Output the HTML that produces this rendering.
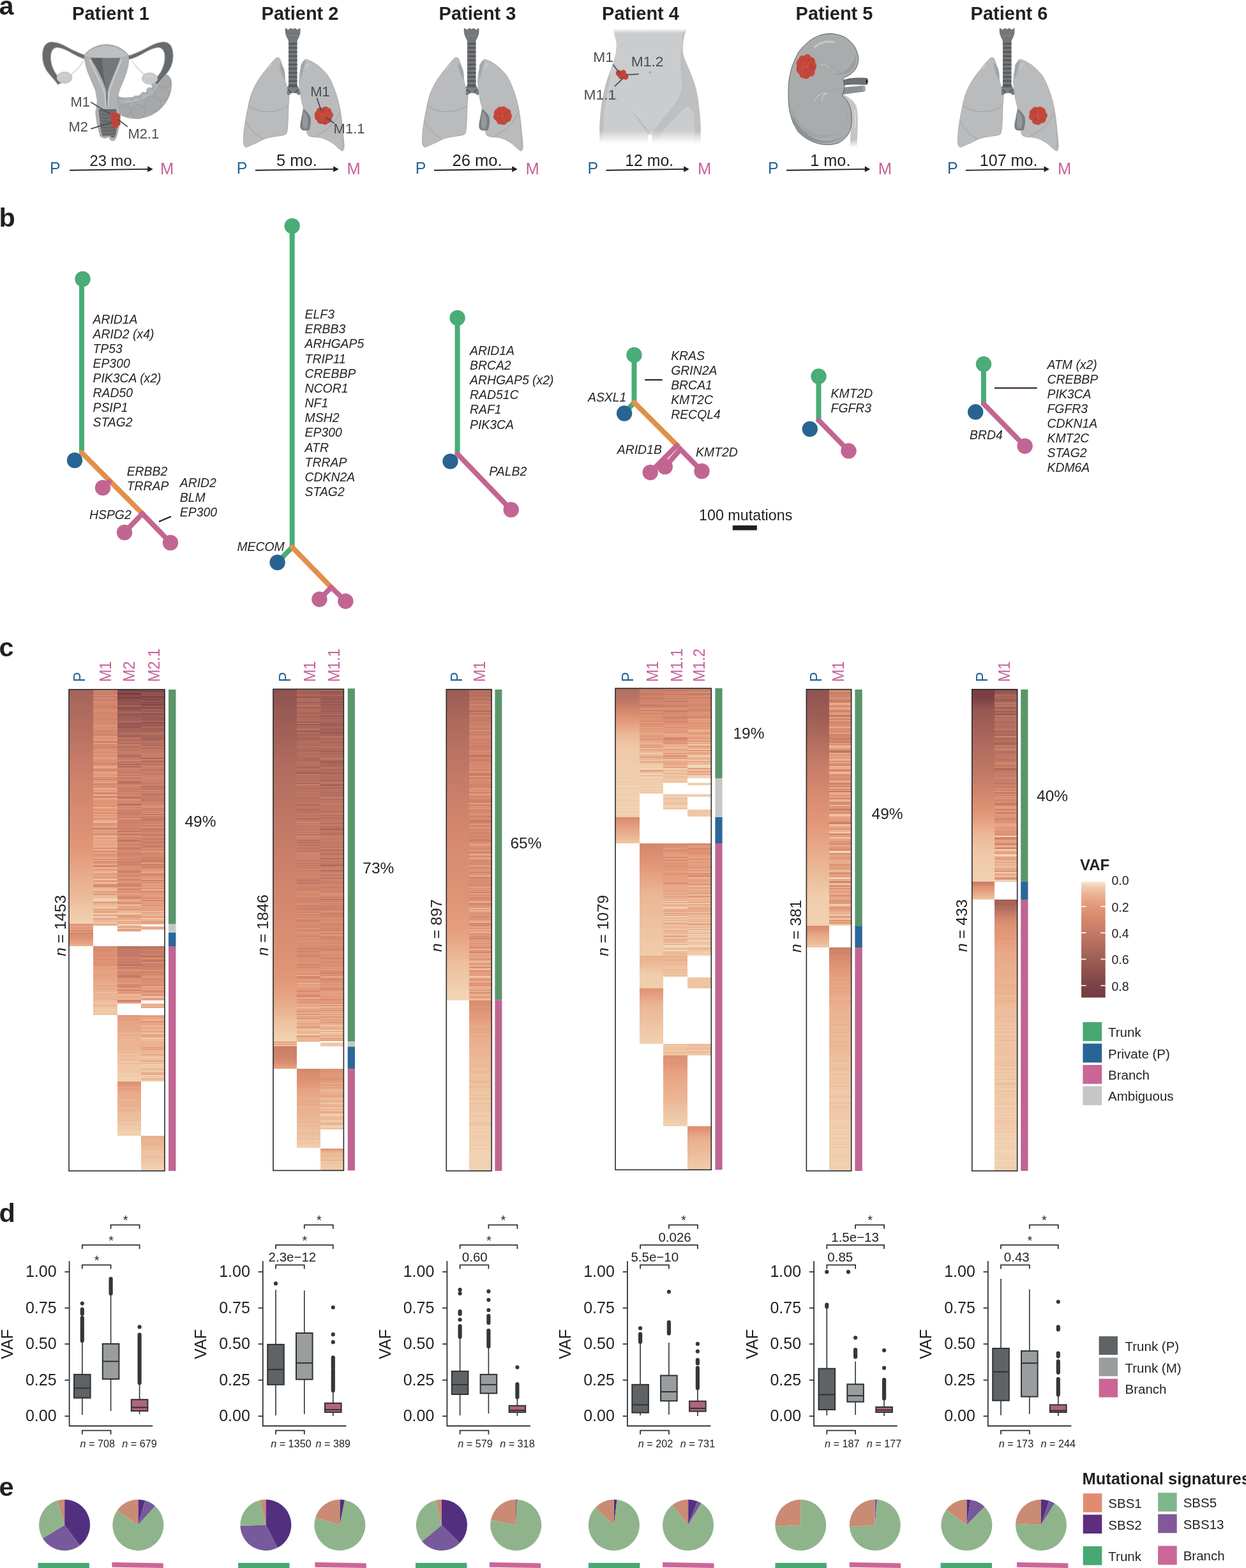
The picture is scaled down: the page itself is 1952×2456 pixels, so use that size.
<!DOCTYPE html><html><head><meta charset="utf-8"><title>Figure</title><style>html,body{margin:0;padding:0;background:#fff}#pg{position:relative;width:1952px;height:2456px;overflow:hidden;background:#fff}.hc{position:absolute}svg{position:absolute;left:0;top:0}svg text{font-family:"Liberation Sans", Arial, Helvetica, sans-serif}</style></head><body><div id="pg">
<div class="hc" style="left:108px;top:1080px;width:38px;height:754px;background:linear-gradient(#a56459 0px 2px,#a6645a 2px 4px,#a7655a 4px 8px,#a8655a 8px 10px,#a8665a 10px 12px,#a9665b 12px 14px,#a9675b 14px 16px,#aa675b 16px 20px,#ab685c 20px 24px,#ac695c 24px 28px,#ad6a5d 28px 32px,#ae6a5d 32px 34px,#ae6b5d 34px 36px,#af6b5e 36px 38px,#af6c5e 38px 40px,#b06c5e 40px 44px,#b16d5e 44px 46px,#b26d5f 46px 48px,#b26e5f 48px 50px,#b36e5f 50px 52px,#b36e60 52px 54px,#b46f60 54px 58px,#b57060 58px 60px,#b67061 60px 62px,#b67161 62px 64px,#b77161 64px 66px,#b87262 66px 70px,#b97262 70px 72px,#b97362 72px 74px,#ba7363 74px 76px,#bb7463 76px 80px,#bc7564 80px 84px,#bd7664 84px 86px,#be7665 86px 88px,#be7765 88px 90px,#bf7765 90px 92px,#c07765 92px 94px,#c07866 94px 96px,#c17866 96px 98px,#c17966 98px 100px,#c27967 100px 102px,#c37a67 102px 106px,#c47b67 106px 110px,#c57b68 110px 112px,#c67c68 112px 116px,#c77d68 116px 120px,#c87e69 120px 124px,#c97e69 124px 126px,#c97f69 126px 128px,#ca7f69 128px 130px,#cb806a 130px 134px,#cc816a 134px 138px,#cd816a 138px 140px,#cd826b 140px 142px,#ce826b 142px 144px,#ce836b 144px 146px,#cf836b 146px 150px,#d0846c 150px 154px,#d1846c 154px 156px,#d1856c 156px 160px,#d2856c 160px 162px,#d2866c 162px 164px,#d3866d 164px 168px,#d3876d 168px 170px,#d4876d 170px 174px,#d5886d 174px 176px,#d5886e 176px 180px,#d6896e 180px 184px,#d68a6f 184px 186px,#d78a6f 186px 190px,#d78b70 190px 192px,#d88b70 192px 196px,#d88c70 196px 198px,#d98c71 198px 200px,#d98d71 200px 204px,#da8d71 204px 206px,#da8e72 206px 210px,#db8f72 210px 214px,#db8f73 214px 216px,#dc9073 216px 222px,#dd9174 222px 226px,#dd9274 226px 228px,#de9275 228px 232px,#de9375 232px 234px,#df9375 234px 236px,#df9476 236px 240px,#e09476 240px 242px,#e09577 242px 244px,#e19577 244px 246px,#e19677 246px 248px,#e29678 248px 250px,#e29778 250px 252px,#e29879 252px 254px,#e3997a 254px 256px,#e39a7b 256px 258px,#e39b7c 258px 260px,#e39c7c 260px 262px,#e49d7d 262px 264px,#e49e7e 264px 266px,#e49f7f 266px 268px,#e5a080 268px 270px,#e5a181 270px 272px,#e5a282 272px 274px,#e5a383 274px 276px,#e6a484 276px 278px,#e6a585 278px 280px,#e6a685 280px 282px,#e7a786 282px 284px,#e7a887 284px 286px,#e7a988 286px 288px,#e7aa89 288px 290px,#e8ab8a 290px 292px,#e8ac8b 292px 294px,#e8ad8c 294px 296px,#e9ae8d 296px 298px,#e9af8e 298px 300px,#e9b08e 300px 302px,#e9b18f 302px 304px,#eab290 304px 306px,#eab291 306px 308px,#eab391 308px 310px,#eab492 310px 312px,#ebb593 312px 314px,#ebb694 314px 316px,#ebb795 316px 318px,#ebb896 318px 320px,#ecb998 320px 322px,#ecbb99 322px 324px,#ecbc9a 324px 326px,#edbd9b 326px 328px,#edbe9d 328px 330px,#edc09e 330px 332px,#edc19f 332px 334px,#eec2a1 334px 336px,#eec3a2 336px 338px,#eec4a3 338px 340px,#eec5a4 340px 342px,#efc6a5 342px 344px,#efc7a6 344px 346px,#efc8a7 346px 348px,#efc9a8 348px 350px,#efcaa9 350px 352px,#f0cbaa 352px 354px,#f0ccab 354px 356px,#f0cdac 356px 358px,#f0cead 358px 360px,#f0cfae 360px 362px,#f0d0b0 362px 364px,#f1d0b1 364px 366px,#f1d1b2 366px 367px,#e5a080 367px 367.5px,#d1856c 367.5px 368.5px,#eab391 368.5px 369.5px,#d88c70 369.5px 370px,#d2856c 370px 370.5px,#e39b7b 370.5px 371px,#e7a888 371px 372px,#cd816a 372px 372.5px,#e5a383 372.5px 373px,#d5896e 373px 374px,#d1856c 374px 374.5px,#e5a181 374.5px 375px,#e49f7f 375px 375.5px,#e7a786 375.5px 376px,#e29879 376px 377px,#f0ccab 377px 377.5px,#d6896e 377.5px 378px,#e49f7f 378px 378.5px,#d4876d 378.5px 379px,#edc19f 379px 379.5px,#e7a787 379.5px 380px,#d5886d 380px 381px,#d6896e 381px 382px,#d78a6f 382px 383px,#d88c70 383px 384px,#d98d71 384px 385px,#da8e72 385px 386px,#db9073 386px 387px,#dd9174 387px 388px,#de9275 388px 389px,#df9376 389px 390px,#e09576 390px 391px,#e19677 391px 392px,#e29879 392px 393px,#e39a7b 393px 394px,#e49d7d 394px 395px,#e49f80 395px 396px,#e5a282 396px 397px,#e6a484 397px 398px,#e7a786 398px 399px,#e7a989 399px 400px,#e8ac8b 400px 401px,#e9af8d 401px 402px,#fff 402px)"></div>
<div class="hc" style="left:146px;top:1080px;width:37.5px;height:754px;background:linear-gradient(#d5886e 0px 1px,#d0846b 1px 2px,#d0846c 2px 3px,#ce826b 3px 4px,#c27966 4px 5px,#c77d69 5px 6px,#d98c71 6px 7px,#b87262 7px 8px,#d0846c 8px 9px,#d88b70 9px 10px,#cc816a 10px 11px,#b97362 11px 12px,#d78b70 12px 14px,#ce836b 14px 15px,#c87d69 15px 16px,#cc816a 16px 17px,#cb806a 17px 18px,#d2866c 18px 19px,#dd9174 19px 20px,#d1856c 20px 22px,#d78a6f 22px 23px,#d0846c 23px 24px,#d2866c 24px 26px,#c37a67 26px 27px,#cf836b 27px 28px,#d1846c 28px 29px,#d1856c 29px 30px,#ce826b 30px 31px,#dc9073 31px 32px,#d0846c 32px 33px,#e29879 33px 34px,#d4876d 34px 35px,#cf846b 35px 36px,#d2866c 36px 37px,#d2856c 37px 39px,#d3866d 39px 41px,#d88c70 41px 42px,#d0846b 42px 43px,#d78a6f 43px 44px,#d3866d 44px 46px,#ca806a 46px 47px,#d4876d 47px 48px,#cf836b 48px 49px,#d98c71 49px 50px,#d5896e 50px 52px,#d78a6f 52px 53px,#ca7f69 53px 54px,#e09577 54px 55px,#db8f73 55px 57px,#de9375 57px 59px,#d68a6f 59px 60px,#d6896e 60px 61px,#df9476 61px 62px,#dc9073 62px 63px,#cf836b 63px 64px,#d68a6f 64px 65px,#d5896e 65px 66px,#d2856c 66px 67px,#d0846c 67px 68px,#e49e7e 68px 69px,#bf7765 69px 70px,#d3866d 70px 71px,#da8e72 71px 72px,#ca806a 72px 73px,#e5a080 73px 75px,#d88b70 75px 76px,#da8e72 76px 77px,#e29778 77px 79px,#e29879 79px 81px,#c87e69 81px 83px,#da8e72 83px 84px,#e5a080 84px 85px,#dc9073 85px 86px,#d4876d 86px 88px,#d78a6f 88px 89px,#d98c71 89px 90px,#cf836b 90px 92px,#d88c70 92px 93px,#dd9174 93px 95px,#dc9174 95px 96px,#de9375 96px 98px,#db8f72 98px 100px,#d88c70 100px 101px,#e39b7c 101px 102px,#dd9174 102px 103px,#da8e72 103px 104px,#d78b70 104px 105px,#de9375 105px 106px,#df9476 106px 107px,#e9af8d 107px 108px,#d88b70 108px 109px,#e6a484 109px 110px,#d6896e 110px 112px,#e5a282 112px 113px,#ca7f69 113px 114px,#e19577 114px 115px,#d88c70 115px 116px,#c57c68 116px 117px,#d98d71 117px 118px,#da8e72 118px 119px,#e49f7f 119px 120px,#e29778 120px 121px,#e9b18f 121px 122px,#e6a383 122px 124px,#d2866c 124px 125px,#d3866c 125px 126px,#d88c70 126px 127px,#dd9174 127px 128px,#da8d71 128px 129px,#e5a282 129px 130px,#e8aa89 130px 132px,#d88c70 132px 133px,#e6a383 133px 134px,#e19677 134px 135px,#df9375 135px 136px,#eab190 136px 137px,#d4876d 137px 138px,#dc9174 138px 140px,#c97f69 140px 141px,#d98d71 141px 142px,#e39a7b 142px 144px,#db8f73 144px 145px,#ebb593 145px 146px,#e09576 146px 147px,#cd816a 147px 148px,#de9275 148px 149px,#ca7f69 149px 150px,#e09576 150px 152px,#d3866d 152px 153px,#dc9073 153px 154px,#e5a080 154px 155px,#ecb997 155px 156px,#e7a786 156px 157px,#d3866d 157px 158px,#eab190 158px 159px,#dc9073 159px 160px,#e9b08f 160px 161px,#d2866c 161px 162px,#c97e69 162px 163px,#e09476 163px 164px,#e5a181 164px 166px,#eab190 166px 167px,#cb806a 167px 168px,#d3876d 168px 170px,#e9b08e 170px 172px,#e09576 172px 174px,#e19677 174px 176px,#d6896f 176px 177px,#e39c7d 177px 178px,#dd9174 178px 179px,#e19677 179px 181px,#e19577 181px 182px,#dc9073 182px 184px,#e7a787 184px 185px,#ebb694 185px 186px,#de9275 186px 187px,#e49e7e 187px 188px,#dd9174 188px 189px,#df9376 189px 191px,#ebb795 191px 192px,#db8f72 192px 193px,#d78a6f 193px 194px,#de9375 194px 195px,#eab290 195px 196px,#df9476 196px 197px,#e49e7f 197px 198px,#e29879 198px 199px,#e7a988 199px 200px,#e49e7e 200px 202px,#e09577 202px 203px,#d78a6f 203px 204px,#e9af8e 204px 206px,#e8ad8c 206px 208px,#edbe9c 208px 209px,#e29879 209px 210px,#d2856c 210px 211px,#e29879 211px 212px,#e5a282 212px 213px,#ce836b 213px 214px,#edc09e 214px 215px,#e39a7b 215px 216px,#de9275 216px 217px,#cc816a 217px 219px,#e29879 219px 220px,#e19677 220px 221px,#e9af8e 221px 222px,#e19677 222px 224px,#e8ab8a 224px 225px,#dd9174 225px 226px,#cf836b 226px 227px,#e49d7e 227px 228px,#e3997a 228px 229px,#eab492 229px 231px,#e9b08e 231px 232px,#e19677 232px 233px,#e6a383 233px 234px,#e49d7d 234px 235px,#eec2a1 235px 236px,#e5a382 236px 237px,#e29778 237px 238px,#e8ad8c 238px 240px,#e49e7e 240px 241px,#e8ac8b 241px 243px,#df9476 243px 244px,#eab190 244px 246px,#e6a383 246px 247px,#e49f7f 247px 249px,#ce836b 249px 250px,#eab492 250px 251px,#ebb593 251px 252px,#e09476 252px 253px,#d5896e 253px 254px,#e09577 254px 256px,#e9b08e 256px 257px,#e49d7d 257px 258px,#d0846c 258px 259px,#e3997a 259px 260px,#d98d71 260px 261px,#e8ad8c 261px 262px,#d4876d 262px 263px,#eab391 263px 265px,#d4876d 265px 267px,#ebb493 267px 268px,#e19677 268px 269px,#df9476 269px 270px,#d88c70 270px 272px,#e39b7b 272px 273px,#e5a382 273px 274px,#e8ad8c 274px 275px,#d78b70 275px 276px,#d5886e 276px 278px,#e39a7b 278px 279px,#efc9a7 279px 280px,#e6a585 280px 281px,#e19677 281px 282px,#e6a686 282px 283px,#e49d7d 283px 284px,#eab291 284px 286px,#edbe9c 286px 287px,#e5a080 287px 288px,#e6a484 288px 289px,#e39b7c 289px 291px,#e6a585 291px 292px,#ebb795 292px 293px,#da8e72 293px 294px,#e29879 294px 295px,#e8ac8b 295px 296px,#e7a786 296px 297px,#efc6a5 297px 298px,#edc1a0 298px 299px,#d98d71 299px 300px,#de9375 300px 301px,#e6a484 301px 302px,#f0cfaf 302px 303px,#e7aa89 303px 305px,#d78a6f 305px 307px,#dd9174 307px 308px,#d78a6f 308px 309px,#dd9174 309px 310px,#ecbd9b 310px 311px,#e6a584 311px 312px,#f0ccab 312px 313px,#e8ab8a 313px 314px,#edc1a0 314px 315px,#edbf9e 315px 316px,#df9375 316px 318px,#edc1a0 318px 319px,#e7a786 319px 320px,#e19677 320px 322px,#eec4a3 322px 323px,#e9af8e 323px 324px,#efc7a5 324px 325px,#ebb694 325px 326px,#edc1a0 326px 327px,#f1d6b8 327px 328px,#f0cdac 328px 330px,#f1d7b9 330px 331px,#f1d4b5 331px 332px,#e39b7c 332px 334px,#e8ab8a 334px 335px,#eab18f 335px 336px,#e9ae8d 336px 337px,#efcaa9 337px 338px,#eab392 338px 340px,#f0cdac 340px 342px,#edbe9c 342px 344px,#de9375 344px 345px,#eab290 345px 347px,#e9b08f 347px 348px,#dd9174 348px 349px,#e9b08e 349px 350px,#eec5a4 350px 351px,#f1d7b9 351px 352px,#e8ac8b 352px 354px,#e29778 354px 355px,#f1d7b9 355px 357px,#edbf9e 357px 358px,#e29879 358px 359px,#efc8a7 359px 360px,#df9375 360px 361px,#edc1a0 361px 362px,#ecbb99 362px 363px,#ecba98 363px 364px,#eab190 364px 365px,#f1d7b9 365px 366px,#efc9a8 366px 367px,#e19677 367px 368px,#ebb795 368px 369px,#eab391 369px 370px,#fff 370px 402px,#d2866c 402px 403px,#d78b6f 403px 404px,#d88c70 404px 405px,#da8e72 405px 407px,#d78a6f 407px 409px,#d88c70 409px 410px,#db8f73 410px 412px,#dd9274 412px 413px,#da8e72 413px 414px,#df9476 414px 415px,#d78a6f 415px 416px,#db8f72 416px 417px,#d78b70 417px 418px,#dc9073 418px 420px,#df9476 420px 421px,#de9375 421px 422px,#d98d71 422px 423px,#dd9174 423px 424px,#de9375 424px 425px,#e09577 425px 426px,#dc9073 426px 427px,#df9376 427px 428px,#dc9174 428px 429px,#e29778 429px 430px,#db8f73 430px 432px,#e19677 432px 433px,#e29778 433px 434px,#e5a281 434px 435px,#e5a181 435px 436px,#e29879 436px 437px,#e39b7b 437px 438px,#e6a484 438px 439px,#e49c7d 439px 440px,#e5a282 440px 441px,#e6a383 441px 444px,#e49d7e 444px 445px,#e7a888 445px 446px,#e39a7a 446px 447px,#e49e7f 447px 448px,#e49f80 448px 450px,#e6a484 450px 452px,#e6a686 452px 453px,#e5a282 453px 454px,#e6a383 454px 455px,#e6a585 455px 457px,#e9b08e 457px 458px,#e6a484 458px 459px,#e7a988 459px 460px,#e9b08e 460px 461px,#e8aa89 461px 462px,#eab392 462px 463px,#e5a080 463px 464px,#e5a382 464px 465px,#e8ab8a 465px 467px,#eab291 467px 468px,#e7aa89 468px 469px,#e6a383 469px 470px,#e9af8e 470px 473px,#ecb897 473px 475px,#edbf9e 475px 476px,#e8ac8b 476px 477px,#ecb997 477px 478px,#e7a988 478px 479px,#ecbc9a 479px 480px,#eab291 480px 482px,#ebb493 482px 483px,#eab492 483px 484px,#eab18f 484px 485px,#e8ac8b 485px 486px,#edc1a0 486px 487px,#ecb998 487px 488px,#ecbb99 488px 489px,#eec3a1 489px 490px,#edbf9e 490px 491px,#eec4a3 491px 493px,#ecbc9a 493px 494px,#ebb593 494px 496px,#eec2a1 496px 498px,#efc7a6 498px 499px,#edbe9c 499px 500px,#f0cead 500px 502px,#eec4a3 502px 504px,#f0ccab 504px 505px,#f0cead 505px 506px,#efc7a5 506px 508px,#edc1a0 508px 509px,#f0cead 509px 510px,#fff 510px)"></div>
<div class="hc" style="left:183.5px;top:1080px;width:37.5px;height:754px;background:linear-gradient(#7b4045 0px 1px,#85494a 1px 2px,#773d42 2px 3px,#9c5d55 3px 4px,#7e4347 4px 6px,#7c4145 6px 7px,#753b41 7px 8px,#85494a 8px 9px,#834749 9px 10px,#985953 10px 11px,#7c4146 11px 12px,#783d43 12px 13px,#844849 13px 14px,#874b4b 14px 16px,#935551 16px 17px,#8c4f4d 17px 18px,#925551 18px 19px,#8a4d4c 19px 20px,#975853 20px 21px,#a16057 21px 22px,#7d4246 22px 23px,#965752 23px 24px,#9c5c55 24px 25px,#a56359 25px 27px,#995a53 27px 28px,#8a4e4d 28px 29px,#8c4f4d 29px 30px,#965752 30px 32px,#965852 32px 33px,#965752 33px 34px,#a8665a 34px 35px,#a9675b 35px 37px,#995a54 37px 38px,#955652 38px 39px,#a05f57 39px 40px,#925450 40px 41px,#9c5c55 41px 43px,#9a5b54 43px 44px,#a8665b 44px 45px,#9e5e56 45px 46px,#9d5d56 46px 47px,#a6645a 47px 48px,#a05f57 48px 49px,#9f5f57 49px 50px,#b36e5f 50px 51px,#af6c5e 51px 52px,#935551 52px 53px,#a05f57 53px 54px,#874a4b 54px 55px,#af6b5d 55px 56px,#884c4c 56px 57px,#aa675b 57px 58px,#925450 58px 59px,#935551 59px 60px,#a36258 60px 61px,#a8665b 61px 63px,#a36258 63px 65px,#ac695c 65px 66px,#a66459 66px 67px,#aa675b 67px 68px,#b26d5f 68px 69px,#af6b5d 69px 70px,#af6b5e 70px 71px,#b16d5f 71px 72px,#985953 72px 73px,#a9665b 73px 74px,#a8665a 74px 75px,#c17866 75px 77px,#ac695c 77px 78px,#c07866 78px 79px,#ab685c 79px 80px,#b46f60 80px 81px,#b97362 81px 83px,#c67d68 83px 84px,#a56359 84px 85px,#bd7664 85px 86px,#cd826b 86px 87px,#c37a67 87px 89px,#b57060 89px 90px,#b16c5e 90px 91px,#c37a67 91px 92px,#c17966 92px 93px,#c27966 93px 94px,#b87262 94px 95px,#bd7564 95px 96px,#c47b67 96px 97px,#cb806a 97px 98px,#bf7765 98px 99px,#c97e69 99px 100px,#c07765 100px 101px,#ce826b 101px 102px,#a7655a 102px 103px,#b97362 103px 104px,#b46f60 104px 106px,#b87262 106px 107px,#cc816a 107px 108px,#c77d69 108px 109px,#c07866 109px 110px,#d6896e 110px 112px,#bc7564 112px 114px,#b97362 114px 115px,#d4876d 115px 116px,#a9665b 116px 118px,#ca7f69 118px 119px,#c07865 119px 120px,#af6b5d 120px 122px,#ca7f69 122px 123px,#cf836b 123px 124px,#d1856c 124px 125px,#c77d68 125px 127px,#c97e69 127px 128px,#d2866c 128px 129px,#b77161 129px 130px,#c07866 130px 131px,#d1856c 131px 132px,#d3866d 132px 133px,#c47b67 133px 135px,#d3866d 135px 136px,#cd816a 136px 137px,#d88c70 137px 138px,#b87262 138px 139px,#c77d68 139px 140px,#c87e69 140px 141px,#da8e72 141px 142px,#c17966 142px 143px,#cc816a 143px 144px,#b57060 144px 146px,#ad6a5d 146px 147px,#c97e69 147px 148px,#c07865 148px 149px,#d88b70 149px 151px,#cc816a 151px 153px,#d88c70 153px 154px,#c47a67 154px 155px,#c07865 155px 156px,#cb806a 156px 157px,#cd826a 157px 158px,#c67c68 158px 160px,#cb806a 160px 161px,#d4876d 161px 162px,#cf836b 162px 163px,#c87e69 163px 164px,#cf836b 164px 165px,#d88b70 165px 166px,#d4876d 166px 167px,#c47a67 167px 168px,#c67c68 168px 169px,#b26e5f 169px 170px,#c77d68 170px 171px,#d4876d 171px 172px,#db8f72 172px 174px,#ce826b 174px 175px,#cd826b 175px 176px,#da8d71 176px 177px,#d6896e 177px 178px,#c97f69 178px 179px,#b46f60 179px 180px,#ba7363 180px 182px,#dd9174 182px 184px,#cb806a 184px 185px,#d1856c 185px 186px,#dd9174 186px 187px,#cf836b 187px 188px,#d1856c 188px 189px,#c97f69 189px 190px,#ce826b 190px 192px,#c47b67 192px 194px,#c97f69 194px 196px,#cc816a 196px 197px,#d0846c 197px 198px,#d4876d 198px 199px,#cf836b 199px 200px,#c97e69 200px 201px,#d88b70 201px 202px,#e09576 202px 204px,#c97e69 204px 206px,#d0846c 206px 207px,#cb806a 207px 208px,#c47b67 208px 209px,#d2856c 209px 210px,#cd826b 210px 211px,#d1846c 211px 212px,#cd826b 212px 213px,#d3866d 213px 214px,#cf836b 214px 216px,#cd826b 216px 218px,#cb806a 218px 219px,#d4876d 219px 220px,#d1856c 220px 222px,#b36e60 222px 223px,#d4876d 223px 224px,#de9275 224px 226px,#b46f60 226px 227px,#cb806a 227px 229px,#e19678 229px 231px,#c67d68 231px 232px,#d3876d 232px 234px,#d98d71 234px 235px,#c47a67 235px 236px,#c07865 236px 238px,#c97f69 238px 239px,#da8e72 239px 241px,#cc816a 241px 242px,#ce826b 242px 243px,#d4876d 243px 245px,#d0846c 245px 246px,#e3997a 246px 247px,#bd7664 247px 248px,#c77d69 248px 249px,#c47a67 249px 250px,#cf836b 250px 251px,#d98c71 251px 252px,#cf836b 252px 253px,#d6896e 253px 254px,#dc9073 254px 255px,#ce826b 255px 256px,#cc816a 256px 257px,#c97f69 257px 258px,#ce836b 258px 259px,#cd826b 259px 260px,#d78a6f 260px 262px,#d5886e 262px 264px,#d6896e 264px 265px,#df9476 265px 266px,#bf7765 266px 267px,#d4876d 267px 268px,#dc9174 268px 269px,#c77d68 269px 270px,#c97e69 270px 271px,#d2866c 271px 272px,#d6896e 272px 273px,#c67c68 273px 274px,#d4876d 274px 275px,#cb806a 275px 276px,#e29878 276px 277px,#d1856c 277px 278px,#dd9174 278px 279px,#e09577 279px 281px,#d2856c 281px 282px,#df9476 282px 283px,#d6896e 283px 284px,#ca7f69 284px 286px,#d4876d 286px 288px,#e09577 288px 289px,#d78a6f 289px 290px,#d6896f 290px 292px,#da8e72 292px 293px,#c87e69 293px 294px,#e5a282 294px 295px,#e6a686 295px 296px,#c47b67 296px 297px,#d68a6f 297px 299px,#cd826b 299px 300px,#e7a786 300px 301px,#e09476 301px 302px,#d78b70 302px 303px,#dd9274 303px 304px,#d2866c 304px 305px,#c37a67 305px 306px,#da8e72 306px 307px,#ce836b 307px 308px,#c57b68 308px 309px,#e9ae8d 309px 310px,#dc9174 310px 312px,#d88c70 312px 313px,#d2856c 313px 314px,#de9275 314px 315px,#e09577 315px 316px,#de9275 316px 317px,#db8f73 317px 319px,#eab492 319px 320px,#e49d7d 320px 321px,#e39a7b 321px 322px,#e29778 322px 323px,#dd9174 323px 324px,#d98c71 324px 326px,#d0846c 326px 328px,#e9b08f 328px 329px,#e5a081 329px 330px,#e9af8e 330px 332px,#e09476 332px 333px,#e29879 333px 334px,#df9476 334px 335px,#d2856c 335px 336px,#e9b08e 336px 337px,#ecba98 337px 339px,#e49d7d 339px 340px,#e9af8e 340px 341px,#df9476 341px 342px,#edc09f 342px 343px,#e09577 343px 345px,#e3997a 345px 346px,#ecbb99 346px 348px,#e6a585 348px 349px,#eec3a2 349px 353px,#e19677 353px 355px,#e8ab8a 355px 356px,#dc9073 356px 357px,#e49d7d 357px 358px,#edc09f 358px 359px,#e39b7c 359px 360px,#e9af8d 360px 361px,#f1d7b9 361px 362px,#e6a484 362px 363px,#e9b18f 363px 365px,#e8ad8c 365px 366px,#e7a988 366px 367px,#e8ab8a 367px 368px,#fff 368px 369px,#eec4a2 369px 369.5px,#e8ac8b 369.5px 370.5px,#f0cead 370.5px 371px,#ecb997 371px 371.5px,#e09476 371.5px 372px,#e3997a 372px 373px,#f1d2b3 373px 374px,#ebb694 374px 374.5px,#ebb593 374.5px 375px,#eab290 375px 375.5px,#e7a888 375.5px 376.5px,#e09576 376.5px 377px,#eab391 377px 377.5px,#e7a786 377.5px 378px,#e5a181 378px 378.5px,#e7a786 378.5px 379px,#fff 379px 402px,#bb7463 402px 404px,#c17966 404px 405px,#af6b5e 405px 406px,#d1856c 406px 407px,#b97362 407px 408px,#c27967 408px 410px,#c87e69 410px 411px,#bc7564 411px 412px,#c67c68 412px 413px,#c47b67 413px 414px,#c27967 414px 416px,#c27966 416px 417px,#bf7765 417px 418px,#cb806a 418px 420px,#d4876d 420px 421px,#ca7f69 421px 422px,#c87d69 422px 423px,#cb806a 423px 425px,#c77d68 425px 426px,#c77d69 426px 427px,#c67c68 427px 429px,#d0846c 429px 430px,#be7665 430px 431px,#ba7363 431px 433px,#d3866c 433px 434px,#da8e72 434px 435px,#c47b67 435px 437px,#d6896f 437px 439px,#dd9174 439px 441px,#df9375 441px 442px,#c27966 442px 443px,#d5896e 443px 445px,#cf836b 445px 446px,#d2856c 446px 448px,#bc7564 448px 449px,#c47a67 449px 451px,#d88b70 451px 453px,#e09476 453px 454px,#d78b6f 454px 455px,#e29879 455px 456px,#d88b70 456px 457px,#e09476 457px 458px,#de9275 458px 459px,#e29879 459px 460px,#e29778 460px 462px,#c07866 462px 463px,#e39b7b 463px 464px,#c17966 464px 465px,#d5886e 465px 466px,#d6896e 466px 467px,#e39b7b 467px 468px,#e49d7d 468px 470px,#d68a6f 470px 471px,#c87e69 471px 472px,#dc9073 472px 473px,#e9af8e 473px 474px,#db8f72 474px 475px,#dd9174 475px 476px,#e7a888 476px 477px,#ebb694 477px 481px,#e3997a 481px 482px,#eab391 482px 483px,#eab492 483px 485px,#ecba98 485px 486px,#ce826b 486px 488px,#d0846c 488px 489px,#de9375 489px 490px,#e5a282 490px 491px,#e9ae8d 491px 492px,#fff 492px 510px,#e19577 510px 511px,#e39b7b 511px 513px,#e49f80 513px 514px,#e5a181 514px 515px,#e39c7c 515px 516px,#e49e7e 516px 518px,#e5a080 518px 519px,#e5a282 519px 520px,#e6a484 520px 521px,#e5a382 521px 523px,#e6a484 523px 524px,#e7a887 524px 525px,#e7a786 525px 526px,#e6a686 526px 527px,#e7a786 527px 528px,#e7a887 528px 529px,#e6a585 529px 531px,#e7a988 531px 534px,#e7a786 534px 535px,#e8ab8b 535px 536px,#e8ad8c 536px 537px,#eab391 537px 539px,#e9b18f 539px 540px,#e8ac8b 540px 541px,#e9af8e 541px 543px,#eab291 543px 544px,#ebb493 544px 545px,#eab290 545px 546px,#e8ac8b 546px 547px,#ebb694 547px 549px,#eab391 549px 550px,#eab291 550px 551px,#ebb795 551px 552px,#ebb593 552px 553px,#e9ae8d 553px 554px,#eab492 554px 555px,#eab391 555px 556px,#eab392 556px 558px,#ebb493 558px 559px,#ebb593 559px 560px,#ecba99 560px 561px,#eab391 561px 562px,#ebb795 562px 563px,#eab392 563px 565px,#edbf9d 565px 566px,#ecb998 566px 568px,#ecba98 568px 569px,#eab492 569px 570px,#eec3a1 570px 572px,#ecbc9a 572px 573px,#edbf9e 573px 574px,#ecbb99 574px 575px,#edbf9e 575px 576px,#eec2a1 576px 577px,#edc09e 577px 578px,#edbe9d 578px 580px,#ebb896 580px 581px,#eec2a0 581px 582px,#edc09f 582px 583px,#efcaa9 583px 584px,#efc7a5 584px 585px,#ecbb99 585px 587px,#efc9a8 587px 588px,#eec6a5 588px 589px,#eec5a4 589px 590px,#efcaa9 590px 591px,#eec5a4 591px 592px,#efc7a6 592px 593px,#f0ceae 593px 594px,#edc09e 594px 595px,#efc9a8 595px 597px,#efc6a5 597px 599px,#eec6a4 599px 600px,#efcaa9 600px 601px,#efcaa8 601px 602px,#f0cfae 602px 603px,#f0ccab 603px 605px,#efc9a8 605px 607px,#f1d3b4 607px 609px,#f1d1b1 609px 610px,#f0cdac 610px 612px,#f1d2b3 612px 613px,#f1d3b4 613px 614px,#dd9174 614px 615px,#e09476 615px 616px,#de9275 616px 618px,#e09576 618px 619px,#df9476 619px 620px,#e19677 620px 621px,#e49d7e 621px 622px,#e49f7f 622px 623px,#e5a080 623px 624px,#e49d7e 624px 626px,#e5a181 626px 628px,#e6a584 628px 629px,#e7a988 629px 631px,#e7a887 631px 632px,#e8ab8a 632px 633px,#e7aa89 633px 634px,#e8ab8a 634px 635px,#e8ad8c 635px 637px,#e8ab8a 637px 638px,#e9ad8c 638px 639px,#e7aa89 639px 640px,#e8ac8b 640px 641px,#eab391 641px 642px,#e9af8e 642px 643px,#eab391 643px 644px,#e9b08f 644px 646px,#e8ab8a 646px 647px,#eab290 647px 648px,#e9b08e 648px 649px,#ebb593 649px 650px,#e8ac8b 650px 651px,#e9b08e 651px 652px,#e9af8e 652px 653px,#ebb493 653px 654px,#eab290 654px 655px,#ebb896 655px 657px,#ebb694 657px 658px,#e9af8e 658px 659px,#ebb593 659px 660px,#eab290 660px 661px,#ecbc9a 661px 663px,#ecba99 663px 664px,#ecbd9b 664px 665px,#edbd9b 665px 667px,#ecba98 667px 668px,#ecbc9b 668px 670px,#ecba98 670px 671px,#edbf9e 671px 672px,#edc09e 672px 674px,#ecba98 674px 675px,#ecbd9b 675px 677px,#efc8a7 677px 678px,#eec6a5 678px 680px,#eec3a2 680px 682px,#eec6a4 682px 683px,#efc8a6 683px 684px,#efc9a8 684px 686px,#efc8a6 686px 687px,#f0cbaa 687px 688px,#efc7a6 688px 689px,#f0cdad 689px 690px,#f0cdac 690px 691px,#f0ccab 691px 692px,#f0d0b0 692px 693px,#f1d2b3 693px 694px,#f1d1b2 694px 695px,#f0cdac 695px 696px,#f1d1b2 696px 697px,#f0cdad 697px 699px,#fff 699px)"></div>
<div class="hc" style="left:221px;top:1080px;width:37px;height:754px;background:linear-gradient(#7a4044 0px 1px,#894c4c 1px 2px,#834749 2px 3px,#7e4347 3px 4px,#8d504e 4px 5px,#925450 5px 6px,#925451 6px 7px,#8c4f4d 7px 8px,#8b4e4d 8px 9px,#9c5c55 9px 10px,#844849 10px 11px,#773d42 11px 12px,#894c4c 12px 14px,#894d4c 14px 16px,#894c4c 16px 17px,#8f514f 17px 18px,#945652 18px 19px,#a16158 19px 20px,#7b4045 20px 21px,#894d4c 21px 22px,#9e5e56 22px 23px,#7f4447 23px 24px,#7c4145 24px 25px,#995a54 25px 26px,#a36258 26px 27px,#945651 27px 28px,#8d504e 28px 30px,#965752 30px 31px,#a46359 31px 33px,#965752 33px 34px,#9c5c55 34px 35px,#a46258 35px 37px,#9e5e56 37px 38px,#7e4347 38px 39px,#a7655a 39px 40px,#995a54 40px 42px,#9a5b54 42px 44px,#995a54 44px 46px,#925450 46px 47px,#a06057 47px 48px,#945651 48px 49px,#b16d5f 49px 50px,#a36258 50px 51px,#925450 51px 52px,#894c4c 52px 53px,#a16057 53px 54px,#9c5c55 54px 55px,#a36258 55px 56px,#8a4e4d 56px 57px,#ae6a5d 57px 58px,#a56359 58px 59px,#b46f60 59px 60px,#a36258 60px 61px,#a06057 61px 63px,#a56459 63px 64px,#a16057 64px 66px,#b26e5f 66px 67px,#a8665b 67px 68px,#bf7765 68px 69px,#ac695c 69px 70px,#c17966 70px 71px,#a66459 71px 72px,#a46359 72px 73px,#a9665b 73px 74px,#ab685c 74px 75px,#ad695d 75px 76px,#9c5d55 76px 77px,#a9665b 77px 78px,#a56459 78px 79px,#af6b5e 79px 80px,#ac695c 80px 81px,#c87e69 81px 82px,#b87262 82px 83px,#b36e5f 83px 85px,#b57060 85px 86px,#b67161 86px 87px,#aa675b 87px 88px,#b77161 88px 89px,#c87d69 89px 90px,#be7665 90px 92px,#a7655a 92px 93px,#c97e69 93px 94px,#c37a67 94px 96px,#bd7664 96px 97px,#c37a67 97px 98px,#c47b67 98px 100px,#c37a67 100px 101px,#d3866d 101px 102px,#be7665 102px 103px,#ce826b 103px 104px,#c67c68 104px 106px,#c87e69 106px 107px,#a9675b 107px 109px,#d2866c 109px 110px,#cd826a 110px 111px,#b26d5f 111px 112px,#bb7463 112px 113px,#a9675b 113px 114px,#c27a67 114px 115px,#c87e69 115px 116px,#c77d69 116px 117px,#aa685b 117px 118px,#c37a67 118px 119px,#d2856c 119px 121px,#d5886e 121px 122px,#be7664 122px 123px,#cf836b 123px 124px,#c37a67 124px 125px,#c77d69 125px 126px,#b26d5f 126px 127px,#c77d69 127px 129px,#d4876d 129px 130px,#c57b68 130px 131px,#c27967 131px 132px,#bf7765 132px 133px,#ca7f6a 133px 134px,#cd826b 134px 136px,#d6896e 136px 137px,#c37a67 137px 138px,#d4876d 138px 140px,#d5886e 140px 141px,#c67c68 141px 143px,#d5896e 143px 144px,#c97e69 144px 145px,#c67c68 145px 146px,#c97f69 146px 147px,#c27966 147px 149px,#da8e72 149px 150px,#c37a67 150px 151px,#b97262 151px 153px,#bf7765 153px 154px,#c57b68 154px 155px,#c17866 155px 156px,#b46f60 156px 157px,#cf836b 157px 158px,#d5896e 158px 159px,#c87d69 159px 160px,#c67c68 160px 161px,#d2856c 161px 162px,#cb806a 162px 163px,#c57c68 163px 164px,#b06c5e 164px 165px,#c87e69 165px 167px,#c97f69 167px 169px,#c67c68 169px 170px,#c77d69 170px 171px,#c77d68 171px 172px,#c57c68 172px 173px,#bb7463 173px 174px,#c77d68 174px 175px,#c97f69 175px 176px,#ce836b 176px 178px,#d1856c 178px 179px,#cd816a 179px 180px,#dc9073 180px 181px,#c97e69 181px 182px,#df9476 182px 185px,#cd826b 185px 187px,#ce836b 187px 188px,#ca7f69 188px 190px,#de9275 190px 191px,#cd826b 191px 193px,#d98c71 193px 194px,#df9476 194px 195px,#b56f60 195px 196px,#ca806a 196px 197px,#e09577 197px 198px,#cc816a 198px 200px,#cb806a 200px 201px,#c77d68 201px 203px,#c47b68 203px 204px,#b77161 204px 205px,#d2856c 205px 206px,#d3866d 206px 207px,#cd816a 207px 208px,#d1856c 208px 209px,#c87e69 209px 210px,#d78a6f 210px 212px,#d5886e 212px 213px,#c67c68 213px 214px,#ca806a 214px 215px,#de9275 215px 216px,#da8e72 216px 217px,#cf836b 217px 218px,#b77162 218px 219px,#ce836b 219px 220px,#c87e69 220px 222px,#c67d68 222px 223px,#dc9073 223px 224px,#d0846c 224px 225px,#cf836b 225px 227px,#cb806a 227px 228px,#bc7564 228px 229px,#c97f69 229px 230px,#dd9274 230px 231px,#e19677 231px 232px,#b97362 232px 233px,#d5886d 233px 234px,#be7664 234px 235px,#d3876d 235px 236px,#d2856c 236px 238px,#cd826b 238px 239px,#bb7463 239px 240px,#cd816a 240px 241px,#cc816a 241px 242px,#db8f73 242px 243px,#b97362 243px 244px,#dd9274 244px 245px,#c07866 245px 247px,#cf836b 247px 248px,#e19577 248px 249px,#d2866c 249px 250px,#d3866d 250px 252px,#d4876d 252px 253px,#e3997a 253px 255px,#d1856c 255px 256px,#d0846c 256px 257px,#d78a6f 257px 259px,#c87e69 259px 260px,#e29778 260px 261px,#d0846c 261px 263px,#d3866d 263px 265px,#c07865 265px 266px,#da8d71 266px 267px,#cc816a 267px 268px,#bb7463 268px 269px,#cb806a 269px 270px,#d3866d 270px 271px,#e09577 271px 272px,#e5a080 272px 273px,#d5886e 273px 274px,#c27967 274px 275px,#d5886e 275px 276px,#d3876d 276px 278px,#cf836b 278px 280px,#d88b70 280px 281px,#e5a282 281px 282px,#d78b70 282px 283px,#e3997a 283px 285px,#e7a786 285px 287px,#e29778 287px 289px,#c37a67 289px 290px,#d78a6f 290px 291px,#dc9174 291px 293px,#e39b7c 293px 294px,#df9476 294px 296px,#e49e7f 296px 297px,#e7a787 297px 298px,#d78a6f 298px 299px,#ca7f69 299px 300px,#df9375 300px 301px,#e09577 301px 302px,#df9476 302px 303px,#d98c71 303px 304px,#e29879 304px 305px,#e9b08f 305px 306px,#dc9073 306px 307px,#e09476 307px 308px,#df9476 308px 309px,#eab391 309px 310px,#dc9073 310px 312px,#e3997a 312px 313px,#eab492 313px 315px,#d68a6f 315px 316px,#d4876d 316px 317px,#df9375 317px 318px,#e39b7b 318px 319px,#e09577 319px 321px,#e6a584 321px 322px,#db8f73 322px 323px,#e9ae8c 323px 324px,#df9375 324px 325px,#e19677 325px 326px,#e39b7c 326px 327px,#ce826b 327px 328px,#e7aa89 328px 329px,#e09577 329px 330px,#d6896e 330px 331px,#ce826b 331px 332px,#ecbb99 332px 333px,#e19677 333px 335px,#e49d7e 335px 338px,#dd9274 338px 339px,#e39a7b 339px 340px,#e9b08e 340px 341px,#e5a282 341px 342px,#e39c7c 342px 344px,#e6a686 344px 345px,#e49f7f 345px 347px,#f0ceae 347px 348px,#e39a7a 348px 349px,#e9ae8d 349px 350px,#e6a483 350px 351px,#eec5a4 351px 352px,#e5a080 352px 353px,#eab190 353px 354px,#eec4a3 354px 355px,#e3997a 355px 357px,#e8aa89 357px 358px,#f1d3b4 358px 359px,#ebb795 359px 361px,#e9b08f 361px 362px,#e6a585 362px 363px,#e7a787 363px 364px,#da8e72 364px 365px,#e7a989 365px 367px,#eab392 367px 368px,#fff 368px 371px,#e8ab8a 371px 371.5px,#eab391 371.5px 372px,#ebb694 372px 372.5px,#e7a787 372.5px 373px,#eab290 373px 373.5px,#e8ad8c 373.5px 374px,#edbe9c 374px 374.5px,#e8ab8a 374.5px 375px,#e6a484 375px 376px,#fff 376px 402px,#bd7564 402px 403px,#c27967 403px 404px,#b36e60 404px 405px,#c77d68 405px 407px,#c57c68 407px 409px,#d5886d 409px 410px,#b87262 410px 411px,#cc816a 411px 412px,#c07866 412px 413px,#c97f69 413px 414px,#ce826b 414px 416px,#c77d68 416px 417px,#bc7564 417px 418px,#b26e5f 418px 419px,#ca7f69 419px 420px,#d78a6f 420px 421px,#d88c70 421px 422px,#ca7f69 422px 424px,#b16d5e 424px 425px,#cf836b 425px 426px,#bd7664 426px 427px,#dd9174 427px 428px,#df9476 428px 429px,#c37a67 429px 431px,#cc816a 431px 432px,#c67d68 432px 433px,#cb806a 433px 434px,#c97f69 434px 435px,#d1856c 435px 436px,#ce836b 436px 438px,#d1856c 438px 439px,#d5886e 439px 440px,#e09577 440px 441px,#da8e72 441px 442px,#c87e69 442px 443px,#ce826b 443px 444px,#d4876d 444px 445px,#dd9174 445px 446px,#c87e69 446px 447px,#d98d71 447px 449px,#de9375 449px 450px,#e29879 450px 452px,#d3866d 452px 453px,#d98c71 453px 454px,#d78b70 454px 456px,#df9375 456px 457px,#d6896e 457px 458px,#de9375 458px 459px,#da8e72 459px 460px,#de9275 460px 461px,#db8f72 461px 462px,#d98c71 462px 463px,#cf836b 463px 464px,#e29778 464px 465px,#eab291 465px 466px,#e5a080 466px 467px,#e09476 467px 468px,#df9476 468px 469px,#e9af8e 469px 470px,#e39a7b 470px 471px,#db8f73 471px 472px,#d5886e 472px 473px,#dc9073 473px 474px,#de9275 474px 475px,#e6a585 475px 476px,#e5a181 476px 477px,#de9375 477px 479px,#e29879 479px 480px,#eab391 480px 481px,#efcaa9 481px 483px,#e39c7d 483px 485px,#e5a181 485px 486px,#e6a483 486px 487px,#fff 487px 492px,#e9b08e 492px 492.5px,#eab190 492.5px 493px,#e9ae8d 493px 493.5px,#e9af8e 493.5px 494px,#e8aa89 494px 494.5px,#e9ae8d 494.5px 495.5px,#e5a181 495.5px 496px,#e6a685 496px 496.5px,#eec3a2 496.5px 497px,#e7a888 497px 497.5px,#e49e7e 497.5px 498px,#e7a786 498px 498.5px,#e9b08e 498.5px 499px,#fff 499px 510px,#e7aa89 510px 511px,#e29778 511px 513px,#e8aa8a 513px 515px,#e39b7c 515px 516px,#ebb694 516px 517px,#ecba98 517px 518px,#e6a685 518px 519px,#e5a080 519px 520px,#e29778 520px 522px,#e6a483 522px 523px,#e8ad8c 523px 524px,#e39b7b 524px 525px,#e8ab8a 525px 526px,#ecb897 526px 528px,#e8ad8c 528px 529px,#e8ac8b 529px 530px,#e5a181 530px 531px,#e7a988 531px 532px,#eec5a4 532px 533px,#ebb795 533px 534px,#e6a585 534px 535px,#e8ab8a 535px 536px,#e5a282 536px 537px,#ecbb99 537px 538px,#eec2a0 538px 539px,#efc8a7 539px 540px,#e19677 540px 541px,#e8ac8b 541px 542px,#e19677 542px 543px,#ebb694 543px 544px,#e5a081 544px 545px,#eec4a3 545px 546px,#f0ccab 546px 548px,#e9ae8c 548px 550px,#f0cbaa 550px 551px,#eab290 551px 552px,#e9ad8c 552px 553px,#eab290 553px 554px,#eab291 554px 555px,#edc09e 555px 556px,#e3997a 556px 557px,#ecba98 557px 558px,#edbf9d 558px 559px,#e5a282 559px 561px,#e7a786 561px 562px,#e7a787 562px 563px,#e5a181 563px 565px,#ebb896 565px 567px,#e8ac8b 567px 568px,#eec3a1 568px 569px,#eab290 569px 570px,#edc09e 570px 571px,#e49f7f 571px 572px,#e7a888 572px 573px,#ebb795 573px 574px,#ebb896 574px 575px,#f1d5b7 575px 576px,#edbe9c 576px 578px,#f0cdac 578px 579px,#ebb694 579px 580px,#ecba98 580px 581px,#e8aa89 581px 582px,#e9b08f 582px 583px,#e9b08e 583px 584px,#f1d7b9 584px 585px,#ecb896 585px 586px,#ebb593 586px 587px,#f1d5b8 587px 588px,#f1d3b4 588px 589px,#edbd9b 589px 590px,#f0d0b0 590px 591px,#efc7a6 591px 592px,#f1d2b2 592px 593px,#ecba98 593px 594px,#eab18f 594px 595px,#ecbd9b 595px 596px,#edbf9d 596px 597px,#eec3a1 597px 598px,#f1d7b9 598px 599px,#eab190 599px 600px,#ebb694 600px 601px,#e7a786 601px 602px,#e9ae8d 602px 604px,#f1d7b9 604px 606px,#e9b08e 606px 607px,#f1d7b9 607px 608px,#efc7a5 608px 609px,#eab392 609px 610px,#e9ad8c 610px 611px,#f0cbaa 611px 614px,#fff 614px 699px,#e9ae8d 699px 700px,#e9b08f 700px 701px,#e9af8e 701px 703px,#eab392 703px 704px,#eab492 704px 705px,#eab290 705px 706px,#eab492 706px 707px,#ebb795 707px 708px,#e9b08f 708px 709px,#ebb795 709px 710px,#e9b08f 710px 711px,#ebb593 711px 712px,#eab391 712px 713px,#ebb694 713px 714px,#eab391 714px 715px,#ecba98 715px 716px,#ebb896 716px 717px,#edc19f 717px 718px,#ecbc9a 718px 720px,#ecbd9b 720px 722px,#eec5a4 722px 724px,#ecbd9b 724px 725px,#eec4a3 725px 727px,#eec5a4 727px 728px,#eec3a1 728px 729px,#edc19f 729px 731px,#eec3a2 731px 732px,#ecbc9a 732px 733px,#edbe9d 733px 734px,#ecbc9a 734px 735px,#efc8a6 735px 736px,#eec5a3 736px 737px,#efc9a8 737px 739px,#efc7a6 739px 741px,#efc8a7 741px 742px,#efcaa9 742px 743px,#efc9a8 743px 744px,#efc8a7 744px 745px,#f0cfaf 745px 746px,#f0cdac 746px 747px,#f1d0b1 747px 748px,#f0cdac 748px 749px,#f0cfaf 749px 750px,#f1d2b3 750px 751px,#f0d0af 751px 752px,#f0ceae 752px 753px,#f0d0b0 753px 754px,#fff 754px)"></div>
<div class="hc" style="left:428px;top:1079.4px;width:37px;height:754px;background:linear-gradient(#915350 0px 4px,#925450 4px 8px,#935551 8px 12px,#945551 12px 14px,#945651 14px 16px,#955652 16px 18px,#955752 18px 20px,#965752 20px 24px,#975853 24px 28px,#985953 28px 32px,#995a53 32px 34px,#995a54 34px 36px,#9a5a54 36px 38px,#9a5b54 38px 40px,#9b5b54 40px 42px,#9b5c55 42px 46px,#9c5c55 46px 48px,#9c5d55 48px 50px,#9d5d56 50px 52px,#9d5e56 52px 54px,#9e5e56 54px 56px,#9f5e56 56px 58px,#9f5f56 58px 60px,#a05f57 60px 62px,#a06057 62px 64px,#a16057 64px 66px,#a16157 66px 68px,#a26158 68px 72px,#a36258 72px 76px,#a46359 76px 80px,#a56359 80px 82px,#a66459 82px 84px,#a6645a 84px 86px,#a7655a 86px 90px,#a8665a 90px 92px,#a8665b 92px 94px,#a9665b 94px 96px,#a9675b 96px 98px,#aa675b 98px 100px,#aa685c 100px 102px,#ab685c 102px 104px,#ac695c 104px 108px,#ad695d 108px 110px,#ad6a5d 110px 112px,#ae6a5d 112px 114px,#ae6b5d 114px 116px,#af6b5d 116px 118px,#af6c5e 118px 120px,#b06c5e 120px 124px,#b16c5e 124px 126px,#b16d5e 126px 128px,#b16d5f 128px 130px,#b26d5f 130px 132px,#b26e5f 132px 136px,#b36e5f 136px 138px,#b36e60 138px 140px,#b46f60 140px 146px,#b56f60 146px 148px,#b57060 148px 150px,#b57061 150px 152px,#b67061 152px 156px,#b67161 156px 158px,#b77161 158px 162px,#b77262 162px 164px,#b87262 164px 168px,#b97262 168px 170px,#b97362 170px 174px,#ba7363 174px 178px,#ba7463 178px 180px,#bb7463 180px 186px,#bc7564 186px 190px,#bd7564 190px 194px,#bd7664 194px 196px,#be7664 196px 198px,#be7665 198px 200px,#be7765 200px 202px,#bf7765 202px 208px,#c07865 208px 210px,#c07866 210px 214px,#c17866 214px 216px,#c17966 216px 218px,#c27966 218px 222px,#c27967 222px 224px,#c37a67 224px 230px,#c47a67 230px 232px,#c47b67 232px 236px,#c57b68 236px 240px,#c57c68 240px 242px,#c67c68 242px 248px,#c77d68 248px 254px,#c87d69 254px 256px,#c87e69 256px 260px,#c97e69 260px 264px,#c97f69 264px 268px,#ca7f69 268px 270px,#ca7f6a 270px 272px,#ca806a 272px 274px,#cb806a 274px 280px,#cc816a 280px 286px,#cd816a 286px 288px,#cd826b 288px 292px,#ce826b 292px 296px,#ce836b 296px 298px,#cf836b 298px 304px,#d0846b 304px 306px,#d0846c 306px 310px,#d1846c 310px 312px,#d1856c 312px 316px,#d2856c 316px 320px,#d2866c 320px 322px,#d3866d 322px 326px,#d3876d 326px 328px,#d4876d 328px 336px,#d5886d 336px 338px,#d5886e 338px 344px,#d5896e 344px 346px,#d6896e 346px 350px,#d6896f 350px 352px,#d68a6f 352px 356px,#d78a6f 356px 362px,#d78b70 362px 366px,#d88b70 366px 370px,#d88c70 370px 374px,#d88c71 374px 376px,#d98c71 376px 378px,#d98d71 378px 386px,#da8e71 386px 388px,#da8e72 388px 394px,#db8e72 394px 396px,#db8f72 396px 400px,#db8f73 400px 404px,#dc9073 404px 412px,#dc9174 412px 414px,#dd9174 414px 422px,#dd9274 422px 424px,#de9275 424px 430px,#de9375 430px 434px,#df9375 434px 438px,#df9476 438px 442px,#e09476 442px 444px,#e09576 444px 446px,#e09577 446px 448px,#e19677 448px 452px,#e29778 452px 454px,#e29878 454px 456px,#e29979 456px 458px,#e39a7a 458px 460px,#e39a7b 460px 462px,#e39b7c 462px 464px,#e49c7d 464px 466px,#e49d7e 466px 468px,#e49e7f 468px 470px,#e49f80 470px 472px,#e5a080 472px 474px,#e5a181 474px 476px,#e5a282 476px 478px,#e6a383 478px 480px,#e6a484 480px 482px,#e6a585 482px 484px,#e6a686 484px 486px,#e7a887 486px 488px,#e7a988 488px 490px,#e8aa89 490px 492px,#e8ab8a 492px 494px,#e8ad8c 494px 496px,#e9ae8d 496px 498px,#e9af8e 498px 500px,#e9b18f 500px 502px,#eab290 502px 504px,#eab392 504px 506px,#ebb593 506px 508px,#ebb694 508px 510px,#ebb896 510px 512px,#ecba98 512px 514px,#ecbc9a 514px 516px,#edbe9c 516px 518px,#edc09e 518px 520px,#edc19f 520px 522px,#eec2a1 522px 524px,#eec3a2 524px 526px,#eec5a3 526px 528px,#eec6a4 528px 530px,#efc7a6 530px 532px,#efc8a7 532px 534px,#efcaa8 534px 536px,#f0cbaa 536px 538px,#f0ccab 538px 540px,#f0cdac 540px 542px,#f0ceae 542px 544px,#f0d0b0 544px 546px,#f1d1b1 546px 548px,#f1d2b3 548px 550px,#f1d3b4 550px 551.6px,#eab391 551.6px 552.1px,#e8ac8b 552.1px 553.1px,#e49e7e 553.1px 553.6px,#ebb593 553.6px 554.1px,#ebb795 554.1px 554.6px,#ebb896 554.6px 555.6px,#efcaa9 555.6px 556.1px,#e6a585 556.1px 556.6px,#e7a887 556.6px 557.1px,#e7a888 557.1px 557.6px,#ebb593 557.6px 558.1px,#efcaa8 558.1px 558.6px,#e9ae8d 558.6px 559.1px,#e8ad8c 559.1px 559.6px,#df9375 559.6px 560px,#c77d68 560px 561px,#c77d69 561px 562px,#c87e69 562px 563px,#c97e69 563px 564px,#c97f69 564px 565px,#ca7f69 565px 566px,#cb806a 566px 568px,#cc816a 568px 569px,#cd816a 569px 570px,#cd826b 570px 571px,#ce826b 571px 572px,#cf836b 572px 574px,#d0846c 574px 576px,#d1856c 576px 577px,#d2856c 577px 578px,#d2866c 578px 579px,#d3866d 579px 580px,#d4876d 580px 581px,#d5886e 581px 582px,#d68a6f 582px 583px,#d88c70 583px 584px,#d98d71 584px 585px,#db8f72 585px 586px,#dc9174 586px 587px,#de9275 587px 588px,#df9476 588px 589px,#e19677 589px 590px,#e29879 590px 591px,#e39b7c 591px 592px,#e49f7f 592px 593px,#e5a282 593px 594px,#e6a585 594px 594.8px,#fff 594.8px)"></div>
<div class="hc" style="left:465px;top:1079.4px;width:36.7px;height:754px;background:linear-gradient(#a8665a 0px 2px,#ac695c 2px 3px,#9a5a54 3px 4px,#b36e5f 4px 5px,#9b5c55 5px 6px,#a56359 6px 7px,#a46359 7px 9px,#ac695c 9px 10px,#a8655a 10px 11px,#b26d5f 11px 12px,#925450 12px 14px,#a9675b 14px 15px,#b87262 15px 16px,#ae6a5d 16px 18px,#ad6a5d 18px 19px,#bb7463 19px 20px,#975853 20px 21px,#a7655a 21px 22px,#a8665b 22px 23px,#ad6a5d 23px 24px,#a7655a 24px 25px,#bc7564 25px 27px,#b67061 27px 28px,#a7655a 28px 29px,#a26158 29px 30px,#a9665b 30px 31px,#ad6a5d 31px 32px,#b77161 32px 33px,#b46f60 33px 34px,#b26d5f 34px 35px,#af6c5e 35px 36px,#ac695c 36px 38px,#9a5b54 38px 39px,#bb7463 39px 40px,#ab685c 40px 41px,#a9675b 41px 43px,#b06c5e 43px 44px,#a06057 44px 45px,#ab685c 45px 46px,#bd7564 46px 47px,#a56359 47px 48px,#b77161 48px 49px,#ab685c 49px 50px,#b57060 50px 51px,#a26158 51px 52px,#965752 52px 53px,#bb7463 53px 55px,#9a5b54 55px 57px,#a7655a 57px 58px,#be7765 58px 59px,#975853 59px 60px,#af6b5e 60px 61px,#b26e5f 61px 63px,#b97362 63px 64px,#b67061 64px 65px,#a56459 65px 66px,#985953 66px 67px,#a7655a 67px 68px,#b06c5e 68px 69px,#af6b5d 69px 70px,#b26d5f 70px 71px,#9a5a54 71px 72px,#a8665b 72px 73px,#ae6a5d 73px 74px,#ab685c 74px 76px,#a7655a 76px 77px,#a56359 77px 78px,#a6655a 78px 79px,#a46359 79px 81px,#bd7564 81px 82px,#af6b5e 82px 83px,#b36f60 83px 84px,#ac695c 84px 85px,#b77161 85px 86px,#ac695c 86px 88px,#b26d5f 88px 89px,#b26e5f 89px 90px,#c17966 90px 91px,#b26e5f 91px 92px,#ad6a5d 92px 93px,#ab685c 93px 94px,#bb7463 94px 95px,#a7655a 95px 97px,#ae6b5d 97px 99px,#bb7463 99px 100px,#b06c5e 100px 101px,#bc7564 101px 102px,#b16d5f 102px 103px,#a7655a 103px 104px,#c17866 104px 105px,#b36e60 105px 106px,#b67061 106px 107px,#ac695c 107px 109px,#b77162 109px 110px,#a9665b 110px 112px,#b06c5e 112px 114px,#ba7363 114px 115px,#b67061 115px 116px,#b77161 116px 117px,#ba7363 117px 118px,#b77161 118px 120px,#af6b5d 120px 121px,#b16c5e 121px 123px,#9f5f57 123px 124px,#b36e5f 124px 126px,#c57c68 126px 127px,#aa675b 127px 128px,#ae6b5d 128px 129px,#b67061 129px 130px,#9f5f56 130px 132px,#ae6b5d 132px 134px,#c97e69 134px 135px,#b67061 135px 137px,#bf7765 137px 138px,#ad695d 138px 139px,#b97262 139px 141px,#bf7765 141px 142px,#b26d5f 142px 143px,#b16c5e 143px 144px,#ba7463 144px 146px,#ba7363 146px 147px,#a26158 147px 148px,#b26e5f 148px 149px,#c67d68 149px 151px,#c37a67 151px 152px,#af6c5e 152px 153px,#ba7463 153px 154px,#c17866 154px 155px,#ac695c 155px 156px,#b46f60 156px 157px,#be7665 157px 158px,#bb7463 158px 159px,#be7665 159px 160px,#b16c5e 160px 161px,#c67d68 161px 162px,#bc7564 162px 164px,#ac695c 164px 165px,#c67c68 165px 166px,#b26e5f 166px 167px,#bf7765 167px 168px,#bd7664 168px 169px,#c17866 169px 170px,#a66459 170px 171px,#bb7463 171px 172px,#bf7765 172px 173px,#b36e5f 173px 174px,#bb7463 174px 176px,#bd7664 176px 178px,#be7665 178px 179px,#c17866 179px 180px,#b57060 180px 181px,#be7665 181px 182px,#a56359 182px 183px,#ba7363 183px 184px,#c27967 184px 185px,#c97e69 185px 186px,#ae6a5d 186px 187px,#bf7765 187px 189px,#a7655a 189px 190px,#b77161 190px 191px,#c17966 191px 192px,#b97262 192px 193px,#af6b5e 193px 194px,#c97e69 194px 195px,#b77161 195px 196px,#c07866 196px 197px,#ca7f69 197px 198px,#b87262 198px 199px,#b67061 199px 200px,#c57b68 200px 201px,#c57c68 201px 202px,#b36e5f 202px 203px,#af6b5e 203px 204px,#b26d5f 204px 205px,#cc816a 205px 206px,#b97362 206px 207px,#c07866 207px 208px,#d2866c 208px 209px,#d2856c 209px 210px,#c47a67 210px 211px,#c57c68 211px 213px,#cb806a 213px 214px,#c47b67 214px 216px,#bc7564 216px 217px,#c97f69 217px 219px,#c17966 219px 220px,#ba7363 220px 221px,#c67c68 221px 222px,#c57c68 222px 223px,#c87e69 223px 224px,#bb7463 224px 225px,#c57c68 225px 226px,#d4876d 226px 227px,#ba7363 227px 229px,#c37a67 229px 230px,#d2856c 230px 232px,#cf836b 232px 233px,#c77d68 233px 234px,#d4876d 234px 235px,#c57c68 235px 237px,#ae6b5d 237px 238px,#be7665 238px 239px,#ce826b 239px 240px,#b36e5f 240px 242px,#d4876d 242px 243px,#c07866 243px 244px,#b26e5f 244px 245px,#cb806a 245px 246px,#c27966 246px 247px,#c97f69 247px 248px,#c07866 248px 249px,#bf7765 249px 250px,#c17966 250px 252px,#c87e69 252px 253px,#c07866 253px 254px,#b06c5e 254px 255px,#d5886d 255px 256px,#c57c68 256px 257px,#d1846c 257px 258px,#cf836b 258px 259px,#d1856c 259px 261px,#c67d68 261px 262px,#d88b70 262px 263px,#cb806a 263px 265px,#d2856c 265px 266px,#d4876d 266px 267px,#ca7f69 267px 268px,#c87d69 268px 269px,#c37a67 269px 271px,#d78a6f 271px 272px,#c07865 272px 274px,#d0846c 274px 275px,#c47b67 275px 276px,#c67c68 276px 278px,#d2866c 278px 279px,#c07865 279px 280px,#cf836b 280px 281px,#c67c68 281px 282px,#d3876d 282px 283px,#d0846c 283px 284px,#c47b67 284px 285px,#c57c68 285px 286px,#d5886d 286px 287px,#d0846c 287px 288px,#cf836b 288px 289px,#ce826b 289px 290px,#d0846b 290px 291px,#d2866c 291px 292px,#c47b67 292px 293px,#dc9073 293px 294px,#cc816a 294px 295px,#ce826b 295px 296px,#d2856c 296px 297px,#c97f69 297px 299px,#c67c68 299px 300px,#b57061 300px 301px,#cd826b 301px 302px,#d88c70 302px 303px,#b77161 303px 304px,#b87262 304px 305px,#d6896f 305px 306px,#c97e69 306px 307px,#d3866d 307px 309px,#d4876d 309px 310px,#c57c68 310px 311px,#d78a6f 311px 312px,#cb806a 312px 316px,#d68a6f 316px 318px,#d88b70 318px 319px,#dd9274 319px 320px,#cd826b 320px 321px,#d4876d 321px 322px,#dd9174 322px 323px,#cd826b 323px 324px,#d78b70 324px 326px,#d98d71 326px 327px,#d1856c 327px 328px,#bc7564 328px 329px,#d98d71 329px 330px,#cf836b 330px 331px,#d3866d 331px 332px,#cf836b 332px 333px,#d0846b 333px 334px,#d5886e 334px 335px,#d1856c 335px 336px,#de9275 336px 337px,#dc9074 337px 338px,#d5886d 338px 339px,#d3866d 339px 340px,#bf7765 340px 341px,#d4876d 341px 342px,#d3866c 342px 343px,#d1856c 343px 344px,#c77d68 344px 346px,#d3866d 346px 347px,#da8e72 347px 348px,#d4876d 348px 349px,#d2866c 349px 351px,#da8e72 351px 352px,#e09476 352px 353px,#d2856c 353px 354px,#c57c68 354px 355px,#e29879 355px 356px,#d4876d 356px 357px,#d2866c 357px 358px,#d6896f 358px 359px,#df9476 359px 360px,#d6896e 360px 361px,#d6896f 361px 362px,#d1856c 362px 363px,#c67c68 363px 364px,#d3866d 364px 365px,#d5886d 365px 366px,#da8e72 366px 368px,#d6896f 368px 370px,#df9375 370px 371px,#d2866c 371px 373px,#d78a6f 373px 374px,#d78b70 374px 375px,#e19677 375px 377px,#c47b67 377px 378px,#d98d71 378px 379px,#d68a6f 379px 381px,#e09577 381px 383px,#dd9174 383px 384px,#d6896e 384px 385px,#d88c70 385px 386px,#d68a6f 386px 387px,#d2856c 387px 388px,#d78b70 388px 389px,#de9375 389px 390px,#dc9174 390px 391px,#d5886e 391px 392px,#de9275 392px 393px,#d68a6f 393px 394px,#e49f80 394px 395px,#d1846c 395px 396px,#e09476 396px 397px,#dd9174 397px 398px,#d98d71 398px 399px,#d78a6f 399px 400px,#db8f72 400px 401px,#d78a6f 401px 402px,#dc9073 402px 403px,#d78a6f 403px 405px,#d6896e 405px 406px,#cc816a 406px 407px,#d2856c 407px 408px,#d88b70 408px 410px,#d4876d 410px 412px,#c87e69 412px 413px,#e49e7e 413px 414px,#d6896e 414px 416px,#d6896f 416px 418px,#cb806a 418px 420px,#e39a7b 420px 421px,#d78b70 421px 422px,#da8e72 422px 423px,#de9275 423px 424px,#d98c71 424px 425px,#de9275 425px 426px,#dc9073 426px 427px,#d5886e 427px 428px,#e5a282 428px 429px,#db8f72 429px 431px,#d6896e 431px 433px,#d2866c 433px 434px,#d98d71 434px 435px,#de9375 435px 436px,#d2866c 436px 437px,#ce836b 437px 438px,#e6a685 438px 439px,#dd9174 439px 441px,#de9375 441px 443px,#e6a483 443px 444px,#df9476 444px 445px,#da8e72 445px 447px,#e39c7d 447px 448px,#e49e7e 448px 449px,#e7a887 449px 450px,#d4876d 450px 451px,#ca7f6a 451px 452px,#da8e72 452px 453px,#d88c70 453px 455px,#e4a080 455px 456px,#e9ae8c 456px 457px,#d3866d 457px 458px,#e09577 458px 459px,#e29879 459px 460px,#e7aa89 460px 463px,#de9275 463px 464px,#e7a888 464px 465px,#e49d7e 465px 466px,#e6a584 466px 467px,#e49c7d 467px 468px,#e39b7c 468px 470px,#e09577 470px 471px,#dd9274 471px 472px,#dd9174 472px 474px,#d1856c 474px 475px,#e49f80 475px 477px,#e29778 477px 479px,#d98d71 479px 480px,#d2866c 480px 482px,#df9375 482px 483px,#e7a988 483px 485px,#e6a484 485px 486px,#e09476 486px 487px,#d3866d 487px 488px,#e8ad8c 488px 489px,#e09576 489px 490px,#df9375 490px 491px,#e39b7c 491px 493px,#e5a282 493px 494px,#e8ab8a 494px 496px,#e7a887 496px 497px,#e29778 497px 498px,#ecbc9a 498px 501px,#dc9073 501px 502px,#e9b08e 502px 503px,#e6a685 503px 504px,#e29879 504px 506px,#e39b7c 506px 507px,#eec3a1 507px 508px,#e2997a 508px 509px,#e49d7d 509px 510px,#dd9274 510px 511px,#ecba98 511px 512px,#e8ac8b 512px 513px,#e39c7c 513px 514px,#e7aa89 514px 515px,#e19677 515px 516px,#e39a7b 516px 518px,#f0cdac 518px 519px,#e9af8e 519px 520px,#e7aa89 520px 521px,#ecbc9a 521px 522px,#eab290 522px 523px,#e6a585 523px 524px,#e6a584 524px 526px,#eab492 526px 527px,#e8ad8c 527px 529px,#d98d71 529px 530px,#e5a181 530px 531px,#ebb593 531px 532px,#e4a080 532px 533px,#f0cfaf 533px 535px,#e9af8e 535px 536px,#e7a988 536px 537px,#f1d0b1 537px 538px,#df9375 538px 539px,#efc9a7 539px 540px,#eec6a5 540px 541px,#eec4a3 541px 542px,#f0ccaa 542px 543px,#e39a7b 543px 544px,#de9375 544px 545px,#eab391 545px 546px,#eab291 546px 547px,#eab18f 547px 548px,#ebb593 548px 550px,#eab290 550px 552px,#f0ccab 552px 553px,#f1d7b9 553px 553.4px,#fff 553.4px 594.8px,#d5896e 594.8px 595.8px,#d5886e 595.8px 598.8px,#d5886d 598.8px 599.8px,#d78b6f 599.8px 600.8px,#d98d71 600.8px 601.8px,#d98c71 601.8px 603.8px,#db8f73 603.8px 604.8px,#d98d71 604.8px 605.8px,#da8e72 605.8px 607.8px,#da8e71 607.8px 608.8px,#dc9073 608.8px 610.8px,#db8f72 610.8px 611.8px,#de9375 611.8px 612.8px,#dd9274 612.8px 613.8px,#e09576 613.8px 615.8px,#de9275 615.8px 616.8px,#e19577 616.8px 617.8px,#de9375 617.8px 618.8px,#e29878 618.8px 619.8px,#e19678 619.8px 620.8px,#e49c7d 620.8px 622.8px,#e39c7c 622.8px 623.8px,#e3997a 623.8px 624.8px,#e5a282 624.8px 626.8px,#e6a484 626.8px 628.8px,#e5a383 628.8px 629.8px,#e49f7f 629.8px 630.8px,#e6a483 630.8px 631.8px,#e6a383 631.8px 632.8px,#e6a685 632.8px 633.8px,#e6a686 633.8px 635.8px,#e7a887 635.8px 636.8px,#e6a584 636.8px 637.8px,#e7a887 637.8px 638.8px,#e8ab8a 638.8px 640.8px,#e9af8e 640.8px 641.8px,#e8ad8c 641.8px 642.8px,#e7a988 642.8px 643.8px,#e8ab8a 643.8px 646.8px,#e8ac8b 646.8px 647.8px,#e9b18f 647.8px 648.8px,#e8ab8a 648.8px 649.8px,#e7a787 649.8px 651.8px,#e9af8d 651.8px 652.8px,#eab290 652.8px 654.8px,#e9ae8d 654.8px 655.8px,#ebb593 655.8px 657.8px,#e9af8d 657.8px 658.8px,#e9b18f 658.8px 660.8px,#eab391 660.8px 661.8px,#e8ad8c 661.8px 663.8px,#eab492 663.8px 664.8px,#eab392 664.8px 666.8px,#eab291 666.8px 667.8px,#ecb997 667.8px 668.8px,#eab391 668.8px 670.8px,#eab492 670.8px 671.8px,#ecbb99 671.8px 672.8px,#ebb694 672.8px 674.8px,#ebb896 674.8px 676.8px,#edbf9d 676.8px 677.8px,#ebb593 677.8px 679.8px,#edc09e 679.8px 680.8px,#ecb998 680.8px 682.8px,#ecbb99 682.8px 683.8px,#ebb795 683.8px 684.8px,#ecba98 684.8px 686.8px,#edc19f 686.8px 688.8px,#ebb493 688.8px 689.8px,#eec3a2 689.8px 691.8px,#edbd9b 691.8px 693.8px,#edc09f 693.8px 694.8px,#edbe9c 694.8px 695.8px,#ecbc9b 695.8px 696.8px,#edc1a0 696.8px 697.8px,#eec2a0 697.8px 698.8px,#edc19f 698.8px 699.8px,#eec5a4 699.8px 701.8px,#efc9a8 701.8px 702.8px,#edc09e 702.8px 703.8px,#edbd9b 703.8px 705.8px,#eec6a4 705.8px 706.8px,#efc8a7 706.8px 708.8px,#efc7a5 708.8px 709.8px,#eec5a4 709.8px 711.8px,#eec6a4 711.8px 712.8px,#f0ccab 712.8px 715.8px,#f1d2b3 715.8px 716.8px,#f0cbaa 716.8px 717.8px,#f0cfaf 717.8px 718.8px,#f0ccab 718.8px 719.1px,#fff 719.1px)"></div>
<div class="hc" style="left:501.7px;top:1079.4px;width:36.7px;height:754px;background:linear-gradient(#9d5d55 0px 1px,#a9675b 1px 2px,#ab685c 2px 3px,#9c5d55 3px 4px,#985953 4px 5px,#935551 5px 6px,#995a54 6px 7px,#9e5e56 7px 8px,#9a5b54 8px 9px,#a7655a 9px 11px,#a56359 11px 12px,#955752 12px 14px,#ac695c 14px 15px,#8b4f4d 15px 16px,#a05f57 16px 17px,#975853 17px 18px,#a36258 18px 20px,#925450 20px 21px,#9b5b55 21px 22px,#a36258 22px 24px,#8f514f 24px 25px,#9f5f56 25px 26px,#a8665b 26px 27px,#995a54 27px 28px,#a26158 28px 29px,#a46359 29px 30px,#965852 30px 31px,#a56359 31px 32px,#a26158 32px 35px,#995a54 35px 36px,#a6645a 36px 38px,#a8665a 38px 42px,#965752 42px 44px,#b46f60 44px 45px,#a8665b 45px 46px,#925450 46px 47px,#b16d5e 47px 48px,#a7655a 48px 49px,#b36e60 49px 50px,#a26158 50px 51px,#b26d5f 51px 52px,#a16158 52px 53px,#a06057 53px 55px,#a16057 55px 56px,#995a54 56px 57px,#a56359 57px 58px,#a66459 58px 60px,#b06c5e 60px 61px,#ab685c 61px 62px,#9f5f57 62px 63px,#a05f57 63px 65px,#a56359 65px 66px,#aa675b 66px 67px,#9c5c55 67px 68px,#935551 68px 69px,#a36258 69px 70px,#a56359 70px 74px,#ba7463 74px 75px,#b87262 75px 76px,#b46f60 76px 77px,#af6b5e 77px 78px,#a16057 78px 79px,#b26e5f 79px 81px,#ad695c 81px 82px,#b26e5f 82px 83px,#965752 83px 84px,#b77161 84px 85px,#ae6b5d 85px 86px,#a6645a 86px 87px,#bb7463 87px 88px,#b26d5f 88px 89px,#ab685c 89px 90px,#b67061 90px 91px,#b67161 91px 92px,#bd7564 92px 93px,#ac695c 93px 95px,#b06c5e 95px 97px,#9a5a54 97px 98px,#a8665a 98px 99px,#b06c5e 99px 100px,#aa685c 100px 101px,#ac695c 101px 102px,#ae6a5d 102px 103px,#a8665b 103px 104px,#be7765 104px 105px,#a8665b 105px 107px,#c07765 107px 109px,#bb7463 109px 111px,#bc7563 111px 112px,#a46359 112px 113px,#9b5c55 113px 114px,#ab685c 114px 115px,#965752 115px 116px,#ac695c 116px 117px,#a8665b 117px 118px,#ad695d 118px 119px,#a9675b 119px 120px,#a6655a 120px 121px,#b16d5f 121px 123px,#be7765 123px 124px,#b26e5f 124px 126px,#ad695d 126px 127px,#9d5e56 127px 128px,#b97262 128px 130px,#a06057 130px 131px,#ae6b5d 131px 132px,#a6645a 132px 133px,#ad6a5d 133px 134px,#af6b5e 134px 135px,#bf7765 135px 136px,#ad6a5d 136px 137px,#ba7363 137px 138px,#ac695c 138px 139px,#b16d5f 139px 140px,#bf7765 140px 141px,#ab685c 141px 142px,#a9675b 142px 143px,#b67161 143px 144px,#ad695d 144px 145px,#af6b5e 145px 146px,#c47a67 146px 148px,#b06c5e 148px 150px,#9e5e56 150px 151px,#a7655a 151px 152px,#b16d5e 152px 153px,#c27a67 153px 154px,#aa675b 154px 156px,#b77161 156px 158px,#bf7765 158px 159px,#b36e5f 159px 160px,#bb7463 160px 162px,#b06c5e 162px 164px,#bf7765 164px 165px,#b26d5f 165px 166px,#b67161 166px 167px,#ac695c 167px 168px,#bc7564 168px 170px,#c87e69 170px 172px,#b06c5e 172px 173px,#b46f60 173px 174px,#b67161 174px 175px,#c07865 175px 177px,#b06c5e 177px 178px,#c87e69 178px 179px,#bc7564 179px 180px,#c97f69 180px 181px,#c27967 181px 183px,#ac695c 183px 184px,#c67c68 184px 185px,#c47b67 185px 186px,#b67061 186px 187px,#c37a67 187px 189px,#bd7664 189px 191px,#b87262 191px 193px,#b06c5e 193px 194px,#c77d68 194px 196px,#c57b68 196px 198px,#a56359 198px 199px,#c97f69 199px 200px,#be7765 200px 201px,#b26d5f 201px 202px,#b77161 202px 203px,#ca806a 203px 204px,#aa685b 204px 205px,#c97e69 205px 206px,#bf7765 206px 207px,#c07765 207px 208px,#bf7765 208px 209px,#bd7664 209px 210px,#b87262 210px 211px,#b26d5f 211px 212px,#ca7f69 212px 213px,#c97f69 213px 214px,#b87262 214px 215px,#ba7363 215px 216px,#b97362 216px 218px,#ba7363 218px 219px,#a56359 219px 221px,#bc7563 221px 222px,#bb7463 222px 223px,#c27966 223px 225px,#b46f60 225px 226px,#b87262 226px 228px,#b67161 228px 229px,#ba7363 229px 230px,#cb806a 230px 231px,#c77d69 231px 232px,#c87e69 232px 234px,#be7665 234px 235px,#be7765 235px 236px,#cd826a 236px 238px,#bc7564 238px 239px,#c27966 239px 240px,#c67c68 240px 241px,#c07866 241px 243px,#c27967 243px 244px,#d1856c 244px 245px,#b97262 245px 246px,#ca7f69 246px 247px,#b87262 247px 248px,#bc7564 248px 249px,#cf836b 249px 251px,#b26d5f 251px 252px,#cb806a 252px 253px,#aa685b 253px 254px,#c67c68 254px 255px,#c57c68 255px 256px,#d2856c 256px 257px,#ba7363 257px 258px,#b06c5e 258px 259px,#c07866 259px 260px,#c37a67 260px 262px,#cb806a 262px 264px,#c87e69 264px 265px,#b16c5e 265px 267px,#ca7f69 267px 268px,#c67c68 268px 270px,#c27967 270px 271px,#c17966 271px 272px,#c67c68 272px 273px,#c37a67 273px 274px,#b97362 274px 276px,#ae6b5d 276px 278px,#cb806a 278px 279px,#d0846b 279px 280px,#c17966 280px 281px,#cf836b 281px 282px,#d6896f 282px 283px,#b36e60 283px 284px,#c17966 284px 285px,#b16c5e 285px 286px,#c87e69 286px 288px,#d6896f 288px 290px,#c77d69 290px 291px,#bb7463 291px 292px,#cc816a 292px 293px,#ca7f69 293px 294px,#d5886e 294px 295px,#ca7f69 295px 296px,#ba7363 296px 298px,#d6896e 298px 300px,#ca806a 300px 301px,#c67c68 301px 302px,#cd826b 302px 303px,#ca7f69 303px 305px,#c77d69 305px 306px,#d78b70 306px 307px,#d3876d 307px 309px,#c77d68 309px 310px,#ca7f69 310px 311px,#d0846b 311px 312px,#c67c68 312px 313px,#db8f72 313px 314px,#ce826b 314px 315px,#ca7f69 315px 316px,#cd826b 316px 317px,#ce826b 317px 318px,#cd826b 318px 319px,#d98d71 319px 321px,#dc9073 321px 322px,#db8f73 322px 323px,#d88b70 323px 325px,#d5886e 325px 326px,#c77d68 326px 327px,#d2856c 327px 328px,#d78a6f 328px 329px,#ba7463 329px 331px,#d98d71 331px 332px,#ce836b 332px 334px,#dd9174 334px 335px,#cd816a 335px 336px,#d5896e 336px 337px,#d1856c 337px 338px,#d0846c 338px 340px,#d2866c 340px 341px,#c87e69 341px 342px,#cd826b 342px 343px,#d0846c 343px 344px,#c87e69 344px 346px,#ca806a 346px 347px,#db9073 347px 348px,#df9476 348px 349px,#d4876d 349px 350px,#db8f72 350px 351px,#c27967 351px 352px,#c57c68 352px 353px,#da8e72 353px 354px,#cb806a 354px 355px,#c87e69 355px 356px,#cf836b 356px 357px,#db8f72 357px 358px,#cf836b 358px 359px,#dc9073 359px 361px,#d6896e 361px 362px,#d5886e 362px 363px,#d88c70 363px 365px,#da8e72 365px 367px,#d98d71 367px 368px,#c77d69 368px 369px,#d0846c 369px 370px,#da8e72 370px 371px,#d4876d 371px 372px,#d1856c 372px 373px,#d98d71 373px 374px,#d2856c 374px 375px,#d0846c 375px 376px,#d1856c 376px 377px,#cf836b 377px 379px,#da8e72 379px 381px,#e29979 381px 382px,#d78a6f 382px 383px,#c17866 383px 384px,#e39a7b 384px 386px,#db8f72 386px 387px,#d3866d 387px 391px,#cc816a 391px 392px,#dc9073 392px 393px,#d4876d 393px 394px,#d88b70 394px 396px,#da8e72 396px 398px,#d6896f 398px 399px,#d5886e 399px 400px,#e09577 400px 401px,#dc9073 401px 402px,#d6896e 402px 404px,#d0846c 404px 405px,#d98c71 405px 407px,#c87e69 407px 408px,#d1856c 408px 409px,#d88c70 409px 410px,#c87e69 410px 411px,#e49c7d 411px 412px,#e09577 412px 413px,#da8e72 413px 414px,#df9476 414px 416px,#ce836b 416px 417px,#e09476 417px 418px,#da8d71 418px 420px,#d98c71 420px 421px,#d78a6f 421px 422px,#ca7f69 422px 423px,#d98c71 423px 424px,#de9275 424px 425px,#db8f73 425px 427px,#df9375 427px 428px,#cc816a 428px 429px,#de9275 429px 431px,#de9375 431px 432px,#da8e72 432px 433px,#d78a6f 433px 435px,#e39a7b 435px 436px,#e09576 436px 437px,#d98c71 437px 438px,#de9275 438px 439px,#e7aa89 439px 440px,#d98d71 440px 442px,#e09476 442px 443px,#cf836b 443px 445px,#d98d71 445px 446px,#ce826b 446px 447px,#de9274 447px 449px,#d3876d 449px 450px,#e8aa89 450px 452px,#e19677 452px 453px,#dd9274 453px 454px,#cf836b 454px 456px,#da8e72 456px 458px,#e19577 458px 459px,#da8d71 459px 460px,#df9375 460px 461px,#e49f7f 461px 462px,#da8e72 462px 463px,#e19677 463px 464px,#df9476 464px 465px,#e49e7e 465px 466px,#de9375 466px 468px,#e19677 468px 469px,#ce826b 469px 471px,#e5a181 471px 472px,#dc9073 472px 473px,#de9275 473px 474px,#eab190 474px 475px,#e49e7f 475px 476px,#e19677 476px 477px,#e7a887 477px 478px,#e19577 478px 479px,#e39a7b 479px 480px,#e8ad8c 480px 481px,#e39c7c 481px 482px,#db8f73 482px 483px,#e49e7e 483px 484px,#e5a383 484px 485px,#e19677 485px 486px,#d3866d 486px 487px,#de9274 487px 488px,#e09576 488px 489px,#de9275 489px 490px,#eab290 490px 491px,#d5896e 491px 493px,#eab290 493px 495px,#de9375 495px 497px,#ecbb99 497px 498px,#e7aa89 498px 499px,#eab492 499px 500px,#da8e72 500px 501px,#ebb795 501px 502px,#dd9174 502px 503px,#e5a080 503px 504px,#d98c71 504px 505px,#eec5a4 505px 506px,#e49e7f 506px 507px,#e19677 507px 508px,#efc8a7 508px 509px,#e6a483 509px 510px,#dc9073 510px 511px,#ebb694 511px 513px,#d6896f 513px 514px,#e6a685 514px 516px,#e9af8e 516px 517px,#e6a585 517px 519px,#e6a685 519px 520px,#e5a181 520px 521px,#e9b08f 521px 522px,#da8e72 522px 523px,#e7a988 523px 524px,#e8ab8a 524px 525px,#e6a686 525px 526px,#eec6a5 526px 527px,#edbe9c 527px 529px,#eab290 529px 531px,#e7a988 531px 532px,#e8ab8a 532px 534px,#f0cfaf 534px 536px,#dd9174 536px 537px,#f1d7b9 537px 538px,#eec6a5 538px 539px,#ebb694 539px 540px,#f0cdac 540px 541px,#edbd9c 541px 542px,#e9af8e 542px 543px,#e7a988 543px 544px,#edbe9c 544px 545px,#ecb997 545px 547px,#e39b7b 547px 548px,#eab290 548px 549px,#e5a282 549px 551px,#ecba98 551px 551.6px,#fff 551.6px 554.1px,#efc8a7 554.1px 560px,#fff 560px 594.8px,#dd9174 594.8px 596.8px,#e29778 596.8px 597.8px,#de9275 597.8px 598.8px,#d88c70 598.8px 599.8px,#e39b7c 599.8px 600.8px,#de9275 600.8px 601.8px,#e39a7b 601.8px 603.8px,#e29778 603.8px 605.8px,#e49e7f 605.8px 606.8px,#d88b70 606.8px 607.8px,#e29879 607.8px 608.8px,#df9375 608.8px 609.8px,#e29778 609.8px 610.8px,#d98d71 610.8px 611.8px,#e19677 611.8px 612.8px,#e29778 612.8px 613.8px,#e4a080 613.8px 614.8px,#e09577 614.8px 615.8px,#e6a383 615.8px 616.8px,#e49e7e 616.8px 617.8px,#ebb795 617.8px 618.8px,#e39b7c 618.8px 619.8px,#e5a080 619.8px 621.8px,#e39c7c 621.8px 622.8px,#edbf9d 622.8px 623.8px,#dc9073 623.8px 624.8px,#e5a080 624.8px 625.8px,#ebb896 625.8px 626.8px,#e5a282 626.8px 627.8px,#edbe9c 627.8px 628.8px,#e9ae8d 628.8px 629.8px,#eec6a4 629.8px 630.8px,#e8ab8a 630.8px 631.8px,#e6a685 631.8px 632.8px,#ecba98 632.8px 633.8px,#e8ad8c 633.8px 634.8px,#e7a787 634.8px 635.8px,#e8aa89 635.8px 637.8px,#e49c7d 637.8px 638.8px,#e9ae8d 638.8px 640.8px,#f0cbaa 640.8px 641.8px,#eab392 641.8px 643.8px,#ebb795 643.8px 644.8px,#e8ac8b 644.8px 646.8px,#edc1a0 646.8px 647.8px,#ebb593 647.8px 648.8px,#f1d0b1 648.8px 649.8px,#edbd9c 649.8px 650.8px,#e9b08f 650.8px 651.8px,#ebb593 651.8px 652.8px,#e9ae8d 652.8px 653.8px,#e8ad8c 653.8px 654.8px,#eec3a1 654.8px 655.8px,#ecba98 655.8px 656.8px,#f1d4b5 656.8px 657.8px,#e6a484 657.8px 658.8px,#edbe9c 658.8px 659.8px,#eec4a2 659.8px 660.8px,#ecbc9a 660.8px 661.8px,#e5a383 661.8px 663.8px,#eec3a2 663.8px 664.8px,#e9af8d 664.8px 665.8px,#f1d7b9 665.8px 667.8px,#f0ccab 667.8px 668.8px,#ecb997 668.8px 669.8px,#edbe9d 669.8px 671.8px,#eab290 671.8px 672.8px,#ecba98 672.8px 674.8px,#efc9a8 674.8px 675.8px,#f0ccaa 675.8px 676.8px,#eec5a4 676.8px 678.8px,#edbe9c 678.8px 679.8px,#e9ae8d 679.8px 681.8px,#ebb795 681.8px 682.8px,#f0cead 682.8px 684.8px,#f1d7b9 684.8px 685.8px,#eec6a4 685.8px 686.8px,#f1d7b9 686.8px 687.8px,#edbd9b 687.8px 688.8px,#edbd9c 688.8px 689.6px,#fff 689.6px 719.6px,#e39a7b 719.6px 721.6px,#e39a7a 721.6px 722.6px,#e6a686 722.6px 723.6px,#e8ab8a 723.6px 724.6px,#eab391 724.6px 725.6px,#ebb795 725.6px 726.6px,#ecba98 726.6px 727.6px,#ecbb99 727.6px 728.6px,#ecba98 728.6px 730.6px,#ebb593 730.6px 732.6px,#eec3a1 732.6px 733.6px,#eec2a1 733.6px 734.6px,#edbe9d 734.6px 735.6px,#edbe9c 735.6px 736.6px,#edbe9d 736.6px 737.6px,#ebb896 737.6px 738.6px,#ecbb9a 738.6px 739.6px,#efc9a8 739.6px 740.6px,#efc7a6 740.6px 741.6px,#edc1a0 741.6px 742.6px,#eec4a3 742.6px 744.6px,#f0ccab 744.6px 746.6px,#efc8a7 746.6px 747.6px,#efc6a5 747.6px 748.6px,#f0cdac 748.6px 749.6px,#f0d0b0 749.6px 750.6px,#efcaa9 750.6px 752.6px,#efc9a8 752.6px 753.6px,#efcaa9 753.6px 754px,#fff 754px)"></div>
<div class="hc" style="left:699.3px;top:1079.8px;width:35.7px;height:754.2px;background:linear-gradient(#9b5b55 0px 2px,#9c5c55 2px 4px,#9c5d55 4px 6px,#9d5d56 6px 8px,#9e5e56 8px 12px,#9f5f57 12px 14px,#a06057 14px 16px,#a16057 16px 18px,#a16158 18px 20px,#a26158 20px 22px,#a36258 22px 24px,#a46259 24px 26px,#a46359 26px 28px,#a56459 28px 30px,#a66459 30px 32px,#a7655a 32px 36px,#a8665a 36px 38px,#a9665b 38px 40px,#aa675b 40px 42px,#aa685b 42px 44px,#ab685c 44px 46px,#ac695c 46px 50px,#ad6a5d 50px 52px,#ae6a5d 52px 56px,#af6b5d 56px 58px,#af6b5e 58px 60px,#b06c5e 60px 64px,#b16c5e 64px 66px,#b16d5f 66px 68px,#b26d5f 68px 70px,#b26e5f 70px 72px,#b36e5f 72px 74px,#b36f60 74px 76px,#b46f60 76px 80px,#b57060 80px 82px,#b67061 82px 84px,#b67161 84px 86px,#b77161 86px 90px,#b87262 90px 94px,#b97362 94px 98px,#ba7363 98px 100px,#ba7463 100px 102px,#bb7463 102px 106px,#bc7564 106px 110px,#bd7564 110px 112px,#bd7664 112px 114px,#be7664 114px 116px,#be7665 116px 118px,#bf7765 118px 122px,#c07765 122px 124px,#c07866 124px 128px,#c17866 128px 130px,#c17966 130px 132px,#c27966 132px 134px,#c27a67 134px 136px,#c37a67 136px 140px,#c47b67 140px 144px,#c47b68 144px 146px,#c57b68 146px 148px,#c57c68 148px 150px,#c67c68 150px 154px,#c77d68 154px 158px,#c77d69 158px 160px,#c87e69 160px 164px,#c97e69 164px 166px,#c97f69 166px 168px,#ca7f69 168px 172px,#ca806a 172px 174px,#cb806a 174px 178px,#cc816a 178px 184px,#cd826a 184px 186px,#cd826b 186px 188px,#ce826b 188px 190px,#ce836b 190px 192px,#cf836b 192px 198px,#d0846c 198px 202px,#d1846c 202px 204px,#d1856c 204px 208px,#d2856c 208px 210px,#d2866c 210px 212px,#d3866d 212px 216px,#d4876d 216px 224px,#d5886d 224px 226px,#d5886e 226px 232px,#d5896e 232px 234px,#d6896e 234px 238px,#d6896f 238px 240px,#d68a6f 240px 244px,#d78a6f 244px 250px,#d78b70 250px 254px,#d88b70 254px 258px,#d88c70 258px 262px,#d88c71 262px 264px,#d98c71 264px 266px,#d98d71 266px 274px,#da8e71 274px 276px,#da8e72 276px 282px,#db8e72 282px 284px,#db8f72 284px 288px,#db8f73 288px 292px,#dc9073 292px 300px,#dc9174 300px 302px,#dd9174 302px 308px,#dd9274 308px 310px,#de9275 310px 314px,#de9375 314px 318px,#df9375 318px 320px,#df9376 320px 322px,#df9476 322px 326px,#e09476 326px 328px,#e09576 328px 332px,#e09577 332px 334px,#e19577 334px 336px,#e19677 336px 342px,#e29778 342px 348px,#e29879 348px 352px,#e3997a 352px 356px,#e39a7b 356px 358px,#e39b7b 358px 360px,#e39b7c 360px 362px,#e39c7c 362px 364px,#e49c7d 364px 366px,#e49d7d 366px 368px,#e49d7e 368px 370px,#e49e7e 370px 372px,#e49e7f 372px 374px,#e49f7f 374px 376px,#e4a080 376px 378px,#e5a080 378px 380px,#e5a181 380px 382px,#e5a282 382px 384px,#e6a383 384px 386px,#e6a584 386px 388px,#e6a685 388px 390px,#e7a786 390px 392px,#e7a887 392px 394px,#e7a988 394px 396px,#e8aa89 396px 398px,#e8ab8a 398px 400px,#e8ad8c 400px 402px,#e9ae8d 402px 404px,#e9af8e 404px 406px,#e9b08f 406px 408px,#eab190 408px 410px,#eab291 410px 412px,#eab392 412px 414px,#ebb593 414px 416px,#ebb694 416px 418px,#ebb795 418px 420px,#ecb997 420px 422px,#ecbb99 422px 424px,#ecbc9b 424px 426px,#edbe9d 426px 428px,#edc09e 428px 430px,#edc09f 430px 432px,#edc1a0 432px 434px,#eec2a0 434px 436px,#eec3a1 436px 438px,#eec3a2 438px 440px,#eec4a3 440px 442px,#eec5a4 442px 444px,#eec6a5 444px 446px,#efc7a5 446px 448px,#efc7a6 448px 450px,#efc8a7 450px 452px,#efc9a8 452px 454px,#efcaa9 454px 456px,#efcba9 456px 458px,#f0cbaa 458px 460px,#f0ccab 460px 462px,#f0cdac 462px 464px,#f0cead 464px 466px,#f0ceae 466px 468px,#f0cfaf 468px 470px,#f0d0b0 470px 472px,#f1d1b1 472px 474px,#f1d1b2 474px 476px,#f1d2b3 476px 478px,#f1d3b4 478px 480px,#f1d4b5 480px 482px,#f1d4b6 482px 484px,#f1d5b7 484px 486px,#f1d6b8 486px 486.6px,#fff 486.6px)"></div>
<div class="hc" style="left:735px;top:1079.8px;width:35.1px;height:754.2px;background:linear-gradient(#b67161 0px 1px,#ab685c 1px 2px,#b77161 2px 3px,#bb7463 3px 4px,#a9665b 4px 5px,#b67061 5px 6px,#ba7363 6px 8px,#b87262 8px 9px,#ae6a5d 9px 11px,#ba7363 11px 12px,#bc7563 12px 13px,#c77d69 13px 14px,#b06c5e 14px 16px,#ba7463 16px 17px,#c37a67 17px 18px,#c27966 18px 19px,#c27a67 19px 21px,#c07866 21px 23px,#d1846c 23px 25px,#c27967 25px 26px,#be7765 26px 27px,#c07765 27px 28px,#ca7f6a 28px 30px,#ba7463 30px 31px,#d0846b 31px 32px,#cd826b 32px 33px,#a9665b 33px 35px,#cc816a 35px 36px,#c07866 36px 37px,#c77d69 37px 38px,#af6b5e 38px 39px,#cc816a 39px 40px,#ce836b 40px 42px,#c57b68 42px 43px,#c47b67 43px 45px,#c67c68 45px 46px,#c47b67 46px 47px,#be7765 47px 49px,#c77d68 49px 50px,#ca7f69 50px 51px,#cc816a 51px 52px,#ce826b 52px 53px,#ca7f69 53px 56px,#c47b67 56px 57px,#dc9174 57px 58px,#c17966 58px 59px,#d98d71 59px 60px,#bd7564 60px 61px,#c97f69 61px 63px,#d1856c 63px 64px,#d88b70 64px 65px,#ce836b 65px 66px,#d78b6f 66px 67px,#b26d5f 67px 68px,#d78a6f 68px 70px,#be7765 70px 71px,#c87e69 71px 72px,#d5886e 72px 73px,#d98d71 73px 74px,#ce836b 74px 75px,#d88c70 75px 77px,#c77d69 77px 78px,#bd7664 78px 79px,#de9375 79px 80px,#c07866 80px 81px,#cd826b 81px 82px,#d0846b 82px 84px,#ca806a 84px 85px,#c67c68 85px 86px,#d5886d 86px 87px,#d1856c 87px 88px,#d3866d 88px 89px,#b26e5f 89px 90px,#d6896e 90px 91px,#ce836b 91px 92px,#c87e69 92px 93px,#d1856c 93px 95px,#d3866d 95px 97px,#dc9073 97px 98px,#ce836b 98px 99px,#d68a6f 99px 100px,#d1856c 100px 102px,#cf836b 102px 103px,#b97262 103px 105px,#ce836b 105px 106px,#cf836b 106px 108px,#dd9274 108px 109px,#bf7765 109px 110px,#c67c68 110px 112px,#d3866d 112px 113px,#d4876d 113px 114px,#d3866d 114px 115px,#d78a6f 115px 116px,#c97e69 116px 117px,#e19577 117px 118px,#d2856c 118px 120px,#e09576 120px 121px,#d3866c 121px 123px,#df9476 123px 124px,#d78b70 124px 125px,#d1856c 125px 126px,#cd826b 126px 127px,#dd9174 127px 130px,#d1856c 130px 131px,#d5886e 131px 132px,#be7765 132px 133px,#c97f69 133px 134px,#c17866 134px 135px,#e29879 135px 137px,#cd826b 137px 139px,#d3866d 139px 141px,#df9476 141px 142px,#d4876d 142px 143px,#d1856c 143px 144px,#dc9073 144px 145px,#d6896e 145px 147px,#d78a6f 147px 148px,#d0846b 148px 150px,#d1856c 150px 151px,#d0846c 151px 153px,#ca7f6a 153px 154px,#e39c7c 154px 155px,#e09577 155px 156px,#e29778 156px 157px,#d1856c 157px 158px,#e09476 158px 159px,#dd9274 159px 161px,#c67c68 161px 162px,#dc9174 162px 163px,#e29778 163px 165px,#e39b7c 165px 166px,#db8f73 166px 167px,#d2856c 167px 169px,#d68a6f 169px 170px,#d98c71 170px 172px,#cf846b 172px 174px,#c77d69 174px 175px,#d1856c 175px 176px,#c27967 176px 177px,#de9274 177px 178px,#e09576 178px 180px,#d5886e 180px 181px,#c77d68 181px 182px,#da8e72 182px 183px,#e29879 183px 184px,#d98d71 184px 186px,#e49e7f 186px 187px,#d4876d 187px 189px,#c87e69 189px 190px,#de9375 190px 191px,#c77d69 191px 192px,#d88c70 192px 194px,#d98d71 194px 196px,#e39a7b 196px 197px,#cf836b 197px 198px,#c37a67 198px 199px,#d68a6f 199px 200px,#d78b70 200px 201px,#d6896e 201px 203px,#e09476 203px 204px,#ce826b 204px 205px,#c07865 205px 207px,#d4876d 207px 208px,#ca806a 208px 210px,#e6a383 210px 211px,#da8d71 211px 212px,#db9073 212px 213px,#d3866d 213px 214px,#c97f69 214px 215px,#d78a6f 215px 216px,#e49e7f 216px 217px,#d98c71 217px 218px,#d78a6f 218px 219px,#d2856c 219px 220px,#d6896e 220px 222px,#d88b70 222px 224px,#cb806a 224px 225px,#d1856c 225px 226px,#d78a6f 226px 228px,#d98c71 228px 229px,#d2866c 229px 231px,#cc816a 231px 232px,#da8e72 232px 233px,#d88c70 233px 234px,#c77d68 234px 235px,#d3866d 235px 236px,#c77d68 236px 238px,#d78b6f 238px 239px,#de9375 239px 240px,#d6896e 240px 241px,#dd9174 241px 242px,#e5a383 242px 244px,#dc9073 244px 245px,#e39a7b 245px 246px,#d88c70 246px 248px,#d3876d 248px 249px,#d5886e 249px 250px,#dc9174 250px 251px,#d88b70 251px 252px,#e29879 252px 254px,#c97f69 254px 255px,#d5886d 255px 256px,#d5896e 256px 257px,#e8aa8a 257px 258px,#e5a282 258px 260px,#db9073 260px 261px,#d4876d 261px 262px,#d68a6f 262px 263px,#e7a786 263px 265px,#e39a7b 265px 267px,#c97f69 267px 268px,#d98d71 268px 269px,#e09476 269px 270px,#c47b67 270px 271px,#e19677 271px 272px,#dc9073 272px 273px,#c57c68 273px 274px,#e29879 274px 276px,#e7a887 276px 277px,#de9275 277px 278px,#d6896e 278px 279px,#d88b70 279px 280px,#d1856c 280px 281px,#dd9174 281px 282px,#e09577 282px 283px,#e39b7c 283px 284px,#dd9274 284px 285px,#da8e72 285px 286px,#c57b68 286px 287px,#e29678 287px 289px,#d5886e 289px 290px,#e49f7f 290px 292px,#e8ac8b 292px 293px,#de9275 293px 294px,#ca7f69 294px 295px,#d68a6f 295px 297px,#d98d71 297px 299px,#d78b70 299px 301px,#dd9174 301px 302px,#d6896f 302px 303px,#d78a6f 303px 304px,#de9275 304px 305px,#d4876d 305px 307px,#d98c71 307px 308px,#db8f73 308px 309px,#e9ae8d 309px 310px,#de9275 310px 311px,#dd9274 311px 312px,#e39c7c 312px 313px,#dc9073 313px 315px,#d98d71 315px 316px,#e39a7b 316px 317px,#cd826b 317px 319px,#e7a887 319px 321px,#c87e69 321px 322px,#de9275 322px 323px,#e3997a 323px 324px,#db8f73 324px 326px,#d4876d 326px 327px,#d6896f 327px 328px,#da8e72 328px 330px,#e09577 330px 331px,#e5a282 331px 332px,#e49d7d 332px 333px,#eab391 333px 334px,#e29778 334px 335px,#c87e69 335px 336px,#d4876d 336px 337px,#df9476 337px 338px,#d68a6f 338px 339px,#e09576 339px 340px,#df9476 340px 342px,#ebb694 342px 344px,#d78b6f 344px 345px,#ebb896 345px 346px,#e7a887 346px 348px,#e8aa89 348px 349px,#da8e72 349px 350px,#dd9274 350px 351px,#d98d71 351px 352px,#e7a988 352px 353px,#d98d71 353px 354px,#dd9274 354px 356px,#ca806a 356px 357px,#e19677 357px 359px,#dd9174 359px 360px,#df9375 360px 362px,#e9af8d 362px 364px,#e8ac8b 364px 365px,#e7a787 365px 366px,#cc816a 366px 368px,#e19677 368px 369px,#d2856c 369px 370px,#ca7f69 370px 371px,#ebb896 371px 372px,#e6a685 372px 373px,#dd9174 373px 374px,#dc9074 374px 375px,#e9ae8c 375px 377px,#e29879 377px 379px,#eab492 379px 381px,#e29879 381px 383px,#dc9073 383px 384px,#dc9174 384px 385px,#e5a383 385px 386px,#d88c70 386px 388px,#de9275 388px 389px,#d88b70 389px 391px,#d5886e 391px 392px,#e9ad8c 392px 393px,#e29778 393px 394px,#de9375 394px 396px,#ebb795 396px 397px,#db8f73 397px 398px,#dc9174 398px 399px,#e4a080 399px 401px,#de9375 401px 402px,#e19577 402px 404px,#d5896e 404px 405px,#df9375 405px 406px,#ecba98 406px 407px,#eab290 407px 408px,#da8e72 408px 409px,#e29778 409px 410px,#db9073 410px 411px,#d98d71 411px 412px,#ce836b 412px 413px,#e6a685 413px 414px,#e7a988 414px 415px,#eab18f 415px 416px,#e39c7c 416px 417px,#cd826b 417px 418px,#efc7a5 418px 419px,#e5a282 419px 420px,#e3997a 420px 421px,#e5a080 421px 422px,#de9275 422px 423px,#e29879 423px 424px,#e5a383 424px 425px,#edc09e 425px 426px,#e9ae8d 426px 427px,#ecba99 427px 428px,#e9ae8d 428px 429px,#db8f72 429px 430px,#e39b7c 430px 432px,#ebb796 432px 434px,#d88c70 434px 436px,#e49e7f 436px 437px,#eec5a4 437px 438px,#ebb593 438px 439px,#eab290 439px 440px,#d98c71 440px 441px,#e29879 441px 442px,#de9375 442px 443px,#e6a686 443px 444px,#e29778 444px 445px,#e49d7d 445px 446px,#e49e7f 446px 448px,#e6a484 448px 449px,#f0cbaa 449px 451px,#e5a181 451px 452px,#e9af8e 452px 453px,#e39b7c 453px 454px,#d5886d 454px 455px,#e5a282 455px 457px,#e8aa8a 457px 458px,#eab391 458px 459px,#de9375 459px 461px,#df9476 461px 463px,#e29778 463px 464px,#dd9274 464px 465px,#ecbd9b 465px 467px,#dc9073 467px 468px,#f0cbaa 468px 469px,#e7aa89 469px 470px,#dc9073 470px 471px,#e6a685 471px 472px,#e6a686 472px 473px,#ebb593 473px 474px,#d78a6f 474px 475px,#e29879 475px 476px,#e3997a 476px 477px,#e7a988 477px 478px,#eec4a3 478px 479px,#e7a887 479px 480px,#e49f7f 480px 483px,#e6a484 483px 484px,#ecbb99 484px 485px,#ecba98 485px 486.6px,#da8e72 486.6px 487.6px,#d78b70 487.6px 488.6px,#d98c71 488.6px 489.6px,#da8e72 489.6px 491.6px,#d98d71 491.6px 492.6px,#dc9073 492.6px 493.6px,#db8f73 493.6px 494.6px,#dd9174 494.6px 495.6px,#de9275 495.6px 497.6px,#e09577 497.6px 498.6px,#dd9274 498.6px 499.6px,#dd9174 499.6px 500.6px,#df9476 500.6px 501.6px,#df9376 501.6px 502.6px,#e19577 502.6px 503.6px,#e19677 503.6px 504.6px,#df9476 504.6px 505.6px,#e39a7a 505.6px 506.6px,#e19677 506.6px 507.6px,#e29778 507.6px 509.6px,#e39b7c 509.6px 511.6px,#e29778 511.6px 512.6px,#e39c7c 512.6px 513.6px,#e49e7e 513.6px 514.6px,#e29778 514.6px 515.6px,#e49d7d 515.6px 516.6px,#e5a383 516.6px 518.6px,#e5a181 518.6px 520.6px,#e5a282 520.6px 521.6px,#e6a483 521.6px 522.6px,#e6a383 522.6px 523.6px,#e6a484 523.6px 524.6px,#e7a786 524.6px 525.6px,#e6a585 525.6px 526.6px,#e7a988 526.6px 529.6px,#e7a786 529.6px 530.6px,#e6a686 530.6px 531.6px,#e6a685 531.6px 532.6px,#e7a887 532.6px 533.6px,#e7a988 533.6px 535.6px,#e6a484 535.6px 537.6px,#e8ab8a 537.6px 538.6px,#e8ac8b 538.6px 539.6px,#e9b08e 539.6px 540.6px,#e8ab8a 540.6px 542.6px,#e9af8e 542.6px 543.6px,#e7a988 543.6px 544.6px,#e9b08f 544.6px 545.6px,#eab18f 545.6px 546.6px,#e8ad8c 546.6px 547.6px,#e9ae8d 547.6px 548.6px,#e7a988 548.6px 549.6px,#e9af8d 549.6px 550.6px,#e8ad8c 550.6px 551.6px,#e9b08f 551.6px 554.6px,#e9af8e 554.6px 557.6px,#eab290 557.6px 558.6px,#ebb694 558.6px 559.6px,#e9b18f 559.6px 560.6px,#eab190 560.6px 561.6px,#ebb593 561.6px 564.6px,#eab492 564.6px 565.6px,#eab391 565.6px 566.6px,#ebb593 566.6px 567.6px,#ebb694 567.6px 568.6px,#eab391 568.6px 569.6px,#ebb694 569.6px 570.6px,#eab391 570.6px 572.6px,#ebb795 572.6px 575.6px,#ebb896 575.6px 576.6px,#ecb997 576.6px 577.6px,#ecbb99 577.6px 578.6px,#ecba99 578.6px 580.6px,#eab391 580.6px 581.6px,#ecbd9b 581.6px 582.6px,#ecbc9a 582.6px 583.6px,#ecba98 583.6px 584.6px,#ecbc9a 584.6px 585.6px,#ebb896 585.6px 586.6px,#ebb694 586.6px 587.6px,#ecbd9b 587.6px 588.6px,#eab492 588.6px 590.6px,#ecbc9b 590.6px 592.6px,#edbf9d 592.6px 593.6px,#edc09e 593.6px 595.6px,#ecba98 595.6px 598.6px,#ebb896 598.6px 600.6px,#eec4a3 600.6px 601.6px,#eec2a1 601.6px 602.6px,#ecb997 602.6px 603.6px,#eec3a2 603.6px 604.6px,#eec4a3 604.6px 605.6px,#edbf9e 605.6px 606.6px,#ecbd9b 606.6px 607.6px,#eec2a0 607.6px 609.6px,#edbd9c 609.6px 611.6px,#edbe9d 611.6px 612.6px,#ebb694 612.6px 614.6px,#edc19f 614.6px 615.6px,#edbe9c 615.6px 616.6px,#edbe9d 616.6px 617.6px,#eec6a4 617.6px 618.6px,#eec5a4 618.6px 620.6px,#ecb997 620.6px 622.6px,#edc09e 622.6px 624.6px,#efc9a7 624.6px 625.6px,#ecba98 625.6px 626.6px,#efc7a6 626.6px 627.6px,#eec3a1 627.6px 628.6px,#eec2a1 628.6px 629.6px,#eec6a4 629.6px 631.6px,#efc7a5 631.6px 632.6px,#eec3a2 632.6px 633.6px,#eec3a1 633.6px 634.6px,#eec2a0 634.6px 635.6px,#eec3a2 635.6px 636.6px,#efc9a8 636.6px 638.6px,#eec2a1 638.6px 639.6px,#eec2a0 639.6px 640.6px,#ecbc9a 640.6px 641.6px,#eec5a3 641.6px 642.6px,#efc8a7 642.6px 643.6px,#efcaa9 643.6px 644.6px,#eec5a4 644.6px 645.6px,#efc8a7 645.6px 647.6px,#edbd9b 647.6px 648.6px,#eec4a3 648.6px 650.6px,#eec5a3 650.6px 651.6px,#eec5a4 651.6px 652.6px,#f0cbaa 652.6px 653.6px,#eec4a3 653.6px 654.6px,#eec3a2 654.6px 655.6px,#eec4a2 655.6px 656.6px,#efc7a6 656.6px 658.6px,#eec6a5 658.6px 659.6px,#efc6a5 659.6px 660.6px,#eec4a3 660.6px 661.6px,#f0cdac 661.6px 663.6px,#f0ccab 663.6px 665.6px,#efc9a8 665.6px 666.6px,#eec4a3 666.6px 668.6px,#f0cead 668.6px 669.6px,#efc6a5 669.6px 670.6px,#f0ccab 670.6px 672.6px,#f0cdac 672.6px 674.6px,#efcaa9 674.6px 676.6px,#eec6a5 676.6px 677.6px,#efc9a8 677.6px 678.6px,#edbf9e 678.6px 679.6px,#eec3a2 679.6px 681.6px,#efcaa9 681.6px 683.6px,#f0cead 683.6px 684.6px,#f0cbaa 684.6px 685.6px,#f0cead 685.6px 686.6px,#efc8a7 686.6px 688.6px,#f1d1b2 688.6px 690.6px,#efcaa9 690.6px 691.6px,#f0cfae 691.6px 692.6px,#f0ccab 692.6px 695.6px,#f0cfaf 695.6px 697.6px,#f0ccab 697.6px 698.6px,#efc8a7 698.6px 699.6px,#f0ccab 699.6px 703.6px,#eec3a1 703.6px 704.6px,#f0d0b0 704.6px 706.6px,#efcba9 706.6px 707.6px,#f0cfaf 707.6px 708.6px,#f1d1b1 708.6px 709.6px,#f0cfaf 709.6px 710.6px,#f0cead 710.6px 711.6px,#f0cdac 711.6px 713.6px,#efc9a8 713.6px 714.6px,#f0cfae 714.6px 715.6px,#f1d2b3 715.6px 717.6px,#f0cbaa 717.6px 719.6px,#f0ccab 719.6px 720.6px,#f1d3b4 720.6px 721.6px,#f1d4b6 721.6px 722.6px,#f0ccab 722.6px 723.6px,#f1d3b4 723.6px 725.6px,#f0d0b0 725.6px 726.6px,#f1d2b3 726.6px 727.6px,#f1d1b1 727.6px 728.6px,#f0cfaf 728.6px 729.6px,#f1d1b1 729.6px 730.6px,#f1d6b9 730.6px 731.6px,#efc9a8 731.6px 732.6px,#f1d7b9 732.6px 733.6px,#f1d5b8 733.6px 734.6px,#f1d3b4 734.6px 735.6px,#f1d1b2 735.6px 736.6px,#efcbaa 736.6px 737.6px,#f1d4b6 737.6px 738.6px,#f1d3b4 738.6px 739.6px,#f1d2b3 739.6px 742.6px,#f1d0b1 742.6px 744.6px,#f1d3b4 744.6px 745.6px,#f1d2b3 745.6px 747.6px,#f0cead 747.6px 748.6px,#f1d7b9 748.6px 749.6px,#f1d1b2 749.6px 750.6px,#f1d7b9 750.6px 751.6px,#f1d2b3 751.6px 752.6px,#f1d6b9 752.6px 753.6px,#f1d4b5 753.6px 754.2px,#fff 754.2px)"></div>
<div class="hc" style="left:964px;top:1078.2px;width:37.7px;height:754.1px;background:linear-gradient(#b16d5e 0px 2px,#b26e5f 2px 4px,#b46f60 4px 6px,#b57060 6px 8px,#b67161 8px 10px,#b87262 10px 12px,#b97362 12px 14px,#bb7463 14px 16px,#bc7564 16px 18px,#be7664 18px 20px,#bf7765 20px 22px,#c27967 22px 24px,#c57c68 24px 26px,#c87e69 26px 28px,#cb806a 28px 30px,#ce826b 30px 32px,#d1856c 32px 34px,#d4876d 34px 36px,#d6896e 36px 38px,#d88b70 38px 40px,#da8e72 40px 42px,#dc9073 42px 44px,#de9275 44px 46px,#e09476 46px 48px,#e29778 48px 50px,#e39a7a 50px 52px,#e49c7d 52px 54px,#e49f80 54px 56px,#e5a282 56px 58px,#e6a585 58px 60px,#e7a888 60px 62px,#e8ab8a 62px 64px,#e9ae8d 64px 66px,#eab18f 66px 68px,#eab492 68px 70px,#ebb795 70px 72px,#ebb896 72px 74px,#ecba98 74px 76px,#ecbc9a 76px 78px,#edbd9c 78px 80px,#edbf9e 80px 82px,#edc19f 82px 84px,#eec3a1 84px 86px,#eec4a3 86px 88px,#efc6a5 88px 90px,#efc8a7 90px 92px,#efc9a7 92px 94px,#efc9a8 94px 100px,#efcaa9 100px 106px,#efcba9 106px 108px,#f0cbaa 108px 114px,#f0ccab 114px 120px,#f0cdac 120px 128px,#f0cead 128px 132px,#f0ceae 132px 136px,#f0cfae 136px 138px,#f0cfaf 138px 141.3px,#f0cbaa 141.3px 141.8px,#f0cfaf 141.8px 142.8px,#efcaa9 142.8px 143.8px,#f1d2b2 143.8px 144.3px,#f1d2b3 144.3px 144.8px,#f0cead 144.8px 145.3px,#f0cfaf 145.3px 146.3px,#efc8a7 146.3px 146.8px,#f1d1b1 146.8px 147.3px,#efc9a8 147.3px 147.8px,#f0cbaa 147.8px 148.3px,#f1d1b2 148.3px 148.8px,#f0cdac 148.8px 149.3px,#f0cfaf 149.3px 150.3px,#f1d1b2 150.3px 150.8px,#f0ceae 150.8px 151.3px,#efcaa9 151.3px 151.8px,#f1d5b7 151.8px 152.8px,#f1d4b6 152.8px 153.3px,#f0d0b0 153.3px 153.8px,#f1d5b6 153.8px 154.3px,#f0cfaf 154.3px 154.8px,#f1d2b3 154.8px 155.8px,#efc8a7 155.8px 156.3px,#efcaa9 156.3px 157.8px,#f0cead 157.8px 158.3px,#f0d0b0 158.3px 159.3px,#f0cfae 159.3px 159.8px,#f0ccab 159.8px 160.3px,#f1d5b7 160.3px 160.8px,#efc8a6 160.8px 161.3px,#f0cdac 161.3px 162.3px,#f0cfaf 162.3px 163.3px,#f0cfae 163.3px 163.8px,#f0d0b0 163.8px 164.3px,#f0cead 164.3px 164.8px,#f0d0b0 164.8px 165.3px,#f1d0b1 165.3px 165.8px,#f0ccab 165.8px 166.3px,#f0cfaf 166.3px 166.8px,#f1d1b2 166.8px 167.3px,#f0cdac 167.3px 167.8px,#f1d2b3 167.8px 168.3px,#f0cdad 168.3px 168.8px,#f1d4b6 168.8px 169.3px,#f1d0b1 169.3px 170.3px,#f0ceae 170.3px 171.3px,#f1d5b6 171.3px 171.8px,#f1d5b7 171.8px 172.3px,#f0cfaf 172.3px 173.8px,#f0d0b0 173.8px 174.3px,#f0ceae 174.3px 174.8px,#f0cead 174.8px 175.3px,#efc8a7 175.3px 176.3px,#f0cfaf 176.3px 176.8px,#f0d0b0 176.8px 177.8px,#f1d1b1 177.8px 178.3px,#f0cfaf 178.3px 178.8px,#f0d0b0 178.8px 179.8px,#f1d3b4 179.8px 180.3px,#f0d0b0 180.3px 180.8px,#f1d1b1 180.8px 181.8px,#f0cfae 181.8px 182.3px,#efc8a7 182.3px 182.8px,#f1d3b4 182.8px 183.3px,#f1d3b5 183.3px 183.8px,#f0ccaa 183.8px 184.8px,#f1d4b6 184.8px 186.8px,#f0cfaf 186.8px 187.3px,#f1d2b2 187.3px 187.8px,#f0cfaf 187.8px 189.3px,#f0d0b0 189.3px 190.3px,#f1d3b5 190.3px 190.8px,#f0d0b0 190.8px 191.8px,#f1d1b1 191.8px 192.8px,#f0ccab 192.8px 193.8px,#f0d0af 193.8px 194.3px,#f0d0b0 194.3px 195.3px,#f1d4b6 195.3px 196.8px,#f0cfae 196.8px 197.8px,#f1d3b4 197.8px 198.3px,#f0d0b0 198.3px 198.8px,#f1d3b4 198.8px 199.3px,#f0cfae 199.3px 199.8px,#efc8a7 199.8px 200.3px,#f0ceae 200.3px 201.3px,#f0cead 201.3px 201.8px,#d78b70 201.8px 202.8px,#d98c71 202.8px 203.8px,#da8d71 203.8px 204.8px,#db8f72 204.8px 205.8px,#dc9073 205.8px 206.8px,#dd9174 206.8px 207.8px,#de9375 207.8px 208.8px,#df9476 208.8px 209.8px,#e09577 209.8px 210.8px,#e29778 210.8px 211.8px,#e2997a 211.8px 212.8px,#e39b7c 212.8px 213.8px,#e49d7e 213.8px 214.8px,#e49f7f 214.8px 215.8px,#e5a080 215.8px 216.8px,#e5a181 216.8px 217.8px,#e5a383 217.8px 218.8px,#e6a484 218.8px 219.8px,#e6a585 219.8px 220.8px,#e7a786 220.8px 221.8px,#e7a887 221.8px 222.8px,#e7a988 222.8px 223.8px,#e8aa8a 223.8px 224.8px,#e8ac8b 224.8px 225.8px,#e8ad8c 225.8px 226.8px,#e9ae8d 226.8px 227.8px,#e9b08e 227.8px 228.8px,#eab18f 228.8px 229.8px,#eab291 229.8px 230.8px,#eab392 230.8px 231.8px,#ebb593 231.8px 232.8px,#ebb694 232.8px 233.8px,#ebb896 233.8px 234.8px,#ecba98 234.8px 235.8px,#ecbc9a 235.8px 236.8px,#edbe9c 236.8px 237.8px,#edc09e 237.8px 238.8px,#eec2a0 238.8px 239.8px,#eec4a2 239.8px 240.8px,#eec6a4 240.8px 241.8px,#efc7a6 241.8px 242.8px,#fff 242.8px)"></div>
<div class="hc" style="left:1001.7px;top:1078.2px;width:36.9px;height:754.1px;background:linear-gradient(#ca7f6a 0px 1px,#c47a67 1px 3px,#c47b67 3px 4px,#c37a67 4px 5px,#d3866d 5px 6px,#ca806a 6px 7px,#c77d68 7px 9px,#b87262 9px 10px,#cf836b 10px 11px,#ca7f69 11px 12px,#ce836b 12px 13px,#d5886e 13px 14px,#cb806a 14px 15px,#bc7564 15px 16px,#c77d68 16px 17px,#cc816a 17px 19px,#cb806a 19px 20px,#ce826b 20px 21px,#d98d71 21px 22px,#cc816a 22px 24px,#dd9174 24px 25px,#c77d68 25px 26px,#c27967 26px 28px,#d6896e 28px 29px,#c37a67 29px 30px,#d3866d 30px 31px,#e19677 31px 33px,#d78a6f 33px 34px,#c47b68 34px 35px,#d6896e 35px 36px,#d88b70 36px 37px,#e09476 37px 38px,#db8f72 38px 39px,#ca806a 39px 40px,#d5886e 40px 41px,#e39b7c 41px 42px,#d88c70 42px 43px,#db8f73 43px 44px,#d98c71 44px 45px,#da8e72 45px 46px,#dc9073 46px 47px,#df9375 47px 49px,#de9275 49px 51px,#d5886e 51px 52px,#de9375 52px 53px,#db8f72 53px 54px,#e6a685 54px 55px,#d4876d 55px 56px,#d88c70 56px 57px,#e19577 57px 58px,#df9375 58px 59px,#dd9174 59px 60px,#df9476 60px 61px,#e6a484 61px 62px,#e49e7e 62px 63px,#de9375 63px 64px,#df9476 64px 65px,#e8ac8b 65px 66px,#e09577 66px 67px,#e5a383 67px 68px,#dd9174 68px 69px,#e7a786 69px 70px,#e49d7d 70px 71px,#ebb795 71px 72px,#e3997a 72px 73px,#e29778 73px 74px,#e7a887 74px 75px,#d98d71 75px 76px,#e6a484 76px 77px,#e8ab8a 77px 78px,#dd9174 78px 79px,#e09476 79px 80px,#e7a787 80px 81px,#d98d71 81px 82px,#eab290 82px 83px,#e5a282 83px 84px,#e8aa89 84px 85px,#e8ab8a 85px 86px,#ecbc9b 86px 87px,#e7a989 87px 88px,#e7a887 88px 89px,#e5a382 89px 90px,#df9476 90px 91px,#e7a988 91px 92px,#e29778 92px 93px,#e8aa8a 93px 94px,#f0ccab 94px 95px,#e49f7f 95px 96px,#e6a686 96px 97px,#e8ad8b 97px 99px,#ebb896 99px 100px,#eab290 100px 101px,#f1d0b1 101px 103px,#e7aa89 103px 104px,#f0cead 104px 105px,#eab290 105px 107px,#e29778 107px 108px,#e8ad8c 108px 109px,#eab290 109px 110px,#e9b18f 110px 111px,#ecb998 111px 113px,#f0ccab 113px 114px,#e6a484 114px 115px,#e8ac8b 115px 116px,#eab391 116px 117px,#ecbb9a 117px 118px,#f1d4b5 118px 119px,#edbf9d 119px 120px,#f0ccab 120px 123px,#f1d4b5 123px 124px,#eec3a1 124px 125px,#f1d7b9 125px 127px,#eec5a3 127px 128px,#e6a585 128px 130px,#e49d7e 130px 131px,#f0cdac 131px 132px,#eec4a2 132px 133px,#eec6a4 133px 134px,#f1d7b9 134px 136px,#ebb593 136px 137px,#efc8a7 137px 138px,#efc7a5 138px 139px,#f1d6b8 139px 140px,#f0cead 140px 140.8px,#f0cfae 140.8px 141.8px,#f0cdac 141.8px 142.3px,#efc6a5 142.3px 142.8px,#f0ccab 142.8px 143.3px,#efcaa9 143.3px 143.8px,#f1d4b6 143.8px 144.3px,#f0cdac 144.3px 144.8px,#f0ceae 144.8px 145.3px,#f0d0b0 145.3px 145.8px,#f1d2b3 145.8px 146.3px,#f0cead 146.3px 146.8px,#f0cdac 146.8px 147.8px,#f1d2b3 147.8px 148.3px,#f0d0b0 148.3px 148.8px,#f1d2b3 148.8px 149.3px,#f0ccab 149.3px 149.8px,#f0cfaf 149.8px 150.3px,#f0ceae 150.3px 150.8px,#f0cfae 150.8px 151.3px,#f0ccab 151.3px 151.8px,#f0ceae 151.8px 152.3px,#f1d4b5 152.3px 152.8px,#f0cfaf 152.8px 153.8px,#f0ceae 153.8px 154.8px,#eec5a4 154.8px 155.8px,#f0cdac 155.8px 156.3px,#f1d3b4 156.3px 156.8px,#efc7a6 156.8px 157.3px,#f1d2b3 157.3px 158.3px,#f1d3b4 158.3px 159.3px,#efc7a6 159.3px 159.8px,#efcaa9 159.8px 160.3px,#f0cfaf 160.3px 160.8px,#f0cbaa 160.8px 161.3px,#f0cdac 161.3px 161.8px,#eec5a4 161.8px 162.3px,#efcaa8 162.3px 162.8px,#f1d4b5 162.8px 163.3px,#efc9a8 163.3px 164.3px,#efcaa9 164.3px 164.8px,#fff 164.8px 242.8px,#d4876d 242.8px 244.8px,#d5886e 244.8px 246.8px,#d6896f 246.8px 248.8px,#d78a6f 248.8px 250.8px,#d88b70 250.8px 252.8px,#d88c70 252.8px 254.8px,#d98d71 254.8px 256.8px,#da8e72 256.8px 258.8px,#db8f72 258.8px 260.8px,#dc9073 260.8px 262.8px,#dc9174 262.8px 264.8px,#dd9174 264.8px 266.8px,#de9275 266.8px 268.8px,#df9375 268.8px 270.8px,#e09476 270.8px 272.8px,#e09577 272.8px 274.8px,#e19677 274.8px 276.8px,#e29778 276.8px 278.8px,#e29879 278.8px 280.8px,#e39a7a 280.8px 282.8px,#e39b7c 282.8px 284.8px,#e49c7d 284.8px 286.8px,#e49e7e 286.8px 288.8px,#e49f80 288.8px 290.8px,#e5a181 290.8px 292.8px,#e5a282 292.8px 294.8px,#e6a483 294.8px 296.8px,#e6a585 296.8px 298.8px,#e6a686 298.8px 300.8px,#e7a887 300.8px 302.8px,#e7a988 302.8px 304.8px,#e8ab8a 304.8px 306.8px,#e8ac8b 306.8px 308.8px,#e9ad8c 308.8px 310.8px,#e9af8e 310.8px 312.8px,#e9b08f 312.8px 314.8px,#eab290 314.8px 316.8px,#eab391 316.8px 318.8px,#ebb493 318.8px 320.8px,#ebb694 320.8px 324.8px,#ebb795 324.8px 328.8px,#ebb896 328.8px 330.8px,#ecb896 330.8px 332.8px,#ecb997 332.8px 336.8px,#ecba98 336.8px 340.8px,#ecbb99 340.8px 344.8px,#ecbc9a 344.8px 348.8px,#ecbd9b 348.8px 350.8px,#edbd9b 350.8px 352.8px,#edbe9c 352.8px 356.8px,#edbf9d 356.8px 360.8px,#edbf9e 360.8px 362.8px,#edc09e 362.8px 364.8px,#edc09f 364.8px 366.8px,#edc19f 366.8px 368.8px,#edc1a0 368.8px 370.8px,#eec2a0 370.8px 372.8px,#eec2a1 372.8px 374.8px,#eec3a1 374.8px 376.8px,#eec3a2 376.8px 378.8px,#eec4a2 378.8px 380.8px,#eec4a3 380.8px 382.8px,#eec5a3 382.8px 384.8px,#eec5a4 384.8px 386.8px,#eec6a4 386.8px 388.8px,#efc6a5 388.8px 390.8px,#efc7a5 390.8px 392.8px,#efc7a6 392.8px 394.8px,#efc8a6 394.8px 396.8px,#efc8a7 396.8px 400.8px,#efc9a8 400.8px 404.8px,#efcaa9 404.8px 408.8px,#f0cbaa 408.8px 412.8px,#f0ccab 412.8px 416.8px,#f0cdac 416.8px 418.8px,#e9b08f 418.8px 419.8px,#eab18f 419.8px 420.8px,#eab290 420.8px 421.8px,#eab291 421.8px 422.8px,#eab391 422.8px 423.8px,#eab492 423.8px 424.8px,#ebb593 424.8px 426.8px,#ebb694 426.8px 427.8px,#ebb795 427.8px 428.8px,#ebb896 428.8px 429.8px,#ecb997 429.8px 430.8px,#ecba99 430.8px 431.8px,#ecbb9a 431.8px 432.8px,#ecbc9b 432.8px 433.8px,#edbe9c 433.8px 434.8px,#edbf9d 434.8px 435.8px,#edc09e 435.8px 436.8px,#edc19f 436.8px 437.8px,#eec2a0 437.8px 438.8px,#eec3a2 438.8px 439.8px,#eec4a3 439.8px 440.8px,#eec5a4 440.8px 441.8px,#efc6a5 441.8px 442.8px,#efc7a6 442.8px 443.8px,#efc8a7 443.8px 444.8px,#efc9a8 444.8px 445.8px,#efcba9 445.8px 446.8px,#f0ccab 446.8px 447.8px,#f0cdac 447.8px 448.8px,#f0cead 448.8px 449.8px,#f0cfae 449.8px 450.8px,#f0d0b0 450.8px 451.8px,#f1d1b1 451.8px 452.8px,#f0cdac 452.8px 469.8px,#e09576 469.8px 471.8px,#e19677 471.8px 473.8px,#e29879 473.8px 475.8px,#e39b7b 475.8px 477.8px,#e49e7e 477.8px 479.8px,#e5a081 479.8px 481.8px,#e6a383 481.8px 483.8px,#e6a686 483.8px 485.8px,#e7a988 485.8px 487.8px,#e8ac8b 487.8px 489.8px,#e9af8d 489.8px 491.8px,#eab290 491.8px 493.8px,#ebb493 493.8px 495.8px,#ebb694 495.8px 497.8px,#ebb795 497.8px 499.8px,#ebb896 499.8px 501.8px,#ecb997 501.8px 503.8px,#ecba98 503.8px 505.8px,#ecbb99 505.8px 507.8px,#ecbc9a 507.8px 509.8px,#ecbd9b 509.8px 511.8px,#edbe9c 511.8px 513.8px,#edbf9d 513.8px 515.8px,#edbf9e 515.8px 517.8px,#edc09f 517.8px 519.8px,#edc1a0 519.8px 521.8px,#eec2a1 521.8px 523.8px,#eec3a2 523.8px 525.8px,#eec4a3 525.8px 527.8px,#eec5a4 527.8px 529.8px,#eec6a5 529.8px 531.8px,#efc7a5 531.8px 533.8px,#efc8a6 533.8px 535.8px,#efc9a7 535.8px 537.8px,#efc9a8 537.8px 539.8px,#efcaa9 539.8px 541.8px,#f0cbaa 541.8px 543.8px,#f0ccab 543.8px 545.8px,#f0cdac 545.8px 547.8px,#f0cead 547.8px 549.8px,#f0cfae 549.8px 551.8px,#f0d0b0 551.8px 553.8px,#f1d0b1 553.8px 555.8px,#f1d1b2 555.8px 556.8px,#fff 556.8px)"></div>
<div class="hc" style="left:1038.6px;top:1078.2px;width:38.1px;height:754.1px;background:linear-gradient(#c67c68 0px 1px,#cb806a 1px 2px,#c67d68 2px 4px,#c57b68 4px 5px,#d88b70 5px 6px,#c67c68 6px 7px,#d6896f 7px 8px,#d3866d 8px 9px,#bb7463 9px 10px,#cf846b 10px 11px,#d78a6f 11px 12px,#c97f69 12px 13px,#d6896f 13px 14px,#d1856c 14px 15px,#da8e72 15px 16px,#ba7463 16px 17px,#dc9174 17px 18px,#d0846c 18px 20px,#bd7664 20px 21px,#d4876d 21px 22px,#cb806a 22px 23px,#de9375 23px 24px,#c77d68 24px 25px,#da8e71 25px 26px,#d0846c 26px 28px,#bc7564 28px 29px,#d78b70 29px 31px,#e09576 31px 32px,#e29879 32px 33px,#d2856c 33px 34px,#d6896f 34px 35px,#d2856c 35px 36px,#c77d68 36px 38px,#e39a7b 38px 39px,#d3866c 39px 40px,#d3866d 40px 41px,#da8e72 41px 42px,#d98c71 42px 43px,#db8f73 43px 44px,#d4876d 44px 45px,#c77d69 45px 47px,#d78b70 47px 48px,#d98d71 48px 49px,#d78b70 49px 51px,#dd9174 51px 52px,#c87e69 52px 53px,#d98d71 53px 55px,#e19677 55px 56px,#de9375 56px 58px,#e49d7d 58px 60px,#d98d71 60px 61px,#de9275 61px 63px,#e39c7c 63px 64px,#dd9174 64px 65px,#e9b08e 65px 66px,#d6896e 66px 67px,#e39b7c 67px 69px,#de9375 69px 70px,#e29879 70px 71px,#e7a888 71px 72px,#eab291 72px 73px,#e6a383 73px 75px,#e8ad8c 75px 76px,#e29879 76px 77px,#d6896e 77px 78px,#d4876d 78px 81px,#da8e72 81px 83px,#e49f80 83px 84px,#e39b7c 84px 85px,#d88b70 85px 86px,#e5a282 86px 87px,#de9275 87px 88px,#edc09e 88px 89px,#e7a988 89px 90px,#ebb694 90px 91px,#e9ae8c 91px 92px,#ecbb99 92px 93px,#f0cdac 93px 94px,#e7a786 94px 96px,#e5a181 96px 97px,#e8ab8a 97px 98px,#e8ad8c 98px 99px,#eab18f 99px 100px,#edc09f 100px 101px,#e3997a 101px 103px,#ebb593 103px 104px,#e7a888 104px 105px,#df9376 105px 106px,#df9476 106px 108px,#eab391 108px 109px,#e29979 109px 110px,#e29879 110px 111px,#efcaa9 111px 112px,#edbd9c 112px 113px,#eab290 113px 114px,#eab190 114px 115px,#e8ad8c 115px 116px,#e49e7e 116px 117px,#e6a685 117px 119px,#e5a382 119px 120px,#edbd9b 120px 121px,#e3997a 121px 122px,#f0cfae 122px 123px,#e49d7d 123px 125px,#f1d7b9 125px 126px,#f0ccab 126px 127px,#efc7a6 127px 128px,#edbf9d 128px 130px,#edc1a0 130px 132px,#f1d5b7 132px 133px,#e5a080 133px 134px,#eec3a2 134px 136px,#f1d3b4 136px 137px,#ecbc9a 137px 138px,#ebb694 138px 139px,#f1d7b9 139px 140px,#ebb896 140px 140.8px,#eec2a1 140.8px 141.3px,#eec2a0 141.3px 141.8px,#efc9a8 141.8px 142.3px,#efcaa9 142.3px 142.8px,#f0cead 142.8px 143.3px,#f0cfaf 143.3px 144.3px,#eec2a1 144.3px 144.8px,#efcaa9 144.8px 145.8px,#efc9a8 145.8px 146.3px,#edc1a0 146.3px 147.3px,#eec2a1 147.3px 147.8px,#fff 147.8px 165.8px,#f0cdac 165.8px 166.3px,#eec2a0 166.3px 166.8px,#ecbc9b 166.8px 167.3px,#f0ceae 167.3px 168.3px,#f0ccab 168.3px 168.8px,#f1d7b9 168.8px 169.8px,#edc09f 169.8px 170.3px,#efcaa9 170.3px 171.3px,#f1d3b5 171.3px 171.8px,#f1d1b1 171.8px 172.3px,#ecbc9a 172.3px 172.8px,#edc19f 172.8px 173.3px,#ecba98 173.3px 173.8px,#f0cead 173.8px 174.8px,#f1d7b9 174.8px 175.3px,#f0ccab 175.3px 176.3px,#efc9a7 176.3px 177.3px,#eec6a5 177.3px 178.3px,#efc8a6 178.3px 178.8px,#eec4a2 178.8px 179.3px,#eec5a4 179.3px 179.8px,#efc8a7 179.8px 180.8px,#eec5a3 180.8px 181.3px,#ebb593 181.3px 181.8px,#f1d1b2 181.8px 182.8px,#ecb997 182.8px 183.3px,#efc9a8 183.3px 184.3px,#f1d6b8 184.3px 184.8px,#f0d0b0 184.8px 185.8px,#efcaa9 185.8px 186.3px,#f1d6b8 186.3px 186.8px,#edbe9c 186.8px 187.3px,#f0ccab 187.3px 187.8px,#eec5a3 187.8px 188.3px,#edbe9d 188.3px 188.8px,#efc9a8 188.8px 189.3px,#f1d1b2 189.3px 189.8px,#fff 189.8px 242.8px,#d4876d 242.8px 243.8px,#e29778 243.8px 244.8px,#c67d68 244.8px 245.8px,#de9275 245.8px 247.8px,#d88c70 247.8px 248.8px,#e09576 248.8px 250.8px,#e49d7d 250.8px 251.8px,#e19577 251.8px 252.8px,#d4876d 252.8px 254.8px,#e49f7f 254.8px 255.8px,#dd9174 255.8px 256.8px,#db9073 256.8px 257.8px,#e49f7f 257.8px 259.8px,#e3997a 259.8px 261.8px,#e6a484 261.8px 263.8px,#ce826b 263.8px 264.8px,#dc9073 264.8px 265.8px,#e39a7b 265.8px 266.8px,#e6a585 266.8px 267.8px,#da8e72 267.8px 269.8px,#db8f73 269.8px 270.8px,#e09577 270.8px 271.8px,#e7a786 271.8px 272.8px,#dd9174 272.8px 273.8px,#df9375 273.8px 275.8px,#e39c7d 275.8px 276.8px,#d98c71 276.8px 277.8px,#e19577 277.8px 278.8px,#db8f73 278.8px 280.8px,#e29778 280.8px 282.8px,#e19677 282.8px 283.8px,#e49e7e 283.8px 284.8px,#e29979 284.8px 285.8px,#e19677 285.8px 286.8px,#e9b08e 286.8px 287.8px,#e29879 287.8px 288.8px,#de9275 288.8px 290.8px,#e3997a 290.8px 292.8px,#e29778 292.8px 293.8px,#e8ab8a 293.8px 294.8px,#df9476 294.8px 295.8px,#e49d7d 295.8px 296.8px,#e6a383 296.8px 297.8px,#e3997a 297.8px 298.8px,#e5a080 298.8px 299.8px,#e39c7c 299.8px 300.8px,#e6a685 300.8px 301.8px,#e39b7c 301.8px 302.8px,#e49f7f 302.8px 303.8px,#e29678 303.8px 304.8px,#dc9073 304.8px 306.8px,#e7a988 306.8px 307.8px,#e6a484 307.8px 308.8px,#e8ab8a 308.8px 311.8px,#e8ad8c 311.8px 312.8px,#e5a282 312.8px 313.8px,#e9af8e 313.8px 315.8px,#e49e7e 315.8px 316.8px,#e5a181 316.8px 317.8px,#e5a282 317.8px 318.8px,#e8ab8a 318.8px 319.8px,#eab190 319.8px 320.8px,#e6a383 320.8px 322.8px,#e7aa89 322.8px 323.8px,#e9af8e 323.8px 325.8px,#e19677 325.8px 326.8px,#eec4a3 326.8px 327.8px,#df9476 327.8px 328.8px,#edbf9e 328.8px 330.8px,#e7a787 330.8px 331.8px,#e8ad8c 331.8px 332.8px,#efcaa9 332.8px 334.8px,#e7a989 334.8px 335.8px,#ebb593 335.8px 336.8px,#f0cbaa 336.8px 338.8px,#e19677 338.8px 339.8px,#e9ae8d 339.8px 340.8px,#edc19f 340.8px 341.8px,#edbe9c 341.8px 342.8px,#f1d3b4 342.8px 344.8px,#ebb493 344.8px 346.8px,#e7a888 346.8px 347.8px,#e6a685 347.8px 348.8px,#e6a383 348.8px 349.8px,#ebb593 349.8px 350.8px,#eec2a0 350.8px 351.8px,#e29879 351.8px 352.8px,#ecbb9a 352.8px 353.8px,#e9b08f 353.8px 354.8px,#e8ac8b 354.8px 356.8px,#f1d7b9 356.8px 357.8px,#f0cdad 357.8px 358.8px,#eab492 358.8px 359.8px,#ebb593 359.8px 360.8px,#eec5a4 360.8px 361.8px,#efc9a7 361.8px 362.8px,#e49f7f 362.8px 363.8px,#f0ccab 363.8px 365.8px,#eab391 365.8px 367.8px,#e8ad8c 367.8px 369.8px,#ebb694 369.8px 370.8px,#f1d6b9 370.8px 371.8px,#e8ad8c 371.8px 372.8px,#edc19f 372.8px 373.8px,#ecba98 373.8px 374.8px,#e8ab8a 374.8px 375.8px,#f1d4b6 375.8px 376.8px,#eab391 376.8px 377.8px,#f1d7b9 377.8px 378.8px,#e6a484 378.8px 379.8px,#e9ae8d 379.8px 380.8px,#ebb593 380.8px 381.8px,#edc09f 381.8px 382.8px,#ebb896 382.8px 384.8px,#edbd9b 384.8px 385.8px,#f1d3b4 385.8px 386.8px,#e7a988 386.8px 387.8px,#e6a484 387.8px 389.8px,#f0ceae 389.8px 390.8px,#edc09e 390.8px 392.8px,#e6a584 392.8px 393.8px,#eab392 393.8px 395.8px,#ebb896 395.8px 396.8px,#eab492 396.8px 397.8px,#ebb694 397.8px 398.8px,#f1d7b9 398.8px 399.8px,#eab492 399.8px 400.8px,#e8ab8a 400.8px 401.8px,#f1d7b9 401.8px 405.8px,#eec3a2 405.8px 407.8px,#ebb896 407.8px 408.8px,#eec6a4 408.8px 409.8px,#f1d7b9 409.8px 411.8px,#e9b08f 411.8px 412.8px,#f0ceae 412.8px 413.8px,#e8ad8c 413.8px 415.8px,#efc9a7 415.8px 416.8px,#ebb694 416.8px 417.8px,#edbe9d 417.8px 418.8px,#e9ae8c 418.8px 419.8px,#eab190 419.8px 420.8px,#eab492 420.8px 421.8px,#edbe9c 421.8px 422.3px,#eab290 422.3px 423.3px,#ecb997 423.3px 423.8px,#eab190 423.8px 424.3px,#ebb593 424.3px 425.3px,#e7a887 425.3px 425.8px,#edbe9c 425.8px 426.3px,#e8ac8b 426.3px 426.8px,#ebb896 426.8px 427.3px,#ebb593 427.3px 427.8px,#e9b08e 427.8px 428.3px,#edbf9d 428.3px 428.8px,#ebb795 428.8px 429.8px,#edbe9d 429.8px 430.3px,#eec2a1 430.3px 431.3px,#e9ae8d 431.3px 431.8px,#edbf9e 431.8px 432.8px,#ebb694 432.8px 433.3px,#edbe9c 433.3px 434.3px,#edc1a0 434.3px 434.8px,#edbe9c 434.8px 435.8px,#eec4a2 435.8px 436.3px,#efc9a8 436.3px 436.8px,#eec4a2 436.8px 437.3px,#edbd9b 437.3px 437.8px,#edbe9d 437.8px 438.3px,#efc9a8 438.3px 438.8px,#ebb493 438.8px 439.3px,#eec4a2 439.3px 440.3px,#ecbd9b 440.3px 441.8px,#ecba99 441.8px 442.3px,#edc19f 442.3px 443.3px,#edc09e 443.3px 443.8px,#f0ceae 443.8px 444.3px,#edc1a0 444.3px 444.8px,#eec2a1 444.8px 445.3px,#eec4a2 445.3px 445.8px,#ebb593 445.8px 446.3px,#eab290 446.3px 446.8px,#eec5a4 446.8px 447.3px,#f0cead 447.3px 448.3px,#eec3a1 448.3px 448.8px,#efcaa9 448.8px 449.3px,#ecb997 449.3px 450.3px,#eec5a4 450.3px 450.8px,#efc8a7 450.8px 451.3px,#f0ccaa 451.3px 451.8px,#efc9a8 451.8px 452.2px,#fff 452.2px 557.2px,#eec5a4 557.2px 558.2px,#ecbc9b 558.2px 558.7px,#edc09e 558.7px 559.2px,#f0cead 559.2px 559.7px,#efcaa9 559.7px 560.7px,#eec5a3 560.7px 561.7px,#f0ccab 561.7px 562.2px,#eec2a1 562.2px 562.7px,#efc8a6 562.7px 563.7px,#edbf9e 563.7px 564.7px,#ecbb99 564.7px 565.7px,#efcaa9 565.7px 566.2px,#f0ccab 566.2px 566.7px,#efcba9 566.7px 567.2px,#eec2a1 567.2px 567.7px,#ecba98 567.7px 568.2px,#f0ccab 568.2px 568.7px,#eec2a0 568.7px 569.2px,#eec6a5 569.2px 569.7px,#ecbd9b 569.7px 570.2px,#ecb997 570.2px 570.7px,#ecbc9b 570.7px 571.2px,#ebb593 571.2px 571.7px,#f0cfaf 571.7px 572.7px,#edc19f 572.7px 573.2px,#eec2a0 573.2px 573.7px,#eec5a4 573.7px 574.2px,#efc7a6 574.2px 575.2px,#edc09f 575.2px 575.3px,#dd9174 575.3px 577.3px,#de9274 577.3px 579.3px,#de9375 579.3px 581.3px,#df9476 581.3px 583.3px,#e09576 583.3px 585.3px,#e19577 585.3px 587.3px,#e19677 587.3px 589.3px,#e29778 589.3px 591.3px,#e3997a 591.3px 593.3px,#e39b7b 593.3px 595.3px,#e49c7d 595.3px 597.3px,#e49e7e 597.3px 599.3px,#e5a080 599.3px 601.3px,#e5a181 601.3px 603.3px,#e5a383 603.3px 605.3px,#e6a584 605.3px 607.3px,#e6a686 607.3px 609.3px,#e7a787 609.3px 611.3px,#e7a888 611.3px 613.3px,#e7a988 613.3px 615.3px,#e8aa89 615.3px 617.3px,#e8ab8a 617.3px 619.3px,#e8ac8b 619.3px 621.3px,#e8ad8c 621.3px 623.3px,#e9ad8c 623.3px 625.3px,#e9ae8d 625.3px 627.3px,#e9af8e 627.3px 629.3px,#e9b08f 629.3px 631.3px,#eab18f 631.3px 633.3px,#eab290 633.3px 635.3px,#eab391 635.3px 637.3px,#eab492 637.3px 639.3px,#ebb593 639.3px 643.3px,#ebb694 643.3px 645.3px,#ebb896 645.3px 647.3px,#ecb997 647.3px 649.3px,#ecba99 649.3px 651.3px,#ecbc9a 651.3px 653.3px,#edbd9b 653.3px 655.3px,#edbe9d 655.3px 657.3px,#edc09e 657.3px 659.3px,#edc19f 659.3px 661.3px,#eec2a1 661.3px 663.3px,#eec4a2 663.3px 665.3px,#eec5a3 665.3px 667.3px,#efc6a5 667.3px 669.3px,#efc7a6 669.3px 671.3px,#efc9a8 671.3px 673.3px,#efcaa9 673.3px 675.3px,#f0cbaa 675.3px 677.3px,#f0cdac 677.3px 679.3px,#f0cead 679.3px 681.3px,#f0cfaf 681.3px 683.3px,#f1d0b1 683.3px 685.3px,#f1d1b2 685.3px 685.8px,#fff 685.8px)"></div>
<div class="hc" style="left:1076.7px;top:1078.2px;width:37.6px;height:754.1px;background:linear-gradient(#cb806a 0px 1px,#c47b67 1px 2px,#c07865 2px 3px,#dc9073 3px 4px,#b46f60 4px 5px,#dc9073 5px 7px,#cb806a 7px 9px,#c17866 9px 10px,#c27966 10px 11px,#dd9274 11px 12px,#d78b6f 12px 14px,#cd826b 14px 16px,#d4876d 16px 17px,#d1856c 17px 18px,#df9376 18px 19px,#d4876d 19px 21px,#d88b70 21px 22px,#de9375 22px 23px,#d78a6f 23px 24px,#d5886e 24px 26px,#cc816a 26px 27px,#d4876d 27px 28px,#ce836b 28px 29px,#de9275 29px 30px,#d2856c 30px 31px,#db8f73 31px 32px,#d4876d 32px 34px,#cd826b 34px 36px,#da8d71 36px 37px,#dc9073 37px 39px,#e49e7e 39px 40px,#d2866c 40px 41px,#e29879 41px 42px,#de9275 42px 43px,#d2856c 43px 44px,#dd9174 44px 45px,#d0846c 45px 46px,#db8f72 46px 47px,#da8e72 47px 48px,#e6a585 48px 49px,#e6a483 49px 50px,#e19677 50px 52px,#e39a7b 52px 53px,#e5a282 53px 54px,#d3866d 54px 55px,#e19677 55px 57px,#e49d7d 57px 58px,#e09577 58px 59px,#e09476 59px 61px,#e6a686 61px 62px,#dc9073 62px 63px,#e09576 63px 64px,#eab290 64px 66px,#e5a181 66px 67px,#ecbb99 67px 68px,#e7a888 68px 69px,#e09476 69px 70px,#e49d7d 70px 71px,#e19677 71px 73px,#edc09f 73px 74px,#e5a081 74px 75px,#e8ad8c 75px 76px,#e8aa8a 76px 77px,#e19677 77px 79px,#e5a181 79px 80px,#eab391 80px 81px,#e39b7b 81px 82px,#e6a585 82px 83px,#df9375 83px 84px,#ebb694 84px 86px,#e29778 86px 87px,#f0cdac 87px 88px,#edbe9c 88px 89px,#eec5a4 89px 90px,#e49f7f 90px 91px,#e19678 91px 92px,#e7a786 92px 93px,#e8ab8a 93px 95px,#f1d6b9 95px 96px,#e5a282 96px 97px,#e39b7c 97px 99px,#f0d0b0 99px 100px,#df9476 100px 101px,#ebb493 101px 102px,#de9375 102px 103px,#ebb896 103px 105px,#f1d7b9 105px 106px,#eec5a4 106px 108px,#ebb593 108px 109px,#ecba99 109px 110px,#e5a181 110px 111px,#eab290 111px 112px,#f1d3b4 112px 113px,#ecbc9a 113px 114px,#eab391 114px 115px,#e3997a 115px 116px,#eec3a1 116px 117px,#ebb593 117px 118px,#ecba98 118px 120px,#f1d7b9 120px 123px,#f1d2b3 123px 125px,#e29879 125px 127px,#f0cbaa 127px 128px,#eec5a3 128px 129px,#e7a989 129px 130px,#e6a584 130px 132px,#ebb795 132px 133px,#ecbb99 133px 134px,#e7a887 134px 136px,#f0cbaa 136px 137px,#f1d7b9 137px 139px,#f0ccab 139px 140px,#f1d7b9 140px 140.5px,#fff 140.5px 147.7px,#f1d1b2 147.7px 152.5px,#fff 152.5px 165.8px,#f0cdac 165.8px 169.8px,#fff 169.8px 190px,#efc8a7 190px 201px,#fff 201px 242.8px,#ce836b 242.8px 244.8px,#e09577 244.8px 245.8px,#e39c7d 245.8px 246.8px,#dd9274 246.8px 247.8px,#e39b7b 247.8px 248.8px,#e49c7d 248.8px 249.8px,#d6896e 249.8px 250.8px,#d1856c 250.8px 251.8px,#dc9073 251.8px 253.8px,#e29778 253.8px 255.8px,#dc9073 255.8px 256.8px,#da8e72 256.8px 257.8px,#de9275 257.8px 258.8px,#dd9274 258.8px 259.8px,#e19677 259.8px 260.8px,#e49e7e 260.8px 261.8px,#e19577 261.8px 262.8px,#e5a181 262.8px 265.8px,#e5a383 265.8px 266.8px,#d2866c 266.8px 267.8px,#e5a282 267.8px 268.8px,#e09476 268.8px 269.8px,#e5a282 269.8px 270.8px,#e8aa89 270.8px 271.8px,#df9476 271.8px 273.8px,#e6a685 273.8px 274.8px,#e9af8e 274.8px 275.8px,#e3997a 275.8px 276.8px,#e09576 276.8px 277.8px,#e7a888 277.8px 278.8px,#e19678 278.8px 280.8px,#e09576 280.8px 281.8px,#e7a787 281.8px 282.8px,#e5a181 282.8px 283.8px,#e6a484 283.8px 284.8px,#e29979 284.8px 285.8px,#e19677 285.8px 286.8px,#e8ac8b 286.8px 287.8px,#ebb795 287.8px 288.8px,#dd9274 288.8px 290.8px,#e5a080 290.8px 291.8px,#da8e72 291.8px 292.8px,#db8f73 292.8px 294.8px,#df9375 294.8px 295.8px,#eab291 295.8px 296.8px,#ecba98 296.8px 297.8px,#e7a988 297.8px 298.8px,#e6a484 298.8px 299.8px,#e49f7f 299.8px 301.8px,#e49e7f 301.8px 302.8px,#e7aa89 302.8px 303.8px,#e6a585 303.8px 304.8px,#e5a383 304.8px 306.8px,#dd9174 306.8px 307.8px,#e29778 307.8px 308.8px,#edbd9b 308.8px 309.8px,#eec4a2 309.8px 310.8px,#e7aa89 310.8px 311.8px,#e5a181 311.8px 313.8px,#eab291 313.8px 314.8px,#ecb998 314.8px 315.8px,#e7a988 315.8px 316.8px,#e6a484 316.8px 317.8px,#e8aa8a 317.8px 318.8px,#eab291 318.8px 319.8px,#e19677 319.8px 320.8px,#e49d7e 320.8px 321.8px,#eab492 321.8px 323.8px,#edc09f 323.8px 324.8px,#e2997a 324.8px 325.8px,#e19677 325.8px 327.8px,#f0cead 327.8px 328.8px,#eab492 328.8px 329.8px,#e8ab8a 329.8px 330.8px,#edbe9c 330.8px 331.8px,#e9ae8d 331.8px 332.8px,#ebb593 332.8px 333.8px,#eab492 333.8px 334.8px,#e29778 334.8px 335.8px,#f0ccab 335.8px 337.8px,#e7a786 337.8px 338.8px,#e8ab8a 338.8px 339.8px,#ebb795 339.8px 340.8px,#ecbb9a 340.8px 342.8px,#e6a484 342.8px 343.8px,#e7a988 343.8px 344.8px,#e9ae8d 344.8px 345.8px,#e09576 345.8px 346.8px,#ebb593 346.8px 347.8px,#e9b08e 347.8px 348.8px,#e8ac8b 348.8px 349.8px,#e8ad8c 349.8px 350.8px,#f0cfae 350.8px 351.8px,#e6a484 351.8px 353.8px,#e7a887 353.8px 354.8px,#f0cdac 354.8px 355.8px,#e8ab8a 355.8px 356.8px,#edc19f 356.8px 357.8px,#e9b08e 357.8px 358.8px,#f0cfaf 358.8px 359.8px,#ecb997 359.8px 360.8px,#edc09e 360.8px 361.8px,#e8ad8c 361.8px 362.8px,#edc1a0 362.8px 363.8px,#eab492 363.8px 364.8px,#ebb896 364.8px 366.8px,#f1d3b4 366.8px 367.8px,#e9ae8d 367.8px 368.8px,#e49f7f 368.8px 370.8px,#edbe9c 370.8px 371.8px,#f1d6b8 371.8px 372.8px,#e7aa89 372.8px 373.8px,#ebb493 373.8px 374.8px,#f0ceae 374.8px 375.8px,#ecba98 375.8px 376.8px,#ecbc9a 376.8px 377.8px,#eab391 377.8px 378.8px,#efc9a8 378.8px 379.8px,#f1d5b7 379.8px 380.8px,#ecb997 380.8px 381.8px,#f0cfaf 381.8px 382.8px,#edc1a0 382.8px 383.8px,#e8aa89 383.8px 384.8px,#f1d7b9 384.8px 386.8px,#e9b18f 386.8px 387.8px,#f1d7b9 387.8px 388.8px,#f0cbaa 388.8px 389.8px,#efc7a6 389.8px 390.8px,#eec4a2 390.8px 391.8px,#e8ad8c 391.8px 392.8px,#eec3a2 392.8px 393.8px,#f0cfaf 393.8px 395.8px,#efc8a7 395.8px 397.8px,#f0cbaa 397.8px 398.8px,#e9af8e 398.8px 399.8px,#f1d7b9 399.8px 400.8px,#ebb795 400.8px 401.8px,#f1d7b9 401.8px 404.8px,#eec5a4 404.8px 405.8px,#eec2a1 405.8px 406.8px,#eab391 406.8px 407.8px,#eab392 407.8px 409.8px,#f1d7b9 409.8px 410.8px,#edbf9d 410.8px 411.8px,#eec2a0 411.8px 412.8px,#f1d7b9 412.8px 413.8px,#eec4a3 413.8px 415.8px,#f1d7b9 415.8px 416.8px,#f0d0b0 416.8px 417.8px,#f1d7b9 417.8px 418.8px,#fff 418.8px 452.6px,#efc8a6 452.6px 453.1px,#eec5a3 453.1px 453.6px,#eec2a1 453.6px 454.1px,#edc1a0 454.1px 455.1px,#efc8a7 455.1px 455.6px,#efc6a5 455.6px 456.1px,#efc8a7 456.1px 456.6px,#eec5a4 456.6px 457.1px,#eec2a0 457.1px 457.6px,#eec3a1 457.6px 458.1px,#efcaa9 458.1px 458.6px,#eec3a1 458.6px 459.1px,#ecbb99 459.1px 459.6px,#efc9a8 459.6px 460.6px,#eec5a3 460.6px 461.6px,#efc9a8 461.6px 462.1px,#eec5a3 462.1px 462.6px,#eec4a3 462.6px 463.1px,#eec5a4 463.1px 463.6px,#efc7a5 463.6px 464.6px,#eec5a4 464.6px 466.1px,#eec2a0 466.1px 467.1px,#efc6a5 467.1px 467.6px,#eec2a1 467.6px 468.1px,#edc19f 468.1px 468.6px,#eec3a1 468.6px 469.1px,#eec4a3 469.1px 469.6px,#fff 469.6px 557.2px,#ebb896 557.2px 557.7px,#eab190 557.7px 558.2px,#edbd9c 558.2px 558.7px,#f0cfae 558.7px 559.2px,#ecbd9b 559.2px 559.7px,#efcaa9 559.7px 560.2px,#eec3a1 560.2px 560.7px,#eec4a3 560.7px 561.7px,#edc19f 561.7px 562.2px,#eec3a1 562.2px 562.7px,#f0cfaf 562.7px 563.2px,#ecbb9a 563.2px 563.7px,#edc09f 563.7px 564.7px,#edc19f 564.7px 565.2px,#eab290 565.2px 565.7px,#edc19f 565.7px 566.2px,#f0ceae 566.2px 566.7px,#edc19f 566.7px 567.2px,#eec2a1 567.2px 567.7px,#e9af8e 567.7px 568.2px,#f0cfae 568.2px 569.2px,#e9af8e 569.2px 570.2px,#eec3a2 570.2px 571.7px,#efcbaa 571.7px 572.7px,#eab492 572.7px 573.2px,#f0cbaa 573.2px 573.7px,#ebb694 573.7px 574.2px,#eec2a1 574.2px 574.7px,#f0cdac 574.7px 575.2px,#edc09e 575.2px 575.3px,#fff 575.3px 686.5px,#dd9274 686.5px 688.5px,#df9376 688.5px 690.5px,#e19577 690.5px 692.5px,#e29778 692.5px 694.5px,#e39b7c 694.5px 696.5px,#e49f7f 696.5px 698.5px,#e5a282 698.5px 700.5px,#e6a686 700.5px 702.5px,#e7aa89 702.5px 704.5px,#e9ad8c 704.5px 706.5px,#e9b08f 706.5px 708.5px,#eab190 708.5px 710.5px,#eab290 710.5px 712.5px,#eab391 712.5px 714.5px,#eab492 714.5px 716.5px,#ebb593 716.5px 718.5px,#ebb694 718.5px 720.5px,#ebb795 720.5px 722.5px,#ebb896 722.5px 724.5px,#ecba98 724.5px 726.5px,#ecbb99 726.5px 728.5px,#ecbc9b 728.5px 730.5px,#edbe9c 730.5px 732.5px,#edbf9d 732.5px 734.5px,#edc09f 734.5px 736.5px,#eec2a0 736.5px 738.5px,#eec3a2 738.5px 740.5px,#eec4a3 740.5px 742.5px,#eec6a4 742.5px 744.5px,#efc7a6 744.5px 746.5px,#efc9a7 746.5px 748.5px,#efcaa9 748.5px 750.5px,#f0cbaa 750.5px 752.5px,#f0ccab 752.5px 754.1px,#fff 754.1px)"></div>
<div class="hc" style="left:1263.4px;top:1079.8px;width:35.6px;height:754.2px;background:linear-gradient(#915350 0px 2px,#915450 2px 4px,#925450 4px 6px,#935551 6px 10px,#945651 10px 14px,#955752 14px 16px,#965752 16px 18px,#965852 18px 20px,#975853 20px 22px,#975953 22px 24px,#985953 24px 26px,#995a53 26px 28px,#995a54 28px 30px,#9a5b54 30px 34px,#9b5c55 34px 36px,#9c5c55 36px 38px,#9c5d55 38px 40px,#9d5d56 40px 42px,#9e5e56 42px 46px,#9f5f57 46px 48px,#a06057 48px 50px,#a26158 50px 52px,#a36258 52px 54px,#a46259 54px 56px,#a56359 56px 58px,#a66459 58px 60px,#a7655a 60px 62px,#a8665a 62px 64px,#a9675b 64px 66px,#aa675b 66px 68px,#ab685c 68px 70px,#ac695c 70px 72px,#ad6a5d 72px 74px,#ae6b5d 74px 76px,#b06c5e 76px 78px,#b16d5e 78px 80px,#b26d5f 80px 82px,#b36e5f 82px 84px,#b46f60 84px 86px,#b57060 86px 88px,#b67161 88px 90px,#b87262 90px 92px,#b97262 92px 94px,#ba7363 94px 96px,#bb7463 96px 98px,#bc7564 98px 100px,#bd7664 100px 102px,#be7765 102px 104px,#c07765 104px 106px,#c17866 106px 108px,#c27966 108px 110px,#c37a67 110px 112px,#c47b67 112px 114px,#c57b68 114px 116px,#c57c68 116px 118px,#c67c68 118px 120px,#c77d68 120px 122px,#c87e69 122px 124px,#c97e69 124px 126px,#c97f69 126px 128px,#ca7f6a 128px 130px,#cb806a 130px 132px,#cc816a 132px 136px,#cd826b 136px 138px,#ce826b 138px 140px,#cf836b 140px 142px,#d0846b 142px 144px,#d0846c 144px 146px,#d1856c 146px 148px,#d2866c 148px 150px,#d3866d 150px 152px,#d4876d 152px 156px,#d5886e 156px 158px,#d6896e 158px 160px,#d68a6f 160px 162px,#d78a6f 162px 164px,#d88b70 164px 166px,#d88c70 166px 168px,#d98c71 168px 170px,#d98d71 170px 172px,#da8d71 172px 174px,#da8e72 174px 176px,#db8e72 176px 178px,#db8f72 178px 180px,#db9073 180px 182px,#dc9073 182px 184px,#dc9174 184px 186px,#dd9174 186px 188px,#dd9274 188px 190px,#de9275 190px 192px,#de9375 192px 194px,#df9375 194px 196px,#df9476 196px 198px,#e09476 198px 200px,#e09576 200px 202px,#e09577 202px 204px,#e19677 204px 208px,#e29778 208px 210px,#e29879 210px 212px,#e29979 212px 214px,#e39a7a 214px 216px,#e39b7b 216px 218px,#e39c7c 218px 220px,#e49d7d 220px 222px,#e49e7e 222px 224px,#e49e7f 224px 226px,#e49f80 226px 228px,#e5a080 228px 230px,#e5a181 230px 232px,#e5a282 232px 234px,#e5a383 234px 236px,#e6a484 236px 238px,#e6a584 238px 240px,#e6a685 240px 242px,#e6a686 242px 244px,#e7a787 244px 246px,#e7a888 246px 248px,#e7a988 248px 250px,#e8aa89 250px 252px,#e8ab8a 252px 254px,#e8ac8b 254px 256px,#e8ad8c 256px 258px,#e9ae8c 258px 260px,#e9af8d 260px 262px,#e9af8e 262px 264px,#e9b08f 264px 266px,#eab190 266px 268px,#eab290 268px 270px,#eab391 270px 272px,#eab492 272px 274px,#ebb593 274px 276px,#ebb694 276px 278px,#ebb795 278px 280px,#ebb896 280px 282px,#ecb897 282px 284px,#ecb998 284px 286px,#ecba99 286px 288px,#ecbb9a 288px 290px,#ecbc9b 290px 292px,#edbd9c 292px 294px,#edbe9d 294px 296px,#edbf9e 296px 298px,#edc09f 298px 300px,#edc1a0 300px 302px,#eec2a1 302px 304px,#eec3a2 304px 306px,#eec4a3 306px 308px,#eec5a4 308px 310px,#eec6a5 310px 312px,#efc7a6 312px 314px,#efc8a7 314px 316px,#efc9a8 316px 318px,#efcaa9 318px 320px,#efcbaa 320px 322px,#f0ccab 322px 324px,#f0cdac 324px 330px,#f0cdad 330px 332px,#f0cead 332px 338px,#f0ceae 338px 342px,#f0cfae 342px 344px,#f0cfaf 344px 352px,#f0d0b0 352px 360px,#f1d0b1 360px 362px,#f1d1b1 362px 366px,#f1d1b2 366px 370.4px,#d78b70 370.4px 371.4px,#d98d71 371.4px 372.4px,#da8e72 372.4px 373.4px,#dc9073 373.4px 374.4px,#dd9174 374.4px 375.4px,#de9375 375.4px 376.4px,#e09476 376.4px 377.4px,#e19677 377.4px 378.4px,#e29878 378.4px 379.4px,#e39b7b 379.4px 380.4px,#e49d7e 380.4px 381.4px,#e5a081 381.4px 382.4px,#e6a383 382.4px 383.4px,#e6a686 383.4px 384.4px,#e7a887 384.4px 385.4px,#e7a988 385.4px 386.4px,#e8ab8a 386.4px 387.4px,#e8ac8b 387.4px 388.4px,#e8ad8c 388.4px 389.4px,#e9af8d 389.4px 390.4px,#e9b08f 390.4px 391.4px,#eab190 391.4px 392.4px,#eab391 392.4px 393.4px,#eab492 393.4px 394.4px,#ebb694 394.4px 395.4px,#ebb796 395.4px 396.4px,#ecb998 396.4px 397.4px,#ecbc9a 397.4px 398.4px,#edbe9c 398.4px 399.4px,#edc09e 399.4px 400.4px,#eec2a0 400.4px 401.4px,#eec4a2 401.4px 402.4px,#eec6a4 402.4px 403.4px,#efc8a6 403.4px 404.2px,#fff 404.2px)"></div>
<div class="hc" style="left:1299px;top:1079.8px;width:34.7px;height:754.2px;background:linear-gradient(#df9476 0px 1.5px,#d5886e 1.5px 3px,#da8d71 3px 4.5px,#c87e69 4.5px 6px,#c77d68 6px 7.5px,#d1856c 7.5px 10.5px,#cd826b 10.5px 12px,#da8e72 12px 15px,#d78a6f 15px 16.5px,#c57c68 16.5px 19.5px,#da8e72 19.5px 21px,#e7aa89 21px 24px,#e09577 24px 25.5px,#d98c71 25.5px 28.5px,#e7a887 28.5px 31.5px,#db8f72 31.5px 33px,#d0846c 33px 36px,#e49f7f 36px 37.5px,#dd9274 37.5px 39px,#e39c7c 39px 40.5px,#c07866 40.5px 43.5px,#e6a686 43.5px 45px,#d1846c 45px 46.5px,#d2856c 46.5px 48px,#e6a585 48px 49.5px,#db8f72 49.5px 51px,#cb806a 51px 52.5px,#d6896e 52.5px 54px,#de9375 54px 55.5px,#d88b70 55.5px 58.5px,#e8ad8c 58.5px 60px,#dc9073 60px 63px,#d78b70 63px 64.5px,#d88b70 64.5px 67.5px,#ebb493 67.5px 69px,#d6896f 69px 70.5px,#d0846c 70.5px 73.5px,#d4876d 73.5px 76.5px,#c87e69 76.5px 79.5px,#da8d71 79.5px 81px,#c37a67 81px 82.5px,#e19677 82.5px 85.5px,#da8e72 85.5px 87px,#e09476 87px 88.5px,#ecbb99 88.5px 90px,#e8ab8a 90px 93px,#d88c70 93px 94.5px,#d6896f 94.5px 96px,#bb7463 96px 97.5px,#bd7664 97.5px 99px,#e7a786 99px 102px,#d2866c 102px 103.5px,#e6a484 103.5px 106.5px,#df9476 106.5px 108px,#eab290 108px 109.5px,#e7aa89 109.5px 112.5px,#db8f72 112.5px 114px,#ebb896 114px 115.5px,#dc9174 115.5px 117px,#d2856c 117px 118.5px,#d98d71 118.5px 120px,#edbf9e 120px 121.5px,#e8ab8a 121.5px 124.5px,#e09577 124.5px 126px,#c07765 126px 127.5px,#de9275 127.5px 129px,#ecb997 129px 132px,#e49e7f 132px 133.5px,#d98d71 133.5px 136.5px,#de9375 136.5px 138px,#df9375 138px 139.5px,#bf7765 139.5px 141px,#e49f7f 141px 144px,#e9af8e 144px 145.5px,#c27966 145.5px 147px,#d88c71 147px 148.5px,#d78b6f 148.5px 150px,#e39b7c 150px 151.5px,#d4876d 151.5px 153px,#e9b08f 153px 154.5px,#dd9174 154.5px 156px,#d0846c 156px 157.5px,#e29778 157.5px 159px,#c07866 159px 160.5px,#edc09f 160.5px 162px,#e39a7b 162px 163.5px,#ebb593 163.5px 165px,#d6896e 165px 166.5px,#e49d7e 166.5px 168px,#e49f7f 168px 169.5px,#d4876d 169.5px 172.5px,#eab290 172.5px 175.5px,#d2866c 175.5px 178.5px,#da8e72 178.5px 181.5px,#ecbb99 181.5px 183px,#d1846c 183px 184.5px,#ecba98 184.5px 186px,#d1846c 186px 187.5px,#c37a67 187.5px 189px,#e29879 189px 190.5px,#e09577 190.5px 192px,#d88c70 192px 193.5px,#dd9174 193.5px 195px,#eec2a0 195px 198px,#ecb896 198px 199.5px,#e5a080 199.5px 201px,#e39b7b 201px 204px,#e5a382 204px 205.5px,#dd9174 205.5px 207px,#dd9274 207px 208.5px,#c57b68 208.5px 210px,#d5896e 210px 211.5px,#edbd9c 211.5px 213px,#eec5a4 213px 214.5px,#e6a484 214.5px 216px,#e9ae8d 216px 217.5px,#de9275 217.5px 219px,#e6a585 219px 220.5px,#e9af8d 220.5px 223.5px,#efcaa8 223.5px 225px,#e7a786 225px 226.5px,#cd826b 226.5px 228px,#e8aa89 228px 229.5px,#e39c7d 229.5px 231px,#edbe9d 231px 234px,#e39b7c 234px 235.5px,#e7a888 235.5px 237px,#d6896e 237px 238.5px,#e39b7c 238.5px 240px,#d3866d 240px 241.5px,#de9375 241.5px 243px,#e09576 243px 244.5px,#e9b08f 244.5px 246px,#d88c71 246px 247.5px,#e39c7c 247.5px 249px,#d98d71 249px 252px,#e6a483 252px 253.5px,#f1d6b9 253.5px 256.5px,#df9376 256.5px 258px,#e09476 258px 259.5px,#e6a686 259.5px 262.5px,#e39a7b 262.5px 264px,#dd9274 264px 265.5px,#e5a181 265.5px 267px,#e9af8e 267px 268.5px,#e8ad8c 268.5px 270px,#eab391 270px 271.5px,#e8ac8b 271.5px 273px,#e5a282 273px 274.5px,#dc9174 274.5px 276px,#e39c7c 276px 277.5px,#e6a584 277.5px 279px,#d88b70 279px 280.5px,#e6a685 280.5px 283.5px,#ecbb99 283.5px 286.5px,#df9476 286.5px 288px,#d0846b 288px 289.5px,#e5a383 289.5px 291px,#e39b7c 291px 294px,#f1d4b6 294px 297px,#e19678 297px 298.5px,#e9b08e 298.5px 300px,#cf836b 300px 301.5px,#d1846c 301.5px 303px,#edbe9d 303px 306px,#e8ad8c 306px 307.5px,#d0846c 307.5px 309px,#eec5a3 309px 310.5px,#e19677 310.5px 313.5px,#e8aa89 313.5px 315px,#e5a383 315px 316.5px,#e39c7c 316.5px 318px,#e8ac8b 318px 319.5px,#e7a988 319.5px 321px,#e7a786 321px 322.5px,#d88b70 322.5px 324px,#e6a685 324px 327px,#ecb896 327px 328.5px,#e49d7e 328.5px 330px,#df9476 330px 333px,#e39a7b 333px 336px,#f1d6b8 336px 337.5px,#eec5a4 337.5px 340.5px,#dd9274 340.5px 342px,#e39b7c 342px 345px,#e6a686 345px 348px,#eab492 348px 351px,#df9476 351px 352.5px,#f1d7b9 352.5px 354px,#e5a383 354px 355.5px,#e5a282 355.5px 357px,#e5a383 357px 358.5px,#eec5a4 358.5px 360px,#ecbc9b 360px 361.5px,#db8f73 361.5px 363px,#eab391 363px 364.5px,#e5a080 364.5px 366px,#d88c70 366px 367.5px,#f0ccab 367.5px 369px,#f1d7b9 369px 370.4px,#fff 370.4px 404.2px,#c97e69 404.2px 405.2px,#cb806a 405.2px 407.2px,#cf836b 407.2px 408.2px,#ce826b 408.2px 409.2px,#d0846c 409.2px 411.2px,#ce836b 411.2px 412.2px,#d0846b 412.2px 413.2px,#d2856c 413.2px 414.2px,#d4876d 414.2px 415.2px,#d5886e 415.2px 416.2px,#d6896f 416.2px 417.2px,#d78a6f 417.2px 420.2px,#d88b70 420.2px 424.2px,#db8f72 424.2px 426.2px,#da8d71 426.2px 427.2px,#dc9073 427.2px 428.2px,#dd9174 428.2px 430.2px,#df9476 430.2px 431.2px,#df9376 431.2px 432.2px,#de9275 432.2px 433.2px,#df9476 433.2px 435.2px,#e09576 435.2px 436.2px,#e19577 436.2px 437.2px,#e3997a 437.2px 439.2px,#e19677 439.2px 440.2px,#e29778 440.2px 441.2px,#e3997a 441.2px 442.2px,#e19678 442.2px 443.2px,#e39c7d 443.2px 444.2px,#e49d7d 444.2px 445.2px,#e39b7b 445.2px 446.2px,#e49d7e 446.2px 447.2px,#e5a181 447.2px 448.2px,#e49d7e 448.2px 449.2px,#e49e7e 449.2px 450.2px,#e5a383 450.2px 451.2px,#e5a080 451.2px 452.2px,#e49f7f 452.2px 453.2px,#e6a585 453.2px 454.2px,#e5a181 454.2px 457.2px,#e6a585 457.2px 458.2px,#e6a686 458.2px 460.2px,#e49d7d 460.2px 461.2px,#e5a383 461.2px 463.2px,#e7a786 463.2px 466.2px,#e5a282 466.2px 467.2px,#e6a685 467.2px 468.2px,#e5a181 468.2px 469.2px,#e5a282 469.2px 470.2px,#e7a887 470.2px 471.2px,#e8ab8a 471.2px 472.2px,#e7aa89 472.2px 473.2px,#e5a383 473.2px 474.2px,#e7a887 474.2px 476.2px,#e6a686 476.2px 478.2px,#e7a888 478.2px 479.2px,#e8ad8c 479.2px 480.2px,#e8ac8b 480.2px 481.2px,#e9af8d 481.2px 482.2px,#e8ad8c 482.2px 483.2px,#e8ab8a 483.2px 484.2px,#e9af8d 484.2px 485.2px,#e9ae8d 485.2px 486.2px,#e8ac8b 486.2px 487.2px,#e7a887 487.2px 488.2px,#e7a988 488.2px 489.2px,#e8ac8b 489.2px 491.2px,#e7aa89 491.2px 492.2px,#e9ae8d 492.2px 494.2px,#e9ad8c 494.2px 495.2px,#e9ae8d 495.2px 496.2px,#eab190 496.2px 497.2px,#e9b08f 497.2px 498.2px,#e9b08e 498.2px 499.2px,#eab290 499.2px 501.2px,#e9b08e 501.2px 503.2px,#eab290 503.2px 504.2px,#eab391 504.2px 505.2px,#eab18f 505.2px 506.2px,#ebb795 506.2px 508.2px,#eab290 508.2px 509.2px,#eab492 509.2px 510.2px,#ebb492 510.2px 512.2px,#e9b18f 512.2px 513.2px,#eab392 513.2px 514.2px,#ebb694 514.2px 515.2px,#eab391 515.2px 516.2px,#ebb694 516.2px 517.2px,#ebb493 517.2px 518.2px,#eab391 518.2px 520.2px,#ecb997 520.2px 522.2px,#ebb593 522.2px 523.2px,#ebb694 523.2px 524.2px,#e9af8e 524.2px 526.2px,#ecbc9b 526.2px 528.2px,#ebb694 528.2px 529.2px,#ecbb99 529.2px 530.2px,#ebb694 530.2px 531.2px,#ebb795 531.2px 532.2px,#eab391 532.2px 533.2px,#ebb896 533.2px 534.2px,#ebb694 534.2px 535.2px,#ebb795 535.2px 536.2px,#ebb694 536.2px 537.2px,#eab391 537.2px 538.2px,#ebb694 538.2px 539.2px,#ecbd9b 539.2px 540.2px,#ecbc9b 540.2px 541.2px,#ecb897 541.2px 543.2px,#e9b08f 543.2px 544.2px,#ebb896 544.2px 546.2px,#edbd9b 546.2px 547.2px,#ecbc9a 547.2px 548.2px,#ebb896 548.2px 549.2px,#ebb694 549.2px 552.2px,#ecb998 552.2px 553.2px,#eab290 553.2px 554.2px,#ecba98 554.2px 556.2px,#ebb493 556.2px 557.2px,#eab492 557.2px 559.2px,#ecbb9a 559.2px 561.2px,#ecba98 561.2px 562.2px,#ebb593 562.2px 563.2px,#ecba98 563.2px 565.2px,#ebb795 565.2px 567.2px,#edbd9b 567.2px 568.2px,#edbf9d 568.2px 569.2px,#ecbb99 569.2px 570.2px,#edbf9d 570.2px 571.2px,#ecb998 571.2px 573.2px,#edbd9c 573.2px 575.2px,#edbe9c 575.2px 576.2px,#edbf9e 576.2px 578.2px,#edc09f 578.2px 579.2px,#edbe9d 579.2px 580.2px,#ecb997 580.2px 581.2px,#ecbc9a 581.2px 582.2px,#eec2a0 582.2px 583.2px,#edbe9c 583.2px 584.2px,#eec6a4 584.2px 585.2px,#eec5a4 585.2px 587.2px,#edbf9e 587.2px 588.2px,#eec2a0 588.2px 589.2px,#edbf9d 589.2px 590.2px,#eec2a1 590.2px 591.2px,#eec2a0 591.2px 592.2px,#edbe9c 592.2px 593.2px,#ebb795 593.2px 594.2px,#efc7a6 594.2px 595.2px,#ecba99 595.2px 596.2px,#edc19f 596.2px 597.2px,#efc6a5 597.2px 598.2px,#eec3a1 598.2px 599.2px,#efc9a8 599.2px 601.2px,#edc1a0 601.2px 602.2px,#ecba98 602.2px 603.2px,#eec5a4 603.2px 605.2px,#efc9a8 605.2px 606.2px,#eec6a5 606.2px 607.2px,#eec5a4 607.2px 609.2px,#eec6a5 609.2px 610.2px,#eec3a1 610.2px 611.2px,#f0ccaa 611.2px 612.2px,#eec4a3 612.2px 614.2px,#eec5a3 614.2px 616.2px,#edc09f 616.2px 617.2px,#eec2a1 617.2px 618.2px,#efcba9 618.2px 619.2px,#efc6a5 619.2px 620.2px,#edc19f 620.2px 622.2px,#eec5a4 622.2px 623.2px,#efc9a8 623.2px 624.2px,#efc7a6 624.2px 625.2px,#eec6a5 625.2px 626.2px,#f0cbaa 626.2px 628.2px,#eec4a3 628.2px 629.2px,#efcaa9 629.2px 630.2px,#f0cbaa 630.2px 631.2px,#efc8a7 631.2px 632.2px,#f0cdac 632.2px 633.2px,#f0cead 633.2px 634.2px,#eec2a0 634.2px 635.2px,#efcaa9 635.2px 636.2px,#efc7a6 636.2px 637.2px,#edbf9d 637.2px 638.2px,#eec4a3 638.2px 639.2px,#efc7a6 639.2px 641.2px,#efc8a7 641.2px 642.2px,#efc9a8 642.2px 644.2px,#efcaa9 644.2px 646.2px,#eec6a5 646.2px 647.2px,#eec4a3 647.2px 648.2px,#edbf9e 648.2px 649.2px,#f0cdac 649.2px 650.2px,#efc9a7 650.2px 651.2px,#f0cfaf 651.2px 652.2px,#edbf9d 652.2px 654.2px,#eec5a4 654.2px 655.2px,#efc8a6 655.2px 656.2px,#efc7a6 656.2px 659.2px,#f0ccaa 659.2px 660.2px,#edc19f 660.2px 661.2px,#f0cbaa 661.2px 662.2px,#f0cfaf 662.2px 663.2px,#efc9a8 663.2px 664.2px,#efc7a5 664.2px 665.2px,#efc8a7 665.2px 666.2px,#efcaa9 666.2px 668.2px,#efc8a7 668.2px 672.2px,#efc9a8 672.2px 674.2px,#efc9a7 674.2px 675.2px,#f1d1b1 675.2px 676.2px,#efcaa8 676.2px 677.2px,#f1d1b2 677.2px 678.2px,#f0cbaa 678.2px 679.2px,#f0cfaf 679.2px 681.2px,#f0d0b0 681.2px 682.2px,#eec2a0 682.2px 683.2px,#f0d0b0 683.2px 684.2px,#f0cbaa 684.2px 685.2px,#efc8a7 685.2px 686.2px,#efc9a8 686.2px 688.2px,#f0ccab 688.2px 689.2px,#f0d0b0 689.2px 691.2px,#efc8a7 691.2px 692.2px,#f0cdac 692.2px 693.2px,#efcba9 693.2px 694.2px,#f0cbaa 694.2px 695.2px,#f0d0b0 695.2px 696.2px,#efc8a6 696.2px 698.2px,#f1d2b3 698.2px 700.2px,#f0ccab 700.2px 701.2px,#f0d0b0 701.2px 702.2px,#eec4a2 702.2px 703.2px,#f0ccab 703.2px 704.2px,#f0cdac 704.2px 705.2px,#f0ceae 705.2px 707.2px,#f0cead 707.2px 708.2px,#efcaa9 708.2px 709.2px,#f1d1b2 709.2px 711.2px,#efc9a7 711.2px 712.2px,#f0cead 712.2px 713.2px,#efc7a6 713.2px 714.2px,#f1d2b3 714.2px 715.2px,#f0cfaf 715.2px 717.2px,#eec5a3 717.2px 718.2px,#f0d0b0 718.2px 721.2px,#f0cdad 721.2px 722.2px,#f0cfaf 722.2px 723.2px,#f0ccab 723.2px 724.2px,#f1d6b9 724.2px 725.2px,#f1d2b3 725.2px 726.2px,#f0ccab 726.2px 727.2px,#f0cdac 727.2px 728.2px,#f0cfaf 728.2px 729.2px,#efc9a8 729.2px 731.2px,#eec6a4 731.2px 732.2px,#f1d5b7 732.2px 733.2px,#efc6a5 733.2px 734.2px,#f0cfaf 734.2px 735.2px,#f0cdad 735.2px 736.2px,#f0cfaf 736.2px 738.2px,#f0ceae 738.2px 739.2px,#f0d0b0 739.2px 740.2px,#f0cfaf 740.2px 741.2px,#f1d1b1 741.2px 742.2px,#f1d2b3 742.2px 743.2px,#f0cfaf 743.2px 744.2px,#f1d3b5 744.2px 745.2px,#f0cfaf 745.2px 746.2px,#f0cdac 746.2px 748.2px,#f0ceae 748.2px 750.2px,#f1d2b2 750.2px 751.2px,#f0ccab 751.2px 752.2px,#f1d7b9 752.2px 753.2px,#f1d2b3 753.2px 754.2px,#fff 754.2px)"></div>
<div class="hc" style="left:1522.8px;top:1079.8px;width:35.4px;height:754.2px;background:linear-gradient(#783d43 0px 2px,#793e43 2px 4px,#793f44 4px 6px,#7a3f44 6px 8px,#7b4045 8px 10px,#7c4145 10px 12px,#7c4146 12px 14px,#7d4246 14px 16px,#804548 16px 18px,#834849 18px 20px,#864a4b 20px 22px,#8a4d4c 22px 24px,#8d504e 24px 26px,#905350 26px 28px,#945551 28px 30px,#965752 30px 32px,#975853 32px 34px,#985953 34px 38px,#995a54 38px 40px,#9a5b54 40px 42px,#9b5c55 42px 44px,#9c5c55 44px 46px,#9d5d55 46px 48px,#9e5e56 48px 52px,#9f5f57 52px 54px,#a06057 54px 56px,#a16057 56px 58px,#a26158 58px 60px,#a36258 60px 62px,#a46259 62px 64px,#a56359 64px 66px,#a66459 66px 68px,#a6655a 68px 70px,#a7655a 70px 72px,#a8665b 72px 74px,#a9675b 74px 76px,#aa675b 76px 78px,#ab685c 78px 80px,#ac695c 80px 82px,#ad695d 82px 84px,#ae6a5d 84px 86px,#af6b5d 86px 88px,#af6c5e 88px 90px,#b06c5e 90px 92px,#b16d5f 92px 94px,#b26d5f 94px 96px,#b36e5f 96px 98px,#b46f60 98px 100px,#b56f60 100px 102px,#b57061 102px 104px,#b67161 104px 106px,#b77161 106px 108px,#b87262 108px 110px,#b97262 110px 112px,#ba7363 112px 114px,#ba7463 114px 116px,#bb7463 116px 118px,#bc7564 118px 120px,#bd7664 120px 122px,#be7665 122px 124px,#bf7765 124px 128px,#c07866 128px 130px,#c17966 130px 132px,#c27967 132px 134px,#c37a67 134px 136px,#c47b67 136px 138px,#c57c68 138px 140px,#c67c68 140px 142px,#c77d69 142px 144px,#c87e69 144px 146px,#ca7f69 146px 148px,#cb806a 148px 150px,#cc816a 150px 152px,#cd826a 152px 154px,#ce826b 154px 156px,#cf836b 156px 158px,#d0846c 158px 160px,#d1856c 160px 162px,#d3866c 162px 164px,#d4876d 164px 166px,#d5886e 166px 168px,#d6896e 168px 170px,#d78a6f 170px 172px,#d78b70 172px 174px,#d88c70 174px 176px,#d98d71 176px 178px,#da8e72 178px 180px,#db8f73 180px 182px,#dc9073 182px 184px,#dd9174 184px 186px,#de9275 186px 188px,#df9376 188px 190px,#e09576 190px 192px,#e19677 192px 194px,#e29778 194px 196px,#e29879 196px 198px,#e39a7b 198px 200px,#e49d7d 200px 202px,#e49f7f 202px 204px,#e5a181 204px 206px,#e5a383 206px 208px,#e6a584 208px 210px,#e7a786 210px 212px,#e7a988 212px 214px,#e8ab8a 214px 216px,#e8ad8c 216px 218px,#e9af8e 218px 220px,#eab190 220px 222px,#eab391 222px 224px,#ebb593 224px 226px,#ebb795 226px 228px,#ebb896 228px 230px,#ecb997 230px 232px,#ecba99 232px 234px,#ecbc9a 234px 236px,#ecbd9b 236px 238px,#edbe9c 238px 240px,#edbf9e 240px 242px,#edc19f 242px 244px,#eec2a0 244px 246px,#eec3a2 246px 248px,#eec4a3 248px 250px,#eec5a4 250px 252px,#efc7a5 252px 254px,#efc8a7 254px 256px,#efc9a7 256px 258px,#efc9a8 258px 262px,#efcaa9 262px 266px,#efcbaa 266px 268px,#f0cbaa 268px 272px,#f0ccab 272px 276px,#f0cdac 276px 280px,#f0cdad 280px 282px,#f0cead 282px 284px,#f0ceae 284px 286px,#f0cfae 286px 288px,#f0cfaf 288px 292px,#f0d0b0 292px 296px,#f1d1b1 296px 300px,#f1d1b2 300px 301px,#c57b68 301px 302px,#c87e69 302px 303px,#cc816a 303px 304px,#d0846b 304px 305px,#d3866d 305px 306px,#d68a6f 306px 307px,#d98d71 307px 308px,#dc9174 308px 309px,#df9476 309px 310px,#e09577 310px 311px,#e29678 311px 312px,#e29879 312px 313px,#e39b7c 313px 314px,#e49d7e 314px 315px,#e5a080 315px 316px,#e5a282 316px 317px,#e6a585 317px 318px,#e7a887 318px 319px,#e8aa89 319px 320px,#e8ad8b 320px 321px,#e9af8e 321px 322px,#eab290 322px 323px,#eab492 323px 324px,#ebb795 324px 325px,#ecbb99 325px 326px,#edbe9d 326px 327px,#eec2a1 327px 328px,#eec6a4 328px 329px,#efc8a7 329px 329.2px,#fff 329.2px)"></div>
<div class="hc" style="left:1558.2px;top:1079.8px;width:35.5px;height:754.2px;background:linear-gradient(#90534f 0px 3px,#8e514f 3px 4.5px,#9a5b54 4.5px 6px,#985953 6px 7.5px,#bb7463 7.5px 9px,#a36258 9px 10.5px,#a6645a 10.5px 13.5px,#a7655a 13.5px 15px,#9c5d55 15px 18px,#a36258 18px 19.5px,#c07866 19.5px 21px,#ba7363 21px 22.5px,#a56359 22.5px 24px,#bf7765 24px 27px,#9e5e56 27px 28.5px,#a6645a 28.5px 30px,#a16057 30px 31.5px,#b97362 31.5px 33px,#a05f57 33px 36px,#af6b5d 36px 37.5px,#925450 37.5px 40.5px,#c07765 40.5px 42px,#b67161 42px 43.5px,#b06c5e 43.5px 45px,#b36e60 45px 46.5px,#bf7765 46.5px 49.5px,#ac695c 49.5px 51px,#af6b5e 51px 52.5px,#b46f60 52.5px 57px,#ab685c 57px 58.5px,#b26e5f 58.5px 61.5px,#bc7564 61.5px 64.5px,#ae6a5d 64.5px 66px,#a8665b 66px 67.5px,#ca7f6a 67.5px 69px,#a7655a 69px 72px,#b87262 72px 73.5px,#d0846c 73.5px 75px,#ae6a5d 75px 76.5px,#ae6b5d 76.5px 79.5px,#b56f60 79.5px 82.5px,#ac695c 82.5px 84px,#a46359 84px 85.5px,#a56459 85.5px 87px,#cb806a 87px 88.5px,#c47a67 88.5px 90px,#b46f60 90px 91.5px,#c37a67 91.5px 93px,#cd826b 93px 94.5px,#be7665 94.5px 97.5px,#ae6b5d 97.5px 99px,#bf7765 99px 100.5px,#b87262 100.5px 102px,#c57c68 102px 103.5px,#bf7765 103.5px 105px,#c77d68 105px 106.5px,#c47b67 106.5px 108px,#ba7363 108px 109.5px,#bc7564 109.5px 111px,#be7765 111px 112.5px,#c47b67 112.5px 114px,#ce836b 114px 115.5px,#d0846b 115.5px 117px,#d3866d 117px 118.5px,#bb7463 118.5px 120px,#cb806a 120px 123px,#b06c5e 123px 124.5px,#a56459 124.5px 126px,#c07865 126px 129px,#c37a67 129px 130.5px,#c97f69 130.5px 133.5px,#c47b67 133.5px 136.5px,#ca7f6a 136.5px 138px,#d78b70 138px 139.5px,#b26d5f 139.5px 141px,#d78a6f 141px 142.5px,#c77d68 142.5px 144px,#cb806a 144px 145.5px,#bd7564 145.5px 148.5px,#ca806a 148.5px 151.5px,#ca7f69 151.5px 154.5px,#e39b7c 154.5px 156px,#cc816a 156px 159px,#de9275 159px 160.5px,#bf7765 160.5px 162px,#b57060 162px 163.5px,#db8f73 163.5px 165px,#c57c68 165px 166.5px,#da8e72 166.5px 169.5px,#d88c70 169.5px 171px,#e39b7b 171px 172.5px,#cd816a 172.5px 174px,#d78b70 174px 177px,#d78a6f 177px 178.5px,#c27a67 178.5px 180px,#c57b68 180px 181.5px,#da8e72 181.5px 183px,#e49d7e 183px 186px,#e39a7a 186px 187.5px,#cb806a 187.5px 189px,#e09576 189px 192px,#d88c70 192px 193.5px,#c87e69 193.5px 195px,#e7a888 195px 196.5px,#df9476 196.5px 199.5px,#dd9174 199.5px 201px,#db8f73 201px 202.5px,#d0846c 202.5px 204px,#de9275 204px 207px,#d2856c 207px 208.5px,#e5a080 208.5px 210px,#df9375 210px 211.5px,#e8ac8b 211.5px 213px,#e7a888 213px 214.5px,#e3997a 214.5px 216px,#e49f7f 216px 217.5px,#e09577 217.5px 219px,#e7a887 219px 220.5px,#de9375 220.5px 223.5px,#df9476 223.5px 226.5px,#dc9074 226.5px 228px,#dc9073 228px 229.5px,#f1d1b1 229.5px 231px,#de9375 231px 232.5px,#cd826b 232.5px 235.5px,#e6a383 235.5px 237px,#e39a7a 237px 238.5px,#e7a786 238.5px 240px,#d88b70 240px 241.5px,#d5886e 241.5px 243px,#d98d71 243px 244.5px,#e8ad8c 244.5px 246px,#efc8a7 246px 247.5px,#d0846b 247.5px 249px,#db9073 249px 250.5px,#f1d1b1 250.5px 252px,#ebb694 252px 253.5px,#e7a988 253.5px 255px,#e3997a 255px 256.5px,#e6a383 256.5px 258px,#f1d7b9 258px 261px,#edc19f 261px 262.5px,#e5a080 262.5px 264px,#e6a584 264px 265.5px,#e39c7c 265.5px 267px,#ecb997 267px 270px,#e39b7c 270px 271.5px,#ebb796 271.5px 274.5px,#e8ad8c 274.5px 276px,#edc1a0 276px 279px,#e7a888 279px 280.5px,#e9b08e 280.5px 282px,#e5a282 282px 285px,#da8e72 285px 286.5px,#f1d2b3 286.5px 288px,#e8ac8b 288px 289.5px,#e5a281 289.5px 291px,#eec3a1 291px 292.5px,#ebb896 292.5px 294px,#e49f7f 294px 295.5px,#da8e72 295.5px 297px,#e39b7b 297px 298.5px,#f1d7b9 298.5px 300px,#ebb694 300px 301px,#fff 301px 329.2px,#9f5f57 329.2px 330.2px,#a16157 330.2px 331.2px,#a36258 331.2px 332.2px,#a46359 332.2px 334.2px,#a66459 334.2px 336.2px,#a8665a 336.2px 337.2px,#a7655a 337.2px 338.2px,#ab685c 338.2px 339.2px,#ad6a5d 339.2px 340.2px,#ae6b5d 340.2px 341.2px,#b06c5e 341.2px 342.2px,#b16d5f 342.2px 343.2px,#b36e60 343.2px 344.2px,#b46f60 344.2px 345.2px,#b56f60 345.2px 346.2px,#bb7463 346.2px 347.2px,#bc7564 347.2px 348.2px,#c07866 348.2px 349.2px,#c27966 349.2px 351.2px,#c57b68 351.2px 352.2px,#c77d69 352.2px 353.2px,#cc816a 353.2px 354.2px,#c87e69 354.2px 355.2px,#cd816a 355.2px 356.2px,#d0846c 356.2px 358.2px,#d2856c 358.2px 360.2px,#d4876d 360.2px 361.2px,#d68a6f 361.2px 363.2px,#d78b70 363.2px 365.2px,#d6896e 365.2px 366.2px,#db8f72 366.2px 368.2px,#de9375 368.2px 369.2px,#de9275 369.2px 370.2px,#dc9174 370.2px 372.2px,#e19677 372.2px 373.2px,#df9476 373.2px 375.2px,#e19577 375.2px 376.2px,#e19677 376.2px 377.2px,#de9275 377.2px 378.2px,#e29778 378.2px 379.2px,#e29879 379.2px 380.2px,#e19677 380.2px 382.2px,#e29778 382.2px 384.2px,#e29879 384.2px 385.2px,#e39b7b 385.2px 386.2px,#e39a7b 386.2px 387.2px,#e39a7a 387.2px 388.2px,#e49c7d 388.2px 389.2px,#e29678 389.2px 390.2px,#e49e7e 390.2px 391.2px,#e39b7c 391.2px 392.2px,#e3997a 392.2px 393.2px,#e49d7e 393.2px 394.2px,#e6a383 394.2px 395.2px,#e5a181 395.2px 396.2px,#e49f7f 396.2px 397.2px,#e49e7e 397.2px 399.2px,#e6a685 399.2px 400.2px,#e49d7d 400.2px 401.2px,#e6a383 401.2px 402.2px,#e6a484 402.2px 404.2px,#e5a383 404.2px 405.2px,#e6a584 405.2px 406.2px,#e5a382 406.2px 407.2px,#e6a585 407.2px 410.2px,#e7a787 410.2px 411.2px,#e7a888 411.2px 412.2px,#e7a988 412.2px 413.2px,#e8ac8b 413.2px 414.2px,#e7a988 414.2px 415.2px,#e7a888 415.2px 417.2px,#e8ab8a 417.2px 420.2px,#e8ac8b 420.2px 422.2px,#e8ab8a 422.2px 424.2px,#e9af8e 424.2px 425.2px,#e7a989 425.2px 426.2px,#e8ac8b 426.2px 427.2px,#e8ab8a 427.2px 428.2px,#e7a988 428.2px 429.2px,#e9af8e 429.2px 430.2px,#e8ad8c 430.2px 431.2px,#e8ab8a 431.2px 433.2px,#eab290 433.2px 434.2px,#e8ad8c 434.2px 436.2px,#e9ae8d 436.2px 438.2px,#e9b08f 438.2px 439.2px,#e8ab8a 439.2px 440.2px,#eab190 440.2px 442.2px,#e8ac8b 442.2px 443.2px,#e8ad8c 443.2px 444.2px,#e9af8d 444.2px 445.2px,#e9af8e 445.2px 447.2px,#e9b08f 447.2px 448.2px,#e8ad8c 448.2px 449.2px,#eab18f 449.2px 450.2px,#eab391 450.2px 451.2px,#e9b08e 451.2px 452.2px,#eab290 452.2px 453.2px,#eab190 453.2px 455.2px,#e9b08e 455.2px 457.2px,#ebb593 457.2px 459.2px,#eab391 459.2px 462.2px,#e9ae8d 462.2px 463.2px,#e9af8d 463.2px 464.2px,#eab18f 464.2px 465.2px,#e9b18f 465.2px 466.2px,#e9af8e 466.2px 467.2px,#eab290 467.2px 468.2px,#ebb492 468.2px 469.2px,#eab391 469.2px 471.2px,#e8ad8c 471.2px 472.2px,#eab291 472.2px 473.2px,#ebb896 473.2px 474.2px,#eab391 474.2px 475.2px,#e9b08f 475.2px 476.2px,#e9ae8d 476.2px 477.2px,#ebb593 477.2px 478.2px,#ecba99 478.2px 479.2px,#ecbc9a 479.2px 481.2px,#ecbb9a 481.2px 482.2px,#ebb593 482.2px 484.2px,#ecba99 484.2px 485.2px,#eab392 485.2px 486.2px,#ebb694 486.2px 487.2px,#eab190 487.2px 488.2px,#eab492 488.2px 489.2px,#eab190 489.2px 490.2px,#ecbc9a 490.2px 491.2px,#ebb795 491.2px 493.2px,#ecbc9a 493.2px 494.2px,#ecba98 494.2px 495.2px,#edbe9c 495.2px 497.2px,#ebb694 497.2px 498.2px,#edbf9e 498.2px 500.2px,#edc09e 500.2px 501.2px,#ecb997 501.2px 502.2px,#edbd9c 502.2px 503.2px,#edc09e 503.2px 504.2px,#ecbd9b 504.2px 505.2px,#ecba99 505.2px 506.2px,#eec3a2 506.2px 507.2px,#ecbb99 507.2px 509.2px,#edc09e 509.2px 511.2px,#ecbb99 511.2px 512.2px,#ebb896 512.2px 513.2px,#edbe9d 513.2px 514.2px,#edbe9c 514.2px 515.2px,#ecbd9b 515.2px 517.2px,#eec5a4 517.2px 518.2px,#edc09e 518.2px 519.2px,#ecbd9b 519.2px 520.2px,#edbf9e 520.2px 521.2px,#edc1a0 521.2px 523.2px,#eec5a3 523.2px 524.2px,#efc7a6 524.2px 525.2px,#edbe9d 525.2px 527.2px,#eec3a2 527.2px 528.2px,#eec6a5 528.2px 529.2px,#efc8a6 529.2px 530.2px,#edc09e 530.2px 531.2px,#edbf9e 531.2px 532.2px,#edbf9d 532.2px 533.2px,#eec3a1 533.2px 535.2px,#edc19f 535.2px 536.2px,#edbf9d 536.2px 537.2px,#edc09e 537.2px 539.2px,#eec5a3 539.2px 540.2px,#efc6a5 540.2px 542.2px,#eec2a0 542.2px 543.2px,#ebb896 543.2px 544.2px,#efc6a5 544.2px 545.2px,#eec2a0 545.2px 546.2px,#eec2a1 546.2px 547.2px,#eec5a3 547.2px 548.2px,#eec2a0 548.2px 549.2px,#ebb896 549.2px 550.2px,#edc1a0 550.2px 551.2px,#edc19f 551.2px 552.2px,#efc6a5 552.2px 553.2px,#eec4a2 553.2px 555.2px,#edc09e 555.2px 556.2px,#eec2a1 556.2px 557.2px,#eec5a3 557.2px 558.2px,#edbf9e 558.2px 559.2px,#efc8a7 559.2px 560.2px,#eec5a4 560.2px 561.2px,#ecbc9a 561.2px 562.2px,#efc7a6 562.2px 563.2px,#edbf9e 563.2px 565.2px,#efc7a5 565.2px 566.2px,#edc09f 566.2px 567.2px,#eec3a1 567.2px 568.2px,#efc7a5 568.2px 569.2px,#edbe9d 569.2px 570.2px,#eec3a2 570.2px 572.2px,#edc09f 572.2px 573.2px,#eec5a3 573.2px 575.2px,#efc7a6 575.2px 576.2px,#eec6a4 576.2px 578.2px,#eec6a5 578.2px 579.2px,#efc8a7 579.2px 580.2px,#ecba99 580.2px 581.2px,#f0ccab 581.2px 582.2px,#eec2a1 582.2px 583.2px,#edc09e 583.2px 584.2px,#eec3a1 584.2px 585.2px,#edc09f 585.2px 586.2px,#eec3a1 586.2px 588.2px,#edbf9d 588.2px 590.2px,#eec4a2 590.2px 591.2px,#f0ccab 591.2px 592.2px,#efc7a6 592.2px 593.2px,#eec3a2 593.2px 594.2px,#eec2a0 594.2px 596.2px,#efc7a5 596.2px 597.2px,#efcaa9 597.2px 599.2px,#eec3a2 599.2px 601.2px,#efc8a6 601.2px 602.2px,#f0cbaa 602.2px 604.2px,#eec4a2 604.2px 605.2px,#f0ccaa 605.2px 606.2px,#edc19f 606.2px 607.2px,#efc7a5 607.2px 608.2px,#efc8a6 608.2px 610.2px,#edc09e 610.2px 611.2px,#eec2a0 611.2px 612.2px,#f0cdac 612.2px 614.2px,#efc8a7 614.2px 616.2px,#edbe9c 616.2px 618.2px,#eec5a4 618.2px 619.2px,#edbd9c 619.2px 620.2px,#eec5a4 620.2px 621.2px,#f0cfaf 621.2px 622.2px,#efc8a7 622.2px 623.2px,#eec5a4 623.2px 624.2px,#f0cbaa 624.2px 625.2px,#f0cfaf 625.2px 626.2px,#f0ceae 626.2px 627.2px,#efc7a6 627.2px 628.2px,#eec4a3 628.2px 630.2px,#edc1a0 630.2px 631.2px,#f0ceae 631.2px 632.2px,#eec6a4 632.2px 635.2px,#f0cbaa 635.2px 636.2px,#efc9a7 636.2px 637.2px,#efc7a5 637.2px 639.2px,#f0ccab 639.2px 640.2px,#f0cbaa 640.2px 641.2px,#eec5a4 641.2px 642.2px,#efc9a8 642.2px 643.2px,#f0cdac 643.2px 645.2px,#eec4a3 645.2px 646.2px,#f0cbaa 646.2px 647.2px,#efc8a7 647.2px 648.2px,#efc6a5 648.2px 650.2px,#efc8a6 650.2px 651.2px,#f0cbaa 651.2px 652.2px,#f0cfae 652.2px 653.2px,#f0cfaf 653.2px 654.2px,#efc8a7 654.2px 655.2px,#f0cbaa 655.2px 656.2px,#edc09f 656.2px 657.2px,#efcba9 657.2px 658.2px,#f0cead 658.2px 659.2px,#efc9a8 659.2px 660.2px,#f0cbaa 660.2px 661.2px,#efc8a7 661.2px 663.2px,#f0ccab 663.2px 664.2px,#f0d0af 664.2px 665.2px,#efcaa9 665.2px 666.2px,#efc6a5 666.2px 667.2px,#f0ccab 667.2px 669.2px,#f0cead 669.2px 671.2px,#efc7a6 671.2px 672.2px,#f0ccab 672.2px 674.2px,#efcaa9 674.2px 676.2px,#eec2a1 676.2px 678.2px,#f0ceae 678.2px 679.2px,#eec3a1 679.2px 681.2px,#f0ccab 681.2px 682.2px,#f0ccaa 682.2px 684.2px,#f0cead 684.2px 686.2px,#efc9a8 686.2px 688.2px,#efc8a7 688.2px 689.2px,#f0cdac 689.2px 690.2px,#f1d1b1 690.2px 691.2px,#efc7a6 691.2px 693.2px,#f1d0b1 693.2px 694.2px,#efc9a7 694.2px 695.2px,#f1d4b5 695.2px 697.2px,#f0ceae 697.2px 699.2px,#f1d3b4 699.2px 700.2px,#f0ceae 700.2px 701.2px,#f1d2b3 701.2px 702.2px,#f0cead 702.2px 703.2px,#efcaa9 703.2px 704.2px,#f0cfaf 704.2px 706.2px,#f1d5b7 706.2px 707.2px,#efcaa9 707.2px 708.2px,#f1d5b7 708.2px 710.2px,#f1d0b1 710.2px 711.2px,#f0cbaa 711.2px 712.2px,#f1d3b5 712.2px 713.2px,#f1d4b5 713.2px 714.2px,#f0ccab 714.2px 715.2px,#f1d4b6 715.2px 716.2px,#f0ccab 716.2px 717.2px,#f0cfaf 717.2px 718.2px,#f0cdac 718.2px 719.2px,#f0cfaf 719.2px 721.2px,#f1d6b8 721.2px 723.2px,#f1d3b5 723.2px 724.2px,#f0ceae 724.2px 725.2px,#f0d0b0 725.2px 726.2px,#f1d4b6 726.2px 727.2px,#f1d1b1 727.2px 728.2px,#f1d2b2 728.2px 729.2px,#f0cdac 729.2px 730.2px,#f1d1b1 730.2px 731.2px,#f1d5b8 731.2px 732.2px,#f0cead 732.2px 734.2px,#f0cdad 734.2px 735.2px,#f0ceae 735.2px 737.2px,#f1d7b9 737.2px 739.2px,#f0d0b0 739.2px 740.2px,#f1d4b6 740.2px 741.2px,#f0cfae 741.2px 742.2px,#f0d0b0 742.2px 744.2px,#f1d2b3 744.2px 747.2px,#f0cfaf 747.2px 748.2px,#f0cead 748.2px 749.2px,#efc8a7 749.2px 750.2px,#f1d1b2 750.2px 751.2px,#f1d4b5 751.2px 752.2px,#f0cdac 752.2px 753.2px,#efc8a7 753.2px 754.2px,#fff 754.2px)"></div>
<svg width="1952" height="2456" viewBox="0 0 1952 2456" fill="#231f20">
<text x="-1.6" y="22.7" font-size="41.5" font-weight="bold">a</text>
<text x="-1.4" y="354.6" font-size="41.5" font-weight="bold">b</text>
<text x="-1.5" y="1027.9" font-size="41.5" font-weight="bold">c</text>
<text x="-1.5" y="1914.2" font-size="41.5" font-weight="bold">d</text>
<text x="-1.5" y="2342.6" font-size="41.5" font-weight="bold">e</text>
<text x="173.5" y="30.6" font-size="29" text-anchor="middle" font-weight="bold">Patient 1</text>
<text x="470" y="30.6" font-size="29" text-anchor="middle" font-weight="bold">Patient 2</text>
<text x="748" y="30.6" font-size="29" text-anchor="middle" font-weight="bold">Patient 3</text>
<text x="1003.5" y="30.6" font-size="29" text-anchor="middle" font-weight="bold">Patient 4</text>
<text x="1307" y="30.6" font-size="29" text-anchor="middle" font-weight="bold">Patient 5</text>
<text x="1581" y="30.6" font-size="29" text-anchor="middle" font-weight="bold">Patient 6</text>
<path d="M182,158 C183,172 190,182 201,184.5 C216,187 233,185 247,174 C259,165 267,151 268.5,137 C269.5,127 267,120 262,117.5 C257,116 252,118 249,122 C246,128 243,133 238,138 C230,145 220,150 208,152.5 C200,154 191,154 182,150 Z" fill="#a9abad" stroke="#96999b" stroke-width="0.8"/><g fill="#a6a8aa" stroke="#929597" stroke-width="0.8"><circle cx="196" cy="173" r="9.5"/><circle cx="216.6" cy="175" r="11"/><circle cx="239.7" cy="163" r="12.5"/><circle cx="253" cy="146" r="11.5"/><circle cx="258" cy="128.5" r="9.5"/></g><g fill="#b0b2b4" stroke="#9a9d9f" stroke-width="0.7"><circle cx="201" cy="157" r="4.5"/><circle cx="213" cy="155" r="5"/><circle cx="225" cy="150" r="5.5"/><circle cx="234.6" cy="142" r="5"/><circle cx="242" cy="133" r="4.5"/></g><path d="M188,158.5 C205,161 225,156 240,143 C246,137 250,130 252,124" fill="none" stroke="#c2c4c5" stroke-width="1.2"/><path d="M137,87 L132,86 C122,82 112,78 104,73 C96,68.5 88,65.5 80,65.8 C71.5,66.5 66.8,74 66.4,86 C66,97 70,108 77,116 C82,122 87,127 90.5,132.5 L97,129.5 C94,124 90,119 86,113 C82,106 79.5,98 79.5,89.5 C79.5,81 83,75.5 88.5,74.5 C96,74 105,78.5 115.5,85 C122,88.5 127,91 133,92.5 L137,93 Z" fill="#676a6d" stroke="#b3b5b7" stroke-width="1.1"/><g transform="matrix(-1 0 0 1 337.6 0)"><path d="M137,87 L132,86 C122,82 112,78 104,73 C96,68.5 88,65.5 80,65.8 C71.5,66.5 66.8,74 66.4,86 C66,97 70,108 77,116 C82,122 87,127 90.5,132.5 L97,129.5 C94,124 90,119 86,113 C82,106 79.5,98 79.5,89.5 C79.5,81 83,75.5 88.5,74.5 C96,74 105,78.5 115.5,85 C122,88.5 127,91 133,92.5 L137,93 Z" fill="#676a6d" stroke="#b3b5b7" stroke-width="1.1"/></g><path d="M111,117 C119,111 126,103 131,95 M226.6,117 C218.6,111 211.6,103 206.6,95" fill="none" stroke="#d6d7d8" stroke-width="1.6"/><ellipse cx="101.1" cy="121.6" rx="11.9" ry="9" fill="#c8cacb" stroke="#b5b7b8" stroke-width="0.8"/><ellipse cx="234.6" cy="122.9" rx="12.2" ry="9" fill="#c8cacb" stroke="#b5b7b8" stroke-width="0.8"/><path d="M96,120 C98,117 103,117 105,120 M229,121 C232,118 237,118 239,121" fill="none" stroke="#e0e1e2" stroke-width="1.2"/><path d="M131.9,86 C140,76 153,70 166.5,69.6 C180,70 193,76 201.2,86 C202.5,93 201,103 198.6,111.3 C196,120 193,127 190,134 C186,142 184.5,150 184.5,157.6 C185,163 187,166 187.1,169.1 C188.5,178 188.5,185 188.4,188.4 C187,197 185,205 183.2,211.5 C182,216 180,219.5 179.4,219.8 C176,220.5 174,220 173,219.2 L170.4,214 C167,216 164,217 162.7,216 C160,215.5 158.6,214.5 157.6,214 C155,205 153,198 152.4,194.8 C151,186 150,180 149.9,175.5 C150.5,171 151,170 151.1,169.1 C152,163 152.4,160 152.4,157.6 C151.5,150 150,146 149.9,142.2 C147,135 145,131 143.4,126.8 C140.5,120 138.5,115 137,111.3 C134.5,103 132.5,95 131.9,86 Z" fill="#afb1b3" stroke="#9c9ea0" stroke-width="0.9"/><path d="M132.5,86.5 C141,78 153,72.5 166.5,72 C180,72.5 192,78 200.5,86.5 C190,90 176,91 166.5,91 C157,91 143,90 132.5,86.5 Z" fill="#bdbfc0"/><path d="M142.2,90.8 L188.4,90.8 C185,100 181,110 177,120 C173,128 170,136 168.6,145 L168.6,166 L166.6,166 L166.6,145 C165.2,136 162,128 158,120 C154,110 147,100 142.2,90.8 Z" fill="#75787b"/><path d="M142.2,90.8 L160,90.8 C161,110 164,130 167.4,150 L166.6,166 L166.6,145 C165.2,136 162,128 158,120 C154,110 147,100 142.2,90.8 Z" fill="#606366"/><path d="M140,93 C147,108 155,125 162,140 C164.5,147 165.5,156 165.5,166 M191,93 C184,108 177,125 172,140 C170,147 169.5,156 169.5,166" fill="none" stroke="#c7c9ca" stroke-width="2.2"/><path d="M154.5,171 L182,171 C184,185 184,200 181,212 C179.5,216 176,217 173.5,214 L170.5,211.5 C166,214 163,214 161,213 C158,205 156,190 154.5,171 Z" fill="#66696c"/><path d="M156,176 C164,178 173,178 182,176 M156,181 C164,183 173,183 182,181 M156,186 C164,188 173,188 182,186 M156,191 C164,193 173,193 182,191 M156,196 C164,198 173,198 182,196 M156,201 C164,203 173,203 182,201 M156,206 C164,208 173,208 182,206 M156,211 C164,213 173,213 182,211" fill="none" stroke="#7e8184" stroke-width="1.1"/><g fill="#c0453a"><ellipse cx="180.7" cy="187.4" rx="7" ry="11.5"/><circle cx="177.5" cy="179.5" r="4.6"/><circle cx="184" cy="182" r="4.6"/><circle cx="177" cy="192" r="4.6"/><circle cx="184.5" cy="193" r="4.4"/><circle cx="181" cy="197.5" r="3.8"/></g><path d="M176,182 q3,-2 5,1 M182,188 q2,-2 4,1 M177,193 q3,-1 4,2" fill="none" stroke="#a3362c" stroke-width="0.8"/><g fill="#4b4f52" font-size="21.9"><text x="110.6" y="166.8">M1</text><text x="107.4" y="205.7">M2</text><text x="200.4" y="216.9">M2.1</text></g><line x1="142.2" y1="160.1" x2="173" y2="178.7" stroke="#4b4f52" stroke-width="1.8"/><line x1="142.2" y1="201.8" x2="174.9" y2="191.6" stroke="#4b4f52" stroke-width="1.8"/><line x1="199.9" y1="198.6" x2="185.2" y2="187.1" stroke="#4b4f52" stroke-width="1.8"/>
<g transform="translate(0 0)"><path d="M446.7,45 L448.5,43.8 C450,46 451,47 452.5,46 C454.5,43.5 457,43.5 458.7,46 C460.5,43.5 463,43.5 465,46 C466.5,47 467.5,46 469,43.8 L470.5,45 C471,50 470,55 468,59 C466.5,61.5 465.5,63 465.5,66 L465.5,134 C467.5,136 469,138.5 469,142 C469,145 468.5,147 467.5,148.5 C465,146.5 462.5,145 460.5,144.5 L457,144.5 C455,145 452.5,146.5 450,148.5 C449,147 448.5,145 448.5,142 C448.5,138.5 450,136 452,134 L452,66 C452,63 451,61.5 449.5,59 C447.5,55 446.3,50 446.7,45 Z" fill="#74777a"/><path d="M451,57 C454,54 463,54 466.5,57" fill="none" stroke="#8b8e91" stroke-width="1.2"/><path d="M452,68.5 L465.5,68.5 M452,75.0 L465.5,75.0 M452,81.5 L465.5,81.5 M452,88.0 L465.5,88.0 M452,94.5 L465.5,94.5 M452,101.0 L465.5,101.0 M452,107.5 L465.5,107.5 M452,114.0 L465.5,114.0 M452,120.5 L465.5,120.5 M452,127.0 L465.5,127.0 M452,133.5 L465.5,133.5" stroke="#54575a" stroke-width="2.3"/><path d="M433,90.6 C427,96 422,102 417.3,108.5 C411,116 406,123 401.5,130.5 C397,139 394.5,145 393.1,149.4 C391,156 389.8,161 388.9,167.3 C387,175 385.7,182 384.7,188.3 C383,198 382,206 381.6,214.5 C381.3,220 381.5,224 382.1,227.1 C383,229.5 385,230.8 386.8,230.3 C392,228 396,226 401.5,224 C407,221 412,218.5 417.3,216.6 C423,215 428,214 433,213.5 C437,212.8 441,212.3 443.5,211.9 C446,211.2 448,210.5 448.8,209.3 C450.5,204 450.8,199 450.9,193.5 C451.5,185 451.7,176 451.9,167.3 C452.3,160 453,156 453,151.5 C452.5,147 451.8,144 450.9,141 C449.7,137.5 448.6,134 447.7,130.5 C446.8,127 446.2,123.5 445.6,120 C444.9,116.5 444.2,113 443.5,109.5 C442.6,105 441.6,101 440.4,96.9 C439.2,93 437.8,90.6 436.2,90.3 C435,90 434,90.2 433,90.6 Z" fill="#b9bbbc" stroke="#a3a5a7" stroke-width="0.9"/><path d="M438.5,99 C442,100 445,106 446.3,114 C447,119 446.8,123 446,125 C442,119 439,111 438,104 C437.8,101.5 438,100 438.5,99 Z" fill="#a2a4a6"/><path d="M388.9,165.2 C396,170 404,173.5 412,174.6 C420,175.3 427,174.7 433,173.6 C440,172 446,169.5 451.9,166.2 M384.7,189.3 C388,196 392,201.5 396.3,206.1 C401,211 406,214.5 412,217.7" fill="none" stroke="#999b9d" stroke-width="0.9"/><path d="M425,101 C423,103 421,106 420,108" fill="none" stroke="#d4d5d6" stroke-width="1.3" stroke-linecap="round"/><path d="M480.3,93.2 C486,95 491,97.5 496,101.1 C502,105.5 507,110.5 511.8,115.8 C516,121.5 519.5,128 522.3,135.8 C526,145 528.7,153 530.7,162 C532.6,171 534,179.5 534.9,188.3 C536.2,197 537.2,206 538,214.5 C538.6,221 539.2,226 539.1,230.3 C539,233.5 537.8,236.2 535.9,236.6 C531,233.5 527,229 522.3,225 C517,221.5 512,218.8 506.5,216.6 C501,215.2 496,214.7 490.8,214.5 C487.5,214.2 485,213.5 483.4,212.4 C481.6,210.8 480.9,208.5 480.8,206.1 C480.5,205 479,204.3 477.5,204.2 C475.5,204 474,204 474,204 C472.5,203.3 471.5,201.8 470.8,199.8 C470.5,195.5 471,191.5 471.9,188.3 C472.8,183 473.8,177.5 475,172.5 C475.3,170.5 475.3,168.8 475,167.3 C474.3,164.8 473.6,162.4 472.9,160 C472,155.5 471.3,151 470.8,146.3 C470,141 469.2,136 468.7,130.5 C468.6,125 469,120 469.8,114.8 C470.5,110 471.6,105.5 472.9,101.1 C473.8,98.5 474.9,96.5 476.1,94.8 C477.4,93.4 478.8,92.8 480.3,93.2 Z" fill="#b9bbbc" stroke="#a3a5a7" stroke-width="0.9"/><path d="M475,170.4 C479,173 484,177 486.6,184 C487.5,190 487,197 484.5,204 L474.5,204 C472.5,203 471.3,201.5 470.8,199.8 C470.5,195.5 471,191.5 471.9,188.3 C472.8,183 473.8,177.5 475,172.5 Z" fill="#7b7e81"/><path d="M475.5,174 C478.5,177 481.5,181 482.5,186 C483,192 482.5,197 480.5,201.5 L476,201.5 C474,199 473.5,195 474,190 C474.3,184 474.8,179 475.5,174 Z" fill="#95989a"/><path d="M471.5,101 C474,97 477,95.5 479.5,96.5 C477,101 475.5,106 474.5,112 C473,117 472,121 471,124 C470.3,115 470.6,107 471.5,101 Z" fill="#a2a4a6"/><path d="M493.9,213.5 C502,209.5 510,204.5 517,198.8 C523,193 527.5,186 531.7,176.7" fill="none" stroke="#999b9d" stroke-width="0.9"/><path d="M531,165 C534,178 536,195 536.8,210 C537.2,220 537.2,227 536.5,232" fill="none" stroke="#aeb0b2" stroke-width="1.6" stroke-linecap="round"/><path d="M483,100 C481.5,102 480.5,104.5 480,107" fill="none" stroke="#d4d5d6" stroke-width="1.3" stroke-linecap="round"/><path d="M452.5,135 L465.5,135 C467,137 468.5,139 469.5,141 L470.5,147.5 C469.5,148.5 468.5,149 467.5,149 C466.5,147.5 465.5,146.5 464.5,145.7 L456.6,145.7 C455.5,146.5 454.3,147.5 453,149 C451.5,149 450.5,148.5 449.5,147.5 L450,141 C450.8,139 451.5,137 452.5,135 Z" fill="#7b7e81"/><path d="M451,140.5 C453.5,141.5 455.5,143.5 456.3,145.6 M467.5,140.5 C465,141.5 463.3,143.5 462.8,145.6 M452.5,135.6 L465.5,135.6" fill="none" stroke="#54575a" stroke-width="1.6"/><g fill="#c4473b"><circle cx="507.3" cy="181" r="12.4"/><circle cx="516.2" cy="180.1" r="5.8"/><circle cx="514" cy="186.9" r="5.8"/><circle cx="509.3" cy="189.7" r="5.8"/><circle cx="502.5" cy="188.5" r="5.8"/><circle cx="498.8" cy="183.6" r="5.8"/><circle cx="498.5" cy="179.4" r="5.8"/><circle cx="501.4" cy="174.3" r="5.8"/><circle cx="510" cy="172.5" r="5.8"/><circle cx="513.6" cy="174.6" r="5.8"/></g><g fill="#a9382e" opacity="0.45"><circle cx="508.3" cy="191" r="1.7"/><circle cx="498.6" cy="182.7" r="1.7"/><circle cx="499.9" cy="182.1" r="1.7"/><circle cx="511.7" cy="187" r="1.7"/><circle cx="511.8" cy="176.1" r="1.7"/><circle cx="506.9" cy="173.3" r="1.7"/><circle cx="515" cy="184.3" r="1.7"/></g><g fill="#d2594c" opacity="0.5"><circle cx="505.1" cy="179.6" r="2"/><circle cx="514.6" cy="182.4" r="2"/><circle cx="501.2" cy="182.1" r="2"/><circle cx="511.8" cy="176.7" r="2"/><circle cx="510.3" cy="179.4" r="2"/></g></g>
<g fill="#4b4f52" font-size="22"><text x="486.2" y="150.5">M1</text><text x="522.6" y="209.3">M1.1</text></g>
<line x1="496.5" y1="153.6" x2="503.4" y2="174.1" stroke="#4b4f52" stroke-width="1.8"/><line x1="510.2" y1="183.6" x2="523.3" y2="193" stroke="#4b4f52" stroke-width="1.8"/>
<g transform="translate(280 0)"><path d="M446.7,45 L448.5,43.8 C450,46 451,47 452.5,46 C454.5,43.5 457,43.5 458.7,46 C460.5,43.5 463,43.5 465,46 C466.5,47 467.5,46 469,43.8 L470.5,45 C471,50 470,55 468,59 C466.5,61.5 465.5,63 465.5,66 L465.5,134 C467.5,136 469,138.5 469,142 C469,145 468.5,147 467.5,148.5 C465,146.5 462.5,145 460.5,144.5 L457,144.5 C455,145 452.5,146.5 450,148.5 C449,147 448.5,145 448.5,142 C448.5,138.5 450,136 452,134 L452,66 C452,63 451,61.5 449.5,59 C447.5,55 446.3,50 446.7,45 Z" fill="#74777a"/><path d="M451,57 C454,54 463,54 466.5,57" fill="none" stroke="#8b8e91" stroke-width="1.2"/><path d="M452,68.5 L465.5,68.5 M452,75.0 L465.5,75.0 M452,81.5 L465.5,81.5 M452,88.0 L465.5,88.0 M452,94.5 L465.5,94.5 M452,101.0 L465.5,101.0 M452,107.5 L465.5,107.5 M452,114.0 L465.5,114.0 M452,120.5 L465.5,120.5 M452,127.0 L465.5,127.0 M452,133.5 L465.5,133.5" stroke="#54575a" stroke-width="2.3"/><path d="M433,90.6 C427,96 422,102 417.3,108.5 C411,116 406,123 401.5,130.5 C397,139 394.5,145 393.1,149.4 C391,156 389.8,161 388.9,167.3 C387,175 385.7,182 384.7,188.3 C383,198 382,206 381.6,214.5 C381.3,220 381.5,224 382.1,227.1 C383,229.5 385,230.8 386.8,230.3 C392,228 396,226 401.5,224 C407,221 412,218.5 417.3,216.6 C423,215 428,214 433,213.5 C437,212.8 441,212.3 443.5,211.9 C446,211.2 448,210.5 448.8,209.3 C450.5,204 450.8,199 450.9,193.5 C451.5,185 451.7,176 451.9,167.3 C452.3,160 453,156 453,151.5 C452.5,147 451.8,144 450.9,141 C449.7,137.5 448.6,134 447.7,130.5 C446.8,127 446.2,123.5 445.6,120 C444.9,116.5 444.2,113 443.5,109.5 C442.6,105 441.6,101 440.4,96.9 C439.2,93 437.8,90.6 436.2,90.3 C435,90 434,90.2 433,90.6 Z" fill="#b9bbbc" stroke="#a3a5a7" stroke-width="0.9"/><path d="M438.5,99 C442,100 445,106 446.3,114 C447,119 446.8,123 446,125 C442,119 439,111 438,104 C437.8,101.5 438,100 438.5,99 Z" fill="#a2a4a6"/><path d="M388.9,165.2 C396,170 404,173.5 412,174.6 C420,175.3 427,174.7 433,173.6 C440,172 446,169.5 451.9,166.2 M384.7,189.3 C388,196 392,201.5 396.3,206.1 C401,211 406,214.5 412,217.7" fill="none" stroke="#999b9d" stroke-width="0.9"/><path d="M425,101 C423,103 421,106 420,108" fill="none" stroke="#d4d5d6" stroke-width="1.3" stroke-linecap="round"/><path d="M480.3,93.2 C486,95 491,97.5 496,101.1 C502,105.5 507,110.5 511.8,115.8 C516,121.5 519.5,128 522.3,135.8 C526,145 528.7,153 530.7,162 C532.6,171 534,179.5 534.9,188.3 C536.2,197 537.2,206 538,214.5 C538.6,221 539.2,226 539.1,230.3 C539,233.5 537.8,236.2 535.9,236.6 C531,233.5 527,229 522.3,225 C517,221.5 512,218.8 506.5,216.6 C501,215.2 496,214.7 490.8,214.5 C487.5,214.2 485,213.5 483.4,212.4 C481.6,210.8 480.9,208.5 480.8,206.1 C480.5,205 479,204.3 477.5,204.2 C475.5,204 474,204 474,204 C472.5,203.3 471.5,201.8 470.8,199.8 C470.5,195.5 471,191.5 471.9,188.3 C472.8,183 473.8,177.5 475,172.5 C475.3,170.5 475.3,168.8 475,167.3 C474.3,164.8 473.6,162.4 472.9,160 C472,155.5 471.3,151 470.8,146.3 C470,141 469.2,136 468.7,130.5 C468.6,125 469,120 469.8,114.8 C470.5,110 471.6,105.5 472.9,101.1 C473.8,98.5 474.9,96.5 476.1,94.8 C477.4,93.4 478.8,92.8 480.3,93.2 Z" fill="#b9bbbc" stroke="#a3a5a7" stroke-width="0.9"/><path d="M475,170.4 C479,173 484,177 486.6,184 C487.5,190 487,197 484.5,204 L474.5,204 C472.5,203 471.3,201.5 470.8,199.8 C470.5,195.5 471,191.5 471.9,188.3 C472.8,183 473.8,177.5 475,172.5 Z" fill="#7b7e81"/><path d="M475.5,174 C478.5,177 481.5,181 482.5,186 C483,192 482.5,197 480.5,201.5 L476,201.5 C474,199 473.5,195 474,190 C474.3,184 474.8,179 475.5,174 Z" fill="#95989a"/><path d="M471.5,101 C474,97 477,95.5 479.5,96.5 C477,101 475.5,106 474.5,112 C473,117 472,121 471,124 C470.3,115 470.6,107 471.5,101 Z" fill="#a2a4a6"/><path d="M493.9,213.5 C502,209.5 510,204.5 517,198.8 C523,193 527.5,186 531.7,176.7" fill="none" stroke="#999b9d" stroke-width="0.9"/><path d="M531,165 C534,178 536,195 536.8,210 C537.2,220 537.2,227 536.5,232" fill="none" stroke="#aeb0b2" stroke-width="1.6" stroke-linecap="round"/><path d="M483,100 C481.5,102 480.5,104.5 480,107" fill="none" stroke="#d4d5d6" stroke-width="1.3" stroke-linecap="round"/><path d="M452.5,135 L465.5,135 C467,137 468.5,139 469.5,141 L470.5,147.5 C469.5,148.5 468.5,149 467.5,149 C466.5,147.5 465.5,146.5 464.5,145.7 L456.6,145.7 C455.5,146.5 454.3,147.5 453,149 C451.5,149 450.5,148.5 449.5,147.5 L450,141 C450.8,139 451.5,137 452.5,135 Z" fill="#7b7e81"/><path d="M451,140.5 C453.5,141.5 455.5,143.5 456.3,145.6 M467.5,140.5 C465,141.5 463.3,143.5 462.8,145.6 M452.5,135.6 L465.5,135.6" fill="none" stroke="#54575a" stroke-width="1.6"/><g fill="#c4473b"><circle cx="507.3" cy="181" r="12.4"/><circle cx="516.2" cy="181.8" r="5.8"/><circle cx="514.9" cy="185.7" r="5.8"/><circle cx="508.7" cy="189.8" r="5.8"/><circle cx="503.6" cy="189.1" r="5.8"/><circle cx="498.6" cy="182.9" r="5.8"/><circle cx="499.6" cy="176.5" r="5.8"/><circle cx="503.2" cy="173.1" r="5.8"/><circle cx="508.6" cy="172.2" r="5.8"/><circle cx="514.6" cy="175.8" r="5.8"/></g><g fill="#a9382e" opacity="0.45"><circle cx="513.3" cy="188.9" r="1.7"/><circle cx="510.2" cy="188.8" r="1.7"/><circle cx="503.4" cy="179.5" r="1.7"/><circle cx="512.4" cy="178" r="1.7"/><circle cx="502.3" cy="181.8" r="1.7"/><circle cx="504.4" cy="184.1" r="1.7"/><circle cx="500.4" cy="187.9" r="1.7"/></g><g fill="#d2594c" opacity="0.5"><circle cx="509.8" cy="188.1" r="2"/><circle cx="500.7" cy="181.6" r="2"/><circle cx="506.5" cy="182.4" r="2"/><circle cx="505.9" cy="180.6" r="2"/><circle cx="507.4" cy="181.3" r="2"/></g></g>
<defs><linearGradient id="tfade" x1="0" y1="0" x2="0" y2="1"><stop offset="0" stop-color="#fff" stop-opacity="1"/><stop offset="0.045" stop-color="#fff" stop-opacity="0"/><stop offset="0.87" stop-color="#fff" stop-opacity="0"/><stop offset="0.97" stop-color="#fff" stop-opacity="0.9"/><stop offset="1" stop-color="#fff" stop-opacity="1"/></linearGradient></defs><path d="M961,46 L1075.4,46 C1073,52 1071.5,57 1070.7,63.3 C1069.8,70 1069.3,74 1069.5,78.5 C1070,85 1071.7,90 1074.2,96 C1077,103 1079.8,109 1082.4,115.8 C1085.5,123 1088.3,131 1090.5,139.2 C1092.8,149 1094.3,158 1095.2,168.4 C1096.5,178 1097.3,188 1097.5,197.5 L1097.5,226 L1021.7,226 L1021.7,212 C1020,211 1017,211 1015.3,212 L1015.3,226 L939.6,226 L939.4,209.2 C939.3,201 939.5,193 940,185.9 C940.8,175 942,166 943.5,156.7 C945.2,147 947.1,139 949.3,131 C951.4,124 953.8,117 956.3,110 C958.4,104 960.4,98 962.2,92.5 C963.8,87 964.8,83 965.1,78.5 C965.5,74 965.6,72 965.7,69.2 C965,65 964.2,61 963.3,57.5 C962.5,54 961.7,50 961,46 Z" fill="#cbcccd"/><path d="M1070.7,46 L1075.4,46 C1073,52 1071.5,57 1070.7,63.3 C1069.8,70 1069.3,74 1069.5,78.5 C1070,85 1071.7,90 1074.2,96 C1077,103 1079.8,109 1082.4,115.8 C1085.5,123 1088.3,131 1090.5,139.2 C1092.8,149 1094.3,158 1095.2,168.4 C1096.5,178 1097.3,188 1097.5,197.5 L1097.5,226 L1021.7,226 L1021.7,211 C1024,204 1030,196 1036,189 C1043,180 1051,171 1058,162 C1064,153 1068,143 1068.4,133.3 C1068.5,123 1066.5,113 1066,104.2 C1065.5,95 1066,86 1067.5,78.5 C1068.5,68 1069.5,56 1070.7,46 Z" fill="#bdbfc0"/><path d="M1076.5,167.5 C1081,168 1085,172 1087,180 C1088.5,190 1088.5,205 1088.5,226 L1033.4,226 C1034,219 1035,214 1036.5,209.2 C1041,201 1048,193 1056.7,185.9 C1063,179 1069,172 1076.5,167.5 Z" fill="#cbcccd"/><path d="M956.3,110 C953.8,117 951.4,124 949.3,131 C947.1,139 945.2,147 943.5,156.7 C942,166 940.8,175 940,185.9 C939.5,193 939.3,201 939.4,209.2 L939.6,226 L945,226 C944.8,210 945,195 946,182 C947,170 948.5,160 950.5,150 C952.5,140 954.5,131 956.5,123 Z" fill="#bdbfc0"/><path d="M985.5,171.9 C991,177 995,181 998.3,185.9 C1003,193 1007,199 1010,203.4 C1012.5,207 1014.5,209.5 1016.5,211 C1017.5,208 1018,206 1018.5,205.5 C1014,203 1010,198 1006,192 C1000,184 993,177 985.5,171.9 Z" fill="#b9bbbc"/><path d="M1005,196 C1010,203 1014,207 1018.5,207 C1023,207 1027,203 1031,197 C1025,202 1022,204 1018.5,204 C1014.5,204 1010,201 1005,196 Z" fill="#c3c5c6"/><path d="M955.2,145 C960,150 965,155 970.3,160.2" fill="none" stroke="#bbbdbe" stroke-width="1.2"/><rect x="936" y="44" width="166" height="184" fill="url(#tfade)"/><circle cx="1018.2" cy="113.3" r="1.9" fill="#a8aaac"/><g transform="rotate(22 974.7 117.3)" fill="#c0453a"><ellipse cx="974.7" cy="117.3" rx="10.5" ry="5.6"/><circle cx="968" cy="116" r="4"/><circle cx="975" cy="113" r="4"/><circle cx="981" cy="118.5" r="4"/><circle cx="974" cy="121" r="3.5"/></g><g fill="#4b4f52" font-size="22.8"><text x="929.3" y="97.2">M1</text><text x="988.8" y="104">M1.2</text><text x="914.5" y="156.1">M1.1</text></g><line x1="960.4" y1="101.3" x2="971.5" y2="115.8" stroke="#4b4f52" stroke-width="1.8"/><line x1="1000.7" y1="116.1" x2="981.4" y2="117.2" stroke="#4b4f52" stroke-width="1.8"/><line x1="962.8" y1="135.4" x2="976.4" y2="122.3" stroke="#4b4f52" stroke-width="1.8"/>
<defs><linearGradient id="urf" x1="0" y1="0" x2="0" y2="1"><stop offset="0" stop-color="#c3c5c6"/><stop offset="0.85" stop-color="#c3c5c6"/><stop offset="1" stop-color="#c3c5c6" stop-opacity="0"/></linearGradient></defs><path d="M1319,147 C1330,152 1338,158 1341.5,166 C1344,175 1344.5,190 1343.5,205 C1343,215 1342.8,223 1342.6,231 L1331.5,231 C1331.8,222 1332.2,212 1332.5,202 C1333,190 1332.5,178 1330,170 C1327,163 1321,159 1316,157 Z" fill="url(#urf)"/><path d="M1338.5,172 C1340,180 1340,192 1339.5,200" fill="none" stroke="#dadbdc" stroke-width="1.5" stroke-linecap="round"/><path d="M1319,126 C1330,121 1345,121.5 1357.5,122 L1357.5,133 C1345,132.5 1333,132 1321,134 Z" fill="#6d7073"/><ellipse cx="1357.5" cy="127.5" rx="2.6" ry="5.5" fill="#7a7d80"/><ellipse cx="1357.8" cy="127.5" rx="1.3" ry="3.6" fill="#1e2022"/><path d="M1319,137 L1353.5,134 L1354,143.5 L1320,148 Z" fill="#8d9093"/><ellipse cx="1353.7" cy="138.8" rx="2.2" ry="4.8" fill="#a4a6a8"/><path d="M1302.2,52.6 C1309,53 1316,55 1322.7,57.7 C1328,61 1333,65 1336.7,69.9 C1340.5,75 1343,81 1344.2,86.7 C1345,90.5 1345,94.5 1344.2,97.9 C1343.2,101.8 1342,105 1340.4,108.2 C1338,111.5 1335,114.2 1332,116.6 C1330,118 1327.5,119.3 1325.5,120.3 C1322.5,121.5 1320.8,122.5 1320.8,124 C1321.5,127 1322.5,130 1322.7,133.4 C1322.8,137 1322.5,140 1321.8,142.7 C1321,145 1320,147 1319.9,149.2 C1320.5,151.5 1322.5,153 1324.6,154.8 C1327,157.5 1329,160.5 1330.2,164.2 C1332.5,169 1333.7,174.5 1333.9,180 C1334.4,186 1334.2,192.5 1333,198.7 C1331.8,204 1330,208.5 1327.4,212.7 C1323.5,217.5 1318.5,221.5 1313.4,224 C1307.5,226 1301,227 1294.7,226.7 C1288,226.6 1281.5,225.2 1276,223 C1269,220.5 1263,217 1257.3,212.7 C1251.5,207.5 1247,201 1243.3,194.1 C1239.5,185 1237,175.5 1235.9,166 C1235,155 1234.8,144 1235.4,133.4 C1236,123.5 1238,114 1240.5,105.4 C1243.5,97 1247,89 1250.8,82 C1255.5,75.5 1261,70 1266.7,65.2 C1272.5,60.5 1279,57 1285.4,54.9 C1291,53.3 1296.5,52.5 1302.2,52.6 Z" fill="#a9acad" stroke="#4f5255" stroke-width="0.9"/><path d="M1241,170 C1246,195 1262,214 1285,220 C1300,223 1316,219 1327,209 C1321,216 1310,221.5 1297,223 C1280,224.5 1262,219 1250,207 C1244,199 1241,187 1241,170 Z" fill="#8f9294"/><path d="M1237,160 C1240,185 1252,203 1270,212 C1288,219 1310,215 1323,200 C1329,190 1330,176 1325,164 C1329,178 1328,192 1320,203 C1308,214 1287,214 1270,206 C1254,197 1242,180 1237,160 Z" fill="#a1a4a6"/><path d="M1340,84 C1343,95 1339,106 1330,113 C1322,118 1313,118 1305,115 C1314,116 1323,113 1330,106 C1336,100 1339,92 1340,84 Z" fill="#9b9ea0"/><path d="M1277,100 C1290,99 1306,103 1320,116" fill="none" stroke="#9ea1a3" stroke-width="1.2"/><path d="M1275,159 C1285,148 1300,142 1321,138" fill="none" stroke="#9ea1a3" stroke-width="1.2"/><path d="M1276.5,73.5 C1285,66 1296,64 1306,66" fill="none" stroke="#c4c6c7" stroke-width="3.6" stroke-linecap="round"/><path d="M1285.5,101.5 C1291,100.5 1296,102 1299,105" fill="none" stroke="#c4c6c7" stroke-width="1.4" stroke-linecap="round"/><path d="M1275.5,158.5 C1280,150 1287,146 1294.5,145.5 M1287.5,157 C1288,151 1291,147 1296,146" fill="none" stroke="#c4c6c7" stroke-width="1.3" stroke-linecap="round"/><g transform="translate(1263 104.2) scale(1 1.22) translate(-1263 -104.2)"><g fill="#c4473b"><circle cx="1263" cy="104.2" r="13.6"/><circle cx="1272.8" cy="104" r="6.3"/><circle cx="1270.4" cy="110.7" r="6.3"/><circle cx="1263" cy="114" r="6.3"/><circle cx="1258.2" cy="112.8" r="6.3"/><circle cx="1253.8" cy="107.5" r="6.3"/><circle cx="1253.9" cy="100.5" r="6.3"/><circle cx="1257.1" cy="96.4" r="6.3"/><circle cx="1264.7" cy="94.6" r="6.3"/><circle cx="1270.8" cy="98.3" r="6.3"/></g><g fill="#a9382e" opacity="0.45"><circle cx="1264" cy="100.4" r="1.9"/><circle cx="1261.7" cy="107.9" r="1.9"/><circle cx="1266.2" cy="96.2" r="1.9"/><circle cx="1273.5" cy="107" r="1.9"/><circle cx="1271.1" cy="102.4" r="1.9"/><circle cx="1259.7" cy="101.3" r="1.9"/><circle cx="1270.3" cy="104.9" r="1.9"/></g><g fill="#d2594c" opacity="0.5"><circle cx="1264.7" cy="104.9" r="2.2"/><circle cx="1263" cy="104.5" r="2.2"/><circle cx="1258.9" cy="105.1" r="2.2"/><circle cx="1265.7" cy="100.1" r="2.2"/><circle cx="1260" cy="100.5" r="2.2"/></g></g>
<g transform="translate(1119 0)"><path d="M446.7,45 L448.5,43.8 C450,46 451,47 452.5,46 C454.5,43.5 457,43.5 458.7,46 C460.5,43.5 463,43.5 465,46 C466.5,47 467.5,46 469,43.8 L470.5,45 C471,50 470,55 468,59 C466.5,61.5 465.5,63 465.5,66 L465.5,134 C467.5,136 469,138.5 469,142 C469,145 468.5,147 467.5,148.5 C465,146.5 462.5,145 460.5,144.5 L457,144.5 C455,145 452.5,146.5 450,148.5 C449,147 448.5,145 448.5,142 C448.5,138.5 450,136 452,134 L452,66 C452,63 451,61.5 449.5,59 C447.5,55 446.3,50 446.7,45 Z" fill="#74777a"/><path d="M451,57 C454,54 463,54 466.5,57" fill="none" stroke="#8b8e91" stroke-width="1.2"/><path d="M452,68.5 L465.5,68.5 M452,75.0 L465.5,75.0 M452,81.5 L465.5,81.5 M452,88.0 L465.5,88.0 M452,94.5 L465.5,94.5 M452,101.0 L465.5,101.0 M452,107.5 L465.5,107.5 M452,114.0 L465.5,114.0 M452,120.5 L465.5,120.5 M452,127.0 L465.5,127.0 M452,133.5 L465.5,133.5" stroke="#54575a" stroke-width="2.3"/><path d="M433,90.6 C427,96 422,102 417.3,108.5 C411,116 406,123 401.5,130.5 C397,139 394.5,145 393.1,149.4 C391,156 389.8,161 388.9,167.3 C387,175 385.7,182 384.7,188.3 C383,198 382,206 381.6,214.5 C381.3,220 381.5,224 382.1,227.1 C383,229.5 385,230.8 386.8,230.3 C392,228 396,226 401.5,224 C407,221 412,218.5 417.3,216.6 C423,215 428,214 433,213.5 C437,212.8 441,212.3 443.5,211.9 C446,211.2 448,210.5 448.8,209.3 C450.5,204 450.8,199 450.9,193.5 C451.5,185 451.7,176 451.9,167.3 C452.3,160 453,156 453,151.5 C452.5,147 451.8,144 450.9,141 C449.7,137.5 448.6,134 447.7,130.5 C446.8,127 446.2,123.5 445.6,120 C444.9,116.5 444.2,113 443.5,109.5 C442.6,105 441.6,101 440.4,96.9 C439.2,93 437.8,90.6 436.2,90.3 C435,90 434,90.2 433,90.6 Z" fill="#b9bbbc" stroke="#a3a5a7" stroke-width="0.9"/><path d="M438.5,99 C442,100 445,106 446.3,114 C447,119 446.8,123 446,125 C442,119 439,111 438,104 C437.8,101.5 438,100 438.5,99 Z" fill="#a2a4a6"/><path d="M388.9,165.2 C396,170 404,173.5 412,174.6 C420,175.3 427,174.7 433,173.6 C440,172 446,169.5 451.9,166.2 M384.7,189.3 C388,196 392,201.5 396.3,206.1 C401,211 406,214.5 412,217.7" fill="none" stroke="#999b9d" stroke-width="0.9"/><path d="M425,101 C423,103 421,106 420,108" fill="none" stroke="#d4d5d6" stroke-width="1.3" stroke-linecap="round"/><path d="M480.3,93.2 C486,95 491,97.5 496,101.1 C502,105.5 507,110.5 511.8,115.8 C516,121.5 519.5,128 522.3,135.8 C526,145 528.7,153 530.7,162 C532.6,171 534,179.5 534.9,188.3 C536.2,197 537.2,206 538,214.5 C538.6,221 539.2,226 539.1,230.3 C539,233.5 537.8,236.2 535.9,236.6 C531,233.5 527,229 522.3,225 C517,221.5 512,218.8 506.5,216.6 C501,215.2 496,214.7 490.8,214.5 C487.5,214.2 485,213.5 483.4,212.4 C481.6,210.8 480.9,208.5 480.8,206.1 C480.5,205 479,204.3 477.5,204.2 C475.5,204 474,204 474,204 C472.5,203.3 471.5,201.8 470.8,199.8 C470.5,195.5 471,191.5 471.9,188.3 C472.8,183 473.8,177.5 475,172.5 C475.3,170.5 475.3,168.8 475,167.3 C474.3,164.8 473.6,162.4 472.9,160 C472,155.5 471.3,151 470.8,146.3 C470,141 469.2,136 468.7,130.5 C468.6,125 469,120 469.8,114.8 C470.5,110 471.6,105.5 472.9,101.1 C473.8,98.5 474.9,96.5 476.1,94.8 C477.4,93.4 478.8,92.8 480.3,93.2 Z" fill="#b9bbbc" stroke="#a3a5a7" stroke-width="0.9"/><path d="M475,170.4 C479,173 484,177 486.6,184 C487.5,190 487,197 484.5,204 L474.5,204 C472.5,203 471.3,201.5 470.8,199.8 C470.5,195.5 471,191.5 471.9,188.3 C472.8,183 473.8,177.5 475,172.5 Z" fill="#7b7e81"/><path d="M475.5,174 C478.5,177 481.5,181 482.5,186 C483,192 482.5,197 480.5,201.5 L476,201.5 C474,199 473.5,195 474,190 C474.3,184 474.8,179 475.5,174 Z" fill="#95989a"/><path d="M471.5,101 C474,97 477,95.5 479.5,96.5 C477,101 475.5,106 474.5,112 C473,117 472,121 471,124 C470.3,115 470.6,107 471.5,101 Z" fill="#a2a4a6"/><path d="M493.9,213.5 C502,209.5 510,204.5 517,198.8 C523,193 527.5,186 531.7,176.7" fill="none" stroke="#999b9d" stroke-width="0.9"/><path d="M531,165 C534,178 536,195 536.8,210 C537.2,220 537.2,227 536.5,232" fill="none" stroke="#aeb0b2" stroke-width="1.6" stroke-linecap="round"/><path d="M483,100 C481.5,102 480.5,104.5 480,107" fill="none" stroke="#d4d5d6" stroke-width="1.3" stroke-linecap="round"/><path d="M452.5,135 L465.5,135 C467,137 468.5,139 469.5,141 L470.5,147.5 C469.5,148.5 468.5,149 467.5,149 C466.5,147.5 465.5,146.5 464.5,145.7 L456.6,145.7 C455.5,146.5 454.3,147.5 453,149 C451.5,149 450.5,148.5 449.5,147.5 L450,141 C450.8,139 451.5,137 452.5,135 Z" fill="#7b7e81"/><path d="M451,140.5 C453.5,141.5 455.5,143.5 456.3,145.6 M467.5,140.5 C465,141.5 463.3,143.5 462.8,145.6 M452.5,135.6 L465.5,135.6" fill="none" stroke="#54575a" stroke-width="1.6"/><g fill="#c4473b"><circle cx="507.3" cy="181" r="12.4"/><circle cx="516.2" cy="180.9" r="5.8"/><circle cx="513.9" cy="187" r="5.8"/><circle cx="507.2" cy="189.9" r="5.8"/><circle cx="503.6" cy="189.1" r="5.8"/><circle cx="498.6" cy="182.8" r="5.8"/><circle cx="499.6" cy="176.5" r="5.8"/><circle cx="503.1" cy="173.1" r="5.8"/><circle cx="510.5" cy="172.7" r="5.8"/><circle cx="513.2" cy="174.3" r="5.8"/></g><g fill="#a9382e" opacity="0.45"><circle cx="503.6" cy="183" r="1.7"/><circle cx="514.2" cy="186.2" r="1.7"/><circle cx="501.7" cy="174.7" r="1.7"/><circle cx="502.9" cy="187.4" r="1.7"/><circle cx="510.2" cy="188.9" r="1.7"/><circle cx="503.7" cy="176.4" r="1.7"/><circle cx="498.1" cy="179.6" r="1.7"/></g><g fill="#d2594c" opacity="0.5"><circle cx="506.7" cy="180" r="2"/><circle cx="507.6" cy="181.3" r="2"/><circle cx="506.5" cy="182.8" r="2"/><circle cx="509.2" cy="186.8" r="2"/><circle cx="505.8" cy="180.2" r="2"/></g></g>
<text x="77.9" y="272.2" font-size="25" fill="#276595">P</text>
<text x="251" y="273.3" font-size="25.5" fill="#c7619a">M</text>
<path d="M109.2,266.8 L232.7,264.9" stroke="#231f20" stroke-width="1.9"/>
<path d="M231.2,260.3 L239.7,264.9 L231.2,269.6 Z" fill="#231f20"/>
<text x="176.9" y="259.8" font-size="23.8" text-anchor="middle">23 mo.</text>
<text x="370.8" y="272.2" font-size="25" fill="#276595">P</text>
<text x="543.4" y="273.3" font-size="25.5" fill="#c7619a">M</text>
<path d="M400,266.8 L523.7,264.9" stroke="#231f20" stroke-width="1.9"/>
<path d="M522.2,260.3 L530.7,264.9 L522.2,269.6 Z" fill="#231f20"/>
<text x="464.9" y="259.8" font-size="25.5" text-anchor="middle">5 mo.</text>
<text x="650.8" y="272.2" font-size="25" fill="#276595">P</text>
<text x="823.4" y="273.3" font-size="25.5" fill="#c7619a">M</text>
<path d="M680,266.8 L803.7,264.9" stroke="#231f20" stroke-width="1.9"/>
<path d="M802.2,260.3 L810.7,264.9 L802.2,269.6 Z" fill="#231f20"/>
<text x="747.6" y="259.8" font-size="25.6" text-anchor="middle">26 mo.</text>
<text x="920.5" y="272.2" font-size="25" fill="#276595">P</text>
<text x="1093.1" y="273.3" font-size="25.5" fill="#c7619a">M</text>
<path d="M949.4,266.8 L1072.7,264.9" stroke="#231f20" stroke-width="1.9"/>
<path d="M1071.2,260.3 L1079.7,264.9 L1071.2,269.6 Z" fill="#231f20"/>
<text x="1017.2" y="259.8" font-size="24.9" text-anchor="middle">12 mo.</text>
<text x="1203.1" y="272.2" font-size="25" fill="#276595">P</text>
<text x="1375.7" y="273.3" font-size="25.5" fill="#c7619a">M</text>
<path d="M1232.1,266.8 L1356.3,264.9" stroke="#231f20" stroke-width="1.9"/>
<path d="M1354.8,260.3 L1363.3,264.9 L1354.8,269.6 Z" fill="#231f20"/>
<text x="1300.8" y="259.8" font-size="25.3" text-anchor="middle">1 mo.</text>
<text x="1484" y="272.2" font-size="25" fill="#276595">P</text>
<text x="1657" y="273.3" font-size="25.5" fill="#c7619a">M</text>
<path d="M1513,266.8 L1637,264.9" stroke="#231f20" stroke-width="1.9"/>
<path d="M1635.5,260.3 L1644,264.9 L1635.5,269.6 Z" fill="#231f20"/>
<text x="1580.1" y="259.8" font-size="25.1" text-anchor="middle">107 mo.</text>
<line x1="128" y1="437" x2="128" y2="709" stroke="#4aac77" stroke-width="8" stroke-linecap="round"/>
<line x1="128" y1="709" x2="223" y2="804.5" stroke="#e0904a" stroke-width="8" stroke-linecap="round"/>
<line x1="171" y1="754.5" x2="161" y2="764" stroke="#c26592" stroke-width="8" stroke-linecap="round"/>
<line x1="223" y1="804.5" x2="195" y2="834" stroke="#c26592" stroke-width="8" stroke-linecap="round"/><line x1="223" y1="804.5" x2="267" y2="850" stroke="#c26592" stroke-width="8" stroke-linecap="round"/>
<circle cx="129.5" cy="437" r="12.2" fill="#4aac77"/><circle cx="117" cy="721" r="12.2" fill="#276493"/><circle cx="161" cy="764" r="12.2" fill="#c26592"/><circle cx="195" cy="834" r="12.2" fill="#c26592"/><circle cx="267" cy="850" r="12.2" fill="#c26592"/>
<line x1="249" y1="817" x2="268" y2="809" stroke="#2a1414" stroke-width="2"/>
<text x="145.5" y="507" font-size="19.4" font-style="italic">ARID1A</text><text x="145.5" y="530" font-size="19.4" font-style="italic">ARID2 (x4)</text><text x="145.5" y="553.1" font-size="19.4" font-style="italic">TP53</text><text x="145.5" y="576.1" font-size="19.4" font-style="italic">EP300</text><text x="145.5" y="599.2" font-size="19.4" font-style="italic">PIK3CA (x2)</text><text x="145.5" y="622.2" font-size="19.4" font-style="italic">RAD50</text><text x="145.5" y="645.3" font-size="19.4" font-style="italic">PSIP1</text><text x="145.5" y="668.4" font-size="19.4" font-style="italic">STAG2</text>
<text x="198.7" y="745" font-size="19.4" font-style="italic">ERBB2</text><text x="198.7" y="768" font-size="19.4" font-style="italic">TRRAP</text>
<text x="281.8" y="763" font-size="19.4" font-style="italic">ARID2</text><text x="281.8" y="786" font-size="19.4" font-style="italic">BLM</text><text x="281.8" y="809.1" font-size="19.4" font-style="italic">EP300</text>
<text x="140" y="812.7" font-size="19.4" font-style="italic">HSPG2</text>
<line x1="457.7" y1="354" x2="457.7" y2="857" stroke="#4aac77" stroke-width="8" stroke-linecap="round"/>
<line x1="457.7" y1="857" x2="434.6" y2="881" stroke="#4aac77" stroke-width="8" stroke-linecap="round"/>
<line x1="457.7" y1="857" x2="519" y2="920" stroke="#e0904a" stroke-width="8" stroke-linecap="round"/>
<line x1="519" y1="920" x2="500.4" y2="938.7" stroke="#c26592" stroke-width="8" stroke-linecap="round"/><line x1="519" y1="920" x2="541.4" y2="941.7" stroke="#c26592" stroke-width="8" stroke-linecap="round"/>
<circle cx="457.7" cy="354" r="12.2" fill="#4aac77"/><circle cx="434.6" cy="881" r="12.2" fill="#276493"/><circle cx="500.4" cy="938.7" r="12.2" fill="#c26592"/><circle cx="541.4" cy="941.7" r="12.2" fill="#c26592"/>
<text x="477.6" y="499" font-size="19.4" font-style="italic">ELF3</text><text x="477.6" y="522.2" font-size="19.4" font-style="italic">ERBB3</text><text x="477.6" y="545.3" font-size="19.4" font-style="italic">ARHGAP5</text><text x="477.6" y="568.5" font-size="19.4" font-style="italic">TRIP11</text><text x="477.6" y="591.7" font-size="19.4" font-style="italic">CREBBP</text><text x="477.6" y="614.9" font-size="19.4" font-style="italic">NCOR1</text><text x="477.6" y="638" font-size="19.4" font-style="italic">NF1</text><text x="477.6" y="661.2" font-size="19.4" font-style="italic">MSH2</text><text x="477.6" y="684.4" font-size="19.4" font-style="italic">EP300</text><text x="477.6" y="707.5" font-size="19.4" font-style="italic">ATR</text><text x="477.6" y="730.7" font-size="19.4" font-style="italic">TRRAP</text><text x="477.6" y="753.9" font-size="19.4" font-style="italic">CDKN2A</text><text x="477.6" y="777" font-size="19.4" font-style="italic">STAG2</text>
<text x="371.4" y="863" font-size="19.4" font-style="italic">MECOM</text>
<line x1="716.6" y1="498" x2="716.6" y2="711" stroke="#4aac77" stroke-width="8" stroke-linecap="round"/>
<line x1="716.6" y1="711" x2="800.7" y2="798.4" stroke="#c26592" stroke-width="8" stroke-linecap="round"/>
<circle cx="716.6" cy="498" r="12.2" fill="#4aac77"/><circle cx="705.5" cy="722.6" r="12.2" fill="#276493"/><circle cx="800.7" cy="798.4" r="12.2" fill="#c26592"/>
<text x="736" y="556" font-size="19.4" font-style="italic">ARID1A</text><text x="736" y="579.1" font-size="19.4" font-style="italic">BRCA2</text><text x="736" y="602.2" font-size="19.4" font-style="italic">ARHGAP5 (x2)</text><text x="736" y="625.3" font-size="19.4" font-style="italic">RAD51C</text><text x="736" y="648.4" font-size="19.4" font-style="italic">RAF1</text><text x="736" y="671.5" font-size="19.4" font-style="italic">PIK3CA</text>
<text x="766.3" y="744.7" font-size="19.4" font-style="italic">PALB2</text>
<line x1="993.5" y1="556" x2="993.5" y2="630.3" stroke="#4aac77" stroke-width="8" stroke-linecap="round"/>
<line x1="993.5" y1="630.3" x2="978.1" y2="647.5" stroke="#4aac77" stroke-width="8" stroke-linecap="round"/>
<line x1="993.5" y1="630.3" x2="1062.8" y2="699.6" stroke="#e0904a" stroke-width="8" stroke-linecap="round"/>
<line x1="1060.7" y1="697.5" x2="1018.7" y2="740" stroke="#c26592" stroke-width="8" stroke-linecap="round"/>
<line x1="1066" y1="703.8" x2="1041.8" y2="731" stroke="#c26592" stroke-width="8" stroke-linecap="round"/><line x1="1066" y1="703.8" x2="1099.5" y2="738" stroke="#c26592" stroke-width="8" stroke-linecap="round"/>
<circle cx="993.5" cy="556" r="12.2" fill="#4aac77"/><circle cx="978.1" cy="647.5" r="12.2" fill="#276493"/><circle cx="1018.7" cy="740" r="12.2" fill="#c26592"/><circle cx="1041.8" cy="731" r="12.2" fill="#c26592"/><circle cx="1099.5" cy="738" r="12.2" fill="#c26592"/>
<line x1="1010.3" y1="595" x2="1037.6" y2="595" stroke="#2a1414" stroke-width="2"/>
<text x="1051.2" y="563.5" font-size="19.4" font-style="italic">KRAS</text><text x="1051.2" y="586.5" font-size="19.4" font-style="italic">GRIN2A</text><text x="1051.2" y="609.6" font-size="19.4" font-style="italic">BRCA1</text><text x="1051.2" y="632.6" font-size="19.4" font-style="italic">KMT2C</text><text x="1051.2" y="655.7" font-size="19.4" font-style="italic">RECQL4</text>
<text x="921" y="629.2" font-size="19.4" font-style="italic">ASXL1</text>
<text x="966.8" y="710.7" font-size="19.4" font-style="italic">ARID1B</text>
<text x="1090" y="715" font-size="19.4" font-style="italic">KMT2D</text>
<text x="1095" y="814.6" font-size="23.3">100 mutations</text>
<rect x="1147.8" y="823" width="38" height="7.5" fill="#231f20"/>
<line x1="1282.5" y1="589.5" x2="1282.5" y2="658.3" stroke="#4aac77" stroke-width="8" stroke-linecap="round"/>
<line x1="1282.5" y1="658.3" x2="1329.5" y2="706.3" stroke="#c26592" stroke-width="8" stroke-linecap="round"/>
<circle cx="1282.5" cy="589.5" r="12.2" fill="#4aac77"/><circle cx="1268.8" cy="672" r="12.2" fill="#276493"/><circle cx="1329.5" cy="706.3" r="12.2" fill="#c26592"/>
<text x="1301.6" y="622.5" font-size="19.4" font-style="italic">KMT2D</text><text x="1301.6" y="645.5" font-size="19.4" font-style="italic">FGFR3</text>
<line x1="1541" y1="570.3" x2="1541" y2="632.5" stroke="#4aac77" stroke-width="8" stroke-linecap="round"/>
<line x1="1541" y1="632.5" x2="1605.6" y2="698.7" stroke="#c26592" stroke-width="8" stroke-linecap="round"/>
<circle cx="1541" cy="570.3" r="12.2" fill="#4aac77"/><circle cx="1528.2" cy="645.3" r="12.2" fill="#276493"/><circle cx="1605.6" cy="698.7" r="12.2" fill="#c26592"/>
<line x1="1558" y1="607.7" x2="1624.7" y2="607.7" stroke="#2a1414" stroke-width="2"/>
<text x="1640.5" y="578" font-size="19.4" font-style="italic">ATM (x2)</text><text x="1640.5" y="601" font-size="19.4" font-style="italic">CREBBP</text><text x="1640.5" y="624" font-size="19.4" font-style="italic">PIK3CA</text><text x="1640.5" y="647" font-size="19.4" font-style="italic">FGFR3</text><text x="1640.5" y="670" font-size="19.4" font-style="italic">CDKN1A</text><text x="1640.5" y="693" font-size="19.4" font-style="italic">KMT2C</text><text x="1640.5" y="716" font-size="19.4" font-style="italic">STAG2</text><text x="1640.5" y="739" font-size="19.4" font-style="italic">KDM6A</text>
<text x="1519" y="687.8" font-size="19.4" font-style="italic">BRD4</text>
<rect x="108" y="1080" width="150" height="754" fill="none" stroke="#2a2a2a" stroke-width="1.6"/>
<rect x="264" y="1080" width="11.5" height="367.6" fill="#5b966a"/>
<rect x="264" y="1447.6" width="11.5" height="13.1" fill="#c5c7c7"/>
<rect x="264" y="1460.7" width="11.5" height="21.3" fill="#2b6799"/>
<rect x="264" y="1482" width="11.5" height="352" fill="#c06592"/>
<rect x="428" y="1079.4" width="110.4" height="754" fill="none" stroke="#2a2a2a" stroke-width="1.6"/>
<rect x="544.7" y="1078.4" width="11.3" height="552.6" fill="#5b966a"/>
<rect x="544.7" y="1631" width="11.3" height="8.4" fill="#c5c7c7"/>
<rect x="544.7" y="1639.4" width="11.3" height="34.8" fill="#2b6799"/>
<rect x="544.7" y="1674.2" width="11.3" height="159.2" fill="#c06592"/>
<rect x="699.3" y="1079.8" width="70.8" height="754.2" fill="none" stroke="#2a2a2a" stroke-width="1.6"/>
<rect x="775.4" y="1080" width="11" height="486.4" fill="#5b966a"/>
<rect x="775.4" y="1566.4" width="11" height="267.6" fill="#c06592"/>
<rect x="964" y="1078.2" width="150.3" height="754.1" fill="none" stroke="#2a2a2a" stroke-width="1.6"/>
<rect x="1120.4" y="1078" width="11.2" height="141" fill="#5b966a"/>
<rect x="1120.4" y="1219" width="11.2" height="61" fill="#c5c7c7"/>
<rect x="1120.4" y="1280" width="11.2" height="41" fill="#2b6799"/>
<rect x="1120.4" y="1321" width="11.2" height="511.3" fill="#c06592"/>
<rect x="1263.4" y="1079.8" width="70.3" height="754.2" fill="none" stroke="#2a2a2a" stroke-width="1.6"/>
<rect x="1339.4" y="1080" width="11.4" height="370.2" fill="#5b966a"/>
<rect x="1339.4" y="1450.2" width="11.4" height="33.8" fill="#2b6799"/>
<rect x="1339.4" y="1484" width="11.4" height="350" fill="#c06592"/>
<rect x="1522.8" y="1079.8" width="70.9" height="754.2" fill="none" stroke="#2a2a2a" stroke-width="1.6"/>
<rect x="1599.2" y="1080" width="11.3" height="300.8" fill="#5b966a"/>
<rect x="1599.2" y="1380.8" width="11.3" height="28.2" fill="#2b6799"/>
<rect x="1599.2" y="1409" width="11.3" height="425" fill="#c06592"/>
<text transform="translate(132.7 1068.3) rotate(-90) scale(0.9 1)" font-size="26.2" fill="#276595">P</text>
<text transform="translate(174 1068.3) rotate(-90) scale(0.9 1)" font-size="26.2" fill="#c7619a">M1</text>
<text transform="translate(211.3 1068.3) rotate(-90) scale(0.9 1)" font-size="26.2" fill="#c7619a">M2</text>
<text transform="translate(249.6 1068.3) rotate(-90) scale(0.9 1)" font-size="26.2" fill="#c7619a">M2.1</text>
<text transform="translate(455.3 1068.3) rotate(-90) scale(0.9 1)" font-size="26.2" fill="#276595">P</text>
<text transform="translate(494.3 1068.3) rotate(-90) scale(0.9 1)" font-size="26.2" fill="#c7619a">M1</text>
<text transform="translate(532.3 1068.3) rotate(-90) scale(0.9 1)" font-size="26.2" fill="#c7619a">M1.1</text>
<text transform="translate(723.9 1068.3) rotate(-90) scale(0.9 1)" font-size="26.2" fill="#276595">P</text>
<text transform="translate(760.3 1068.3) rotate(-90) scale(0.9 1)" font-size="26.2" fill="#c7619a">M1</text>
<text transform="translate(991.6 1068.3) rotate(-90) scale(0.9 1)" font-size="26.2" fill="#276595">P</text>
<text transform="translate(1031.1 1068.3) rotate(-90) scale(0.9 1)" font-size="26.2" fill="#c7619a">M1</text>
<text transform="translate(1068.8 1068.3) rotate(-90) scale(0.9 1)" font-size="26.2" fill="#c7619a">M1.1</text>
<text transform="translate(1104.3 1068.3) rotate(-90) scale(0.9 1)" font-size="26.2" fill="#c7619a">M1.2</text>
<text transform="translate(1286.8 1068.3) rotate(-90) scale(0.9 1)" font-size="26.2" fill="#276595">P</text>
<text transform="translate(1322.2 1068.3) rotate(-90) scale(0.9 1)" font-size="26.2" fill="#c7619a">M1</text>
<text transform="translate(1546.5 1068.3) rotate(-90) scale(0.9 1)" font-size="26.2" fill="#276595">P</text>
<text transform="translate(1582.2 1068.3) rotate(-90) scale(0.9 1)" font-size="26.2" fill="#c7619a">M1</text>
<text x="289.4" y="1294.5" font-size="24.5">49%</text>
<text x="568.3" y="1367.5" font-size="24.5">73%</text>
<text x="799.4" y="1328.5" font-size="24.5">65%</text>
<text x="1148.4" y="1156.5" font-size="24.5">19%</text>
<text x="1365.5" y="1282.9" font-size="24.5">49%</text>
<text x="1624" y="1255.3" font-size="24.5">40%</text>
<text transform="translate(102.5 1449.8) rotate(-90)" font-size="24.5" text-anchor="middle"><tspan font-style="italic">n</tspan> = 1453</text>
<text transform="translate(420.3 1449.2) rotate(-90)" font-size="24.5" text-anchor="middle"><tspan font-style="italic">n</tspan> = 1846</text>
<text transform="translate(692.3 1449.8) rotate(-90)" font-size="24.5" text-anchor="middle"><tspan font-style="italic">n</tspan> = 897</text>
<text transform="translate(953.4 1449.8) rotate(-90)" font-size="24.5" text-anchor="middle"><tspan font-style="italic">n</tspan> = 1079</text>
<text transform="translate(1254.9 1450.8) rotate(-90)" font-size="24.5" text-anchor="middle"><tspan font-style="italic">n</tspan> = 381</text>
<text transform="translate(1514.9 1449.8) rotate(-90)" font-size="24.5" text-anchor="middle"><tspan font-style="italic">n</tspan> = 433</text>
<text x="1692" y="1363" font-size="24" font-weight="bold">VAF</text>
<defs><linearGradient id="vafg" x1="0" y1="0" x2="0" y2="1">
<stop offset="0.0000" stop-color="#f6eadc"/>
<stop offset="0.0442" stop-color="#f0cdac"/>
<stop offset="0.1010" stop-color="#ebb694"/>
<stop offset="0.1578" stop-color="#e6a686"/>
<stop offset="0.2146" stop-color="#e29778"/>
<stop offset="0.2715" stop-color="#db8f72"/>
<stop offset="0.3283" stop-color="#d4876d"/>
<stop offset="0.3851" stop-color="#cc806a"/>
<stop offset="0.4419" stop-color="#c37a67"/>
<stop offset="0.4988" stop-color="#ba7362"/>
<stop offset="0.5556" stop-color="#b06c5e"/>
<stop offset="0.6124" stop-color="#a7655a"/>
<stop offset="0.6692" stop-color="#9e5e56"/>
<stop offset="0.7261" stop-color="#965752"/>
<stop offset="0.7829" stop-color="#8d504e"/>
<stop offset="0.8397" stop-color="#85494a"/>
<stop offset="0.8965" stop-color="#7d4246"/>
<stop offset="0.9534" stop-color="#783d42"/>
<stop offset="1" stop-color="#743a40"/>
</linearGradient></defs>
<rect x="1694" y="1380.8" width="37.7" height="181.7" fill="url(#vafg)"/>
<text x="1741.4" y="1386.3" font-size="19.5">0.0</text>
<line x1="1694" y1="1419.8" x2="1701.5" y2="1419.8" stroke="#ffffff" stroke-width="1.6"/><line x1="1724.2" y1="1419.8" x2="1731.7" y2="1419.8" stroke="#ffffff" stroke-width="1.6"/>
<text x="1741.4" y="1427.6" font-size="19.5">0.2</text>
<line x1="1694" y1="1461.1" x2="1701.5" y2="1461.1" stroke="#ffffff" stroke-width="1.6"/><line x1="1724.2" y1="1461.1" x2="1731.7" y2="1461.1" stroke="#ffffff" stroke-width="1.6"/>
<text x="1741.4" y="1468.9" font-size="19.5">0.4</text>
<line x1="1694" y1="1502.4" x2="1701.5" y2="1502.4" stroke="#ffffff" stroke-width="1.6"/><line x1="1724.2" y1="1502.4" x2="1731.7" y2="1502.4" stroke="#ffffff" stroke-width="1.6"/>
<text x="1741.4" y="1510.2" font-size="19.5">0.6</text>
<line x1="1694" y1="1543.7" x2="1701.5" y2="1543.7" stroke="#ffffff" stroke-width="1.6"/><line x1="1724.2" y1="1543.7" x2="1731.7" y2="1543.7" stroke="#ffffff" stroke-width="1.6"/>
<text x="1741.4" y="1551.5" font-size="19.5">0.8</text>
<rect x="1696.4" y="1601" width="29.8" height="29.7" fill="#48a874"/>
<text x="1736" y="1624" font-size="20.5">Trunk</text>
<rect x="1696.4" y="1634.6" width="29.8" height="29.7" fill="#276595"/>
<text x="1736" y="1657.6" font-size="20.5">Private (P)</text>
<rect x="1696.4" y="1668" width="29.8" height="29.7" fill="#c96597"/>
<text x="1736" y="1691" font-size="20.5">Branch</text>
<rect x="1696.4" y="1701.4" width="29.8" height="29.7" fill="#c5c6c8"/>
<text x="1736" y="1724.4" font-size="20.5">Ambiguous</text>
<path d="M108.6,1975.3 L108.6,2233.5 L239.2,2233.5" fill="none" stroke="#2f3235" stroke-width="1.8"/>
<line x1="101.4" y1="2218.2" x2="108.6" y2="2218.2" stroke="#2f3235" stroke-width="1.8"/>
<text x="88.6" y="2226.4" font-size="25" text-anchor="end">0.00</text>
<line x1="101.4" y1="2161.7" x2="108.6" y2="2161.7" stroke="#2f3235" stroke-width="1.8"/>
<text x="88.6" y="2169.9" font-size="25" text-anchor="end">0.25</text>
<line x1="101.4" y1="2105.2" x2="108.6" y2="2105.2" stroke="#2f3235" stroke-width="1.8"/>
<text x="88.6" y="2113.4" font-size="25" text-anchor="end">0.50</text>
<line x1="101.4" y1="2048.7" x2="108.6" y2="2048.7" stroke="#2f3235" stroke-width="1.8"/>
<text x="88.6" y="2056.9" font-size="25" text-anchor="end">0.75</text>
<line x1="101.4" y1="1992.2" x2="108.6" y2="1992.2" stroke="#2f3235" stroke-width="1.8"/>
<text x="88.6" y="2000.4" font-size="25" text-anchor="end">1.00</text>
<text transform="translate(20.1 2105.4) rotate(-90)" font-size="25" text-anchor="middle">VAF</text>
<line x1="128.8" y1="2100.8" x2="128.8" y2="2152.9" stroke="#2f3235" stroke-width="1.6"/><line x1="128.8" y1="2189.6" x2="128.8" y2="2216" stroke="#2f3235" stroke-width="1.6"/>
<rect x="116" y="2152.9" width="25.6" height="36.7" fill="#5f6366" stroke="#2f3235" stroke-width="2"/>
<line x1="116" y1="2174.3" x2="141.6" y2="2174.3" stroke="#2f3235" stroke-width="2"/>
<line x1="128.8" y1="2077" x2="128.8" y2="2100" stroke="#33373a" stroke-width="6.2" stroke-linecap="round"/>
<line x1="128.8" y1="2064" x2="128.8" y2="2074" stroke="#33373a" stroke-width="6.2" stroke-linecap="round"/>
<line x1="128.8" y1="2050.8" x2="128.8" y2="2058" stroke="#33373a" stroke-width="6.2" stroke-linecap="round"/>
<circle cx="128.8" cy="2041.6" r="3.1" fill="#33373a"/>
<line x1="173.6" y1="2026.3" x2="173.6" y2="2104.9" stroke="#2f3235" stroke-width="1.6"/><line x1="173.6" y1="2160" x2="173.6" y2="2210" stroke="#2f3235" stroke-width="1.6"/>
<rect x="160.8" y="2104.9" width="25.6" height="55.1" fill="#9a9d9e" stroke="#2f3235" stroke-width="2"/>
<line x1="160.8" y1="2132.4" x2="186.4" y2="2132.4" stroke="#2f3235" stroke-width="2"/>
<line x1="173.6" y1="2003" x2="173.6" y2="2026" stroke="#33373a" stroke-width="6.2" stroke-linecap="round"/>
<line x1="218.6" y1="2166" x2="218.6" y2="2192.2" stroke="#2f3235" stroke-width="1.6"/><line x1="218.6" y1="2210" x2="218.6" y2="2215" stroke="#2f3235" stroke-width="1.6"/>
<rect x="205.8" y="2192.2" width="25.6" height="17.8" fill="#b0647f" stroke="#2f3235" stroke-width="2"/>
<line x1="205.8" y1="2204.5" x2="231.4" y2="2204.5" stroke="#2f3235" stroke-width="2"/>
<line x1="218.6" y1="2090.6" x2="218.6" y2="2166" stroke="#33373a" stroke-width="6.2" stroke-linecap="round"/>
<circle cx="218.6" cy="2078.4" r="3.1" fill="#33373a"/>
<path d="M128.8,1987.5 L128.8,1981.4 L173.6,1981.4 L173.6,1987.5" fill="none" stroke="#2f3235" stroke-width="1.8"/>
<text x="151.7" y="1980.9" font-size="20" text-anchor="middle">*</text>
<path d="M128.8,1956.3 L128.8,1950.2 L218.6,1950.2 L218.6,1956.3" fill="none" stroke="#2f3235" stroke-width="1.8"/>
<text x="174.2" y="1949.7" font-size="20" text-anchor="middle">*</text>
<path d="M173.6,1924.7 L173.6,1918.6 L218.6,1918.6 L218.6,1924.7" fill="none" stroke="#2f3235" stroke-width="1.8"/>
<text x="196.6" y="1918.1" font-size="20" text-anchor="middle">*</text>
<path d="M128.8,2246.7 L128.8,2240.6 L173.6,2240.6 L173.6,2246.7" fill="none" stroke="#2f3235" stroke-width="1.8"/>
<text x="152.7" y="2267.1" font-size="16.2" text-anchor="middle"><tspan font-style="italic">n</tspan> = 708</text>
<text x="218.6" y="2267.1" font-size="16.2" text-anchor="middle"><tspan font-style="italic">n</tspan> = 679</text>
<path d="M411.8,1975.3 L411.8,2233.5 L542.4,2233.5" fill="none" stroke="#2f3235" stroke-width="1.8"/>
<line x1="404.6" y1="2218.2" x2="411.8" y2="2218.2" stroke="#2f3235" stroke-width="1.8"/>
<text x="391.8" y="2226.4" font-size="25" text-anchor="end">0.00</text>
<line x1="404.6" y1="2161.7" x2="411.8" y2="2161.7" stroke="#2f3235" stroke-width="1.8"/>
<text x="391.8" y="2169.9" font-size="25" text-anchor="end">0.25</text>
<line x1="404.6" y1="2105.2" x2="411.8" y2="2105.2" stroke="#2f3235" stroke-width="1.8"/>
<text x="391.8" y="2113.4" font-size="25" text-anchor="end">0.50</text>
<line x1="404.6" y1="2048.7" x2="411.8" y2="2048.7" stroke="#2f3235" stroke-width="1.8"/>
<text x="391.8" y="2056.9" font-size="25" text-anchor="end">0.75</text>
<line x1="404.6" y1="1992.2" x2="411.8" y2="1992.2" stroke="#2f3235" stroke-width="1.8"/>
<text x="391.8" y="2000.4" font-size="25" text-anchor="end">1.00</text>
<text transform="translate(323.3 2105.4) rotate(-90)" font-size="25" text-anchor="middle">VAF</text>
<line x1="432" y1="2020.2" x2="432" y2="2105.9" stroke="#2f3235" stroke-width="1.6"/><line x1="432" y1="2168.8" x2="432" y2="2217.1" stroke="#2f3235" stroke-width="1.6"/>
<rect x="419.2" y="2105.9" width="25.6" height="62.9" fill="#5f6366" stroke="#2f3235" stroke-width="2"/>
<line x1="419.2" y1="2145.1" x2="444.8" y2="2145.1" stroke="#2f3235" stroke-width="2"/>
<circle cx="432" cy="2010.4" r="3.1" fill="#33373a"/>
<line x1="476.8" y1="2021.2" x2="476.8" y2="2088" stroke="#2f3235" stroke-width="1.6"/><line x1="476.8" y1="2160.6" x2="476.8" y2="2215.1" stroke="#2f3235" stroke-width="1.6"/>
<rect x="464" y="2088" width="25.6" height="72.6" fill="#9a9d9e" stroke="#2f3235" stroke-width="2"/>
<line x1="464" y1="2134.9" x2="489.6" y2="2134.9" stroke="#2f3235" stroke-width="2"/>
<line x1="521.8" y1="2178.4" x2="521.8" y2="2197.8" stroke="#2f3235" stroke-width="1.6"/><line x1="521.8" y1="2212" x2="521.8" y2="2218" stroke="#2f3235" stroke-width="1.6"/>
<rect x="509" y="2197.8" width="25.6" height="14.2" fill="#b0647f" stroke="#2f3235" stroke-width="2"/>
<line x1="509" y1="2208" x2="534.6" y2="2208" stroke="#2f3235" stroke-width="2"/>
<line x1="521.8" y1="2126.3" x2="521.8" y2="2142" stroke="#33373a" stroke-width="6.2" stroke-linecap="round"/>
<line x1="521.8" y1="2145" x2="521.8" y2="2178" stroke="#33373a" stroke-width="6.2" stroke-linecap="round"/>
<circle cx="521.8" cy="2102.2" r="3.1" fill="#33373a"/>
<circle cx="521.8" cy="2090.2" r="3.1" fill="#33373a"/>
<circle cx="521.8" cy="2047.8" r="3.1" fill="#33373a"/>
<path d="M432,1987.5 L432,1981.4 L476.8,1981.4 L476.8,1987.5" fill="none" stroke="#2f3235" stroke-width="1.8"/>
<text x="457.9" y="1976" font-size="20.5" text-anchor="middle">2.3e−12</text>
<path d="M432,1956.3 L432,1950.2 L521.8,1950.2 L521.8,1956.3" fill="none" stroke="#2f3235" stroke-width="1.8"/>
<text x="477.4" y="1949.7" font-size="20" text-anchor="middle">*</text>
<path d="M476.8,1924.7 L476.8,1918.6 L521.8,1918.6 L521.8,1924.7" fill="none" stroke="#2f3235" stroke-width="1.8"/>
<text x="499.8" y="1918.1" font-size="20" text-anchor="middle">*</text>
<path d="M432,2246.7 L432,2240.6 L476.8,2240.6 L476.8,2246.7" fill="none" stroke="#2f3235" stroke-width="1.8"/>
<text x="455.9" y="2267.1" font-size="16.2" text-anchor="middle"><tspan font-style="italic">n</tspan> = 1350</text>
<text x="521.8" y="2267.1" font-size="16.2" text-anchor="middle"><tspan font-style="italic">n</tspan> = 389</text>
<path d="M700.4,1975.3 L700.4,2233.5 L831,2233.5" fill="none" stroke="#2f3235" stroke-width="1.8"/>
<line x1="693.2" y1="2218.2" x2="700.4" y2="2218.2" stroke="#2f3235" stroke-width="1.8"/>
<text x="680.4" y="2226.4" font-size="25" text-anchor="end">0.00</text>
<line x1="693.2" y1="2161.7" x2="700.4" y2="2161.7" stroke="#2f3235" stroke-width="1.8"/>
<text x="680.4" y="2169.9" font-size="25" text-anchor="end">0.25</text>
<line x1="693.2" y1="2105.2" x2="700.4" y2="2105.2" stroke="#2f3235" stroke-width="1.8"/>
<text x="680.4" y="2113.4" font-size="25" text-anchor="end">0.50</text>
<line x1="693.2" y1="2048.7" x2="700.4" y2="2048.7" stroke="#2f3235" stroke-width="1.8"/>
<text x="680.4" y="2056.9" font-size="25" text-anchor="end">0.75</text>
<line x1="693.2" y1="1992.2" x2="700.4" y2="1992.2" stroke="#2f3235" stroke-width="1.8"/>
<text x="680.4" y="2000.4" font-size="25" text-anchor="end">1.00</text>
<text transform="translate(611.9 2105.4) rotate(-90)" font-size="25" text-anchor="middle">VAF</text>
<line x1="720.6" y1="2094.7" x2="720.6" y2="2147.8" stroke="#2f3235" stroke-width="1.6"/><line x1="720.6" y1="2184" x2="720.6" y2="2217" stroke="#2f3235" stroke-width="1.6"/>
<rect x="707.8" y="2147.8" width="25.6" height="36.2" fill="#5f6366" stroke="#2f3235" stroke-width="2"/>
<line x1="707.8" y1="2168.8" x2="733.4" y2="2168.8" stroke="#2f3235" stroke-width="2"/>
<circle cx="720.6" cy="2020.2" r="3.1" fill="#33373a"/>
<circle cx="720.6" cy="2026" r="3.1" fill="#33373a"/>
<line x1="720.6" y1="2054" x2="720.6" y2="2058" stroke="#33373a" stroke-width="6.2" stroke-linecap="round"/>
<circle cx="720.6" cy="2067" r="3.1" fill="#33373a"/>
<line x1="720.6" y1="2077" x2="720.6" y2="2094" stroke="#33373a" stroke-width="6.2" stroke-linecap="round"/>
<line x1="765.4" y1="2110" x2="765.4" y2="2152.9" stroke="#2f3235" stroke-width="1.6"/><line x1="765.4" y1="2182.4" x2="765.4" y2="2214" stroke="#2f3235" stroke-width="1.6"/>
<rect x="752.6" y="2152.9" width="25.6" height="29.5" fill="#9a9d9e" stroke="#2f3235" stroke-width="2"/>
<line x1="752.6" y1="2168.8" x2="778.2" y2="2168.8" stroke="#2f3235" stroke-width="2"/>
<circle cx="765.4" cy="2022.7" r="3.1" fill="#33373a"/>
<circle cx="765.4" cy="2036" r="3.1" fill="#33373a"/>
<circle cx="765.4" cy="2052" r="3.1" fill="#33373a"/>
<line x1="765.4" y1="2061" x2="765.4" y2="2072" stroke="#33373a" stroke-width="6.2" stroke-linecap="round"/>
<line x1="765.4" y1="2084" x2="765.4" y2="2109" stroke="#33373a" stroke-width="6.2" stroke-linecap="round"/>
<line x1="810.4" y1="2191.6" x2="810.4" y2="2201.8" stroke="#2f3235" stroke-width="1.6"/><line x1="810.4" y1="2212" x2="810.4" y2="2218" stroke="#2f3235" stroke-width="1.6"/>
<rect x="797.6" y="2201.8" width="25.6" height="10.2" fill="#b0647f" stroke="#2f3235" stroke-width="2"/>
<line x1="797.6" y1="2209" x2="823.2" y2="2209" stroke="#2f3235" stroke-width="2"/>
<line x1="810.4" y1="2168" x2="810.4" y2="2188.6" stroke="#33373a" stroke-width="6.2" stroke-linecap="round"/>
<circle cx="810.4" cy="2141.6" r="3.1" fill="#33373a"/>
<path d="M720.6,1987.5 L720.6,1981.4 L765.4,1981.4 L765.4,1987.5" fill="none" stroke="#2f3235" stroke-width="1.8"/>
<text x="743.8" y="1976" font-size="20.5" text-anchor="middle">0.60</text>
<path d="M720.6,1956.3 L720.6,1950.2 L810.4,1950.2 L810.4,1956.3" fill="none" stroke="#2f3235" stroke-width="1.8"/>
<text x="766" y="1949.7" font-size="20" text-anchor="middle">*</text>
<path d="M765.4,1924.7 L765.4,1918.6 L810.4,1918.6 L810.4,1924.7" fill="none" stroke="#2f3235" stroke-width="1.8"/>
<text x="788.4" y="1918.1" font-size="20" text-anchor="middle">*</text>
<path d="M720.6,2246.7 L720.6,2240.6 L765.4,2240.6 L765.4,2246.7" fill="none" stroke="#2f3235" stroke-width="1.8"/>
<text x="744.5" y="2267.1" font-size="16.2" text-anchor="middle"><tspan font-style="italic">n</tspan> = 579</text>
<text x="810.4" y="2267.1" font-size="16.2" text-anchor="middle"><tspan font-style="italic">n</tspan> = 318</text>
<path d="M982.9,1975.3 L982.9,2233.5 L1113.5,2233.5" fill="none" stroke="#2f3235" stroke-width="1.8"/>
<line x1="975.7" y1="2218.2" x2="982.9" y2="2218.2" stroke="#2f3235" stroke-width="1.8"/>
<text x="962.9" y="2226.4" font-size="25" text-anchor="end">0.00</text>
<line x1="975.7" y1="2161.7" x2="982.9" y2="2161.7" stroke="#2f3235" stroke-width="1.8"/>
<text x="962.9" y="2169.9" font-size="25" text-anchor="end">0.25</text>
<line x1="975.7" y1="2105.2" x2="982.9" y2="2105.2" stroke="#2f3235" stroke-width="1.8"/>
<text x="962.9" y="2113.4" font-size="25" text-anchor="end">0.50</text>
<line x1="975.7" y1="2048.7" x2="982.9" y2="2048.7" stroke="#2f3235" stroke-width="1.8"/>
<text x="962.9" y="2056.9" font-size="25" text-anchor="end">0.75</text>
<line x1="975.7" y1="1992.2" x2="982.9" y2="1992.2" stroke="#2f3235" stroke-width="1.8"/>
<text x="962.9" y="2000.4" font-size="25" text-anchor="end">1.00</text>
<text transform="translate(894.4 2105.4) rotate(-90)" font-size="25" text-anchor="middle">VAF</text>
<line x1="1003.1" y1="2102.9" x2="1003.1" y2="2168.8" stroke="#2f3235" stroke-width="1.6"/><line x1="1003.1" y1="2212.7" x2="1003.1" y2="2217" stroke="#2f3235" stroke-width="1.6"/>
<rect x="990.3" y="2168.8" width="25.6" height="43.9" fill="#5f6366" stroke="#2f3235" stroke-width="2"/>
<line x1="990.3" y1="2200.4" x2="1015.9" y2="2200.4" stroke="#2f3235" stroke-width="2"/>
<circle cx="1003.1" cy="2080.4" r="3.1" fill="#33373a"/>
<line x1="1003.1" y1="2089.6" x2="1003.1" y2="2101.8" stroke="#33373a" stroke-width="6.2" stroke-linecap="round"/>
<line x1="1047.9" y1="2102.9" x2="1047.9" y2="2154.5" stroke="#2f3235" stroke-width="1.6"/><line x1="1047.9" y1="2194.3" x2="1047.9" y2="2215.7" stroke="#2f3235" stroke-width="1.6"/>
<rect x="1035.1" y="2154.5" width="25.6" height="39.8" fill="#9a9d9e" stroke="#2f3235" stroke-width="2"/>
<line x1="1035.1" y1="2180" x2="1060.7" y2="2180" stroke="#2f3235" stroke-width="2"/>
<circle cx="1047.9" cy="2023.3" r="3.1" fill="#33373a"/>
<line x1="1047.9" y1="2071" x2="1047.9" y2="2088.6" stroke="#33373a" stroke-width="6.2" stroke-linecap="round"/>
<line x1="1092.9" y1="2174.3" x2="1092.9" y2="2194.7" stroke="#2f3235" stroke-width="1.6"/><line x1="1092.9" y1="2210.6" x2="1092.9" y2="2218" stroke="#2f3235" stroke-width="1.6"/>
<rect x="1080.1" y="2194.7" width="25.6" height="15.9" fill="#b0647f" stroke="#2f3235" stroke-width="2"/>
<line x1="1080.1" y1="2205.9" x2="1105.7" y2="2205.9" stroke="#2f3235" stroke-width="2"/>
<circle cx="1092.9" cy="2104.9" r="3.1" fill="#33373a"/>
<circle cx="1092.9" cy="2116.7" r="3.1" fill="#33373a"/>
<line x1="1092.9" y1="2130" x2="1092.9" y2="2135.5" stroke="#33373a" stroke-width="6.2" stroke-linecap="round"/>
<line x1="1092.9" y1="2142.7" x2="1092.9" y2="2174.3" stroke="#33373a" stroke-width="6.2" stroke-linecap="round"/>
<path d="M1003.1,1987.5 L1003.1,1981.4 L1047.9,1981.4 L1047.9,1987.5" fill="none" stroke="#2f3235" stroke-width="1.8"/>
<text x="1025.8" y="1976" font-size="20.5" text-anchor="middle">5.5e−10</text>
<path d="M1003.1,1956.3 L1003.1,1950.2 L1092.9,1950.2 L1092.9,1956.3" fill="none" stroke="#2f3235" stroke-width="1.8"/>
<text x="1057.1" y="1944.8" font-size="20.5" text-anchor="middle">0.026</text>
<path d="M1047.9,1924.7 L1047.9,1918.6 L1092.9,1918.6 L1092.9,1924.7" fill="none" stroke="#2f3235" stroke-width="1.8"/>
<text x="1070.9" y="1918.1" font-size="20" text-anchor="middle">*</text>
<path d="M1003.1,2246.7 L1003.1,2240.6 L1047.9,2240.6 L1047.9,2246.7" fill="none" stroke="#2f3235" stroke-width="1.8"/>
<text x="1027" y="2267.1" font-size="16.2" text-anchor="middle"><tspan font-style="italic">n</tspan> = 202</text>
<text x="1092.9" y="2267.1" font-size="16.2" text-anchor="middle"><tspan font-style="italic">n</tspan> = 731</text>
<path d="M1275.1,1975.3 L1275.1,2233.5 L1405.7,2233.5" fill="none" stroke="#2f3235" stroke-width="1.8"/>
<line x1="1267.9" y1="2218.2" x2="1275.1" y2="2218.2" stroke="#2f3235" stroke-width="1.8"/>
<text x="1255.1" y="2226.4" font-size="25" text-anchor="end">0.00</text>
<line x1="1267.9" y1="2161.7" x2="1275.1" y2="2161.7" stroke="#2f3235" stroke-width="1.8"/>
<text x="1255.1" y="2169.9" font-size="25" text-anchor="end">0.25</text>
<line x1="1267.9" y1="2105.2" x2="1275.1" y2="2105.2" stroke="#2f3235" stroke-width="1.8"/>
<text x="1255.1" y="2113.4" font-size="25" text-anchor="end">0.50</text>
<line x1="1267.9" y1="2048.7" x2="1275.1" y2="2048.7" stroke="#2f3235" stroke-width="1.8"/>
<text x="1255.1" y="2056.9" font-size="25" text-anchor="end">0.75</text>
<line x1="1267.9" y1="1992.2" x2="1275.1" y2="1992.2" stroke="#2f3235" stroke-width="1.8"/>
<text x="1255.1" y="2000.4" font-size="25" text-anchor="end">1.00</text>
<text transform="translate(1186.6 2105.4) rotate(-90)" font-size="25" text-anchor="middle">VAF</text>
<line x1="1295.3" y1="2048.8" x2="1295.3" y2="2143.7" stroke="#2f3235" stroke-width="1.6"/><line x1="1295.3" y1="2208" x2="1295.3" y2="2217" stroke="#2f3235" stroke-width="1.6"/>
<rect x="1282.5" y="2143.7" width="25.6" height="64.3" fill="#5f6366" stroke="#2f3235" stroke-width="2"/>
<line x1="1282.5" y1="2184.5" x2="1308.1" y2="2184.5" stroke="#2f3235" stroke-width="2"/>
<line x1="1295.3" y1="2043.7" x2="1295.3" y2="2046.7" stroke="#33373a" stroke-width="6.2" stroke-linecap="round"/>
<circle cx="1295.3" cy="1992.2" r="3.1" fill="#33373a"/>
<line x1="1340.1" y1="2132.4" x2="1340.1" y2="2168.2" stroke="#2f3235" stroke-width="1.6"/><line x1="1340.1" y1="2195.7" x2="1340.1" y2="2216" stroke="#2f3235" stroke-width="1.6"/>
<rect x="1327.3" y="2168.2" width="25.6" height="27.5" fill="#9a9d9e" stroke="#2f3235" stroke-width="2"/>
<line x1="1327.3" y1="2186.1" x2="1352.9" y2="2186.1" stroke="#2f3235" stroke-width="2"/>
<circle cx="1340.1" cy="2095.3" r="3.1" fill="#33373a"/>
<line x1="1340.1" y1="2114" x2="1340.1" y2="2125.3" stroke="#33373a" stroke-width="6.2" stroke-linecap="round"/>
<line x1="1385.1" y1="2193.7" x2="1385.1" y2="2203.9" stroke="#2f3235" stroke-width="1.6"/><line x1="1385.1" y1="2212" x2="1385.1" y2="2218" stroke="#2f3235" stroke-width="1.6"/>
<rect x="1372.3" y="2203.9" width="25.6" height="8.1" fill="#b0647f" stroke="#2f3235" stroke-width="2"/>
<line x1="1372.3" y1="2208.6" x2="1397.9" y2="2208.6" stroke="#2f3235" stroke-width="2"/>
<circle cx="1385.1" cy="2115.1" r="3.1" fill="#33373a"/>
<circle cx="1385.1" cy="2142.7" r="3.1" fill="#33373a"/>
<line x1="1385.1" y1="2161" x2="1385.1" y2="2190.6" stroke="#33373a" stroke-width="6.2" stroke-linecap="round"/>
<circle cx="1329" cy="1992.2" r="3.1" fill="#33373a"/>
<path d="M1295.3,1987.5 L1295.3,1981.4 L1340.1,1981.4 L1340.1,1987.5" fill="none" stroke="#2f3235" stroke-width="1.8"/>
<text x="1316.3" y="1976" font-size="20.5" text-anchor="middle">0.85</text>
<path d="M1295.3,1956.3 L1295.3,1950.2 L1385.1,1950.2 L1385.1,1956.3" fill="none" stroke="#2f3235" stroke-width="1.8"/>
<text x="1339.6" y="1944.8" font-size="20.5" text-anchor="middle">1.5e−13</text>
<path d="M1340.1,1924.7 L1340.1,1918.6 L1385.1,1918.6 L1385.1,1924.7" fill="none" stroke="#2f3235" stroke-width="1.8"/>
<text x="1363.1" y="1918.1" font-size="20" text-anchor="middle">*</text>
<path d="M1295.3,2246.7 L1295.3,2240.6 L1340.1,2240.6 L1340.1,2246.7" fill="none" stroke="#2f3235" stroke-width="1.8"/>
<text x="1319.2" y="2267.1" font-size="16.2" text-anchor="middle"><tspan font-style="italic">n</tspan> = 187</text>
<text x="1385.1" y="2267.1" font-size="16.2" text-anchor="middle"><tspan font-style="italic">n</tspan> = 177</text>
<path d="M1547.8,1975.3 L1547.8,2233.5 L1678.4,2233.5" fill="none" stroke="#2f3235" stroke-width="1.8"/>
<line x1="1540.6" y1="2218.2" x2="1547.8" y2="2218.2" stroke="#2f3235" stroke-width="1.8"/>
<text x="1527.8" y="2226.4" font-size="25" text-anchor="end">0.00</text>
<line x1="1540.6" y1="2161.7" x2="1547.8" y2="2161.7" stroke="#2f3235" stroke-width="1.8"/>
<text x="1527.8" y="2169.9" font-size="25" text-anchor="end">0.25</text>
<line x1="1540.6" y1="2105.2" x2="1547.8" y2="2105.2" stroke="#2f3235" stroke-width="1.8"/>
<text x="1527.8" y="2113.4" font-size="25" text-anchor="end">0.50</text>
<line x1="1540.6" y1="2048.7" x2="1547.8" y2="2048.7" stroke="#2f3235" stroke-width="1.8"/>
<text x="1527.8" y="2056.9" font-size="25" text-anchor="end">0.75</text>
<line x1="1540.6" y1="1992.2" x2="1547.8" y2="1992.2" stroke="#2f3235" stroke-width="1.8"/>
<text x="1527.8" y="2000.4" font-size="25" text-anchor="end">1.00</text>
<text transform="translate(1459.3 2105.4) rotate(-90)" font-size="25" text-anchor="middle">VAF</text>
<line x1="1568" y1="2002.9" x2="1568" y2="2112" stroke="#2f3235" stroke-width="1.6"/><line x1="1568" y1="2193.7" x2="1568" y2="2216.7" stroke="#2f3235" stroke-width="1.6"/>
<rect x="1555.2" y="2112" width="25.6" height="81.7" fill="#5f6366" stroke="#2f3235" stroke-width="2"/>
<line x1="1555.2" y1="2148.8" x2="1580.8" y2="2148.8" stroke="#2f3235" stroke-width="2"/>
<line x1="1612.8" y1="2019.6" x2="1612.8" y2="2116.1" stroke="#2f3235" stroke-width="1.6"/><line x1="1612.8" y1="2187.6" x2="1612.8" y2="2215" stroke="#2f3235" stroke-width="1.6"/>
<rect x="1600" y="2116.1" width="25.6" height="71.5" fill="#9a9d9e" stroke="#2f3235" stroke-width="2"/>
<line x1="1600" y1="2135.1" x2="1625.6" y2="2135.1" stroke="#2f3235" stroke-width="2"/>
<line x1="1657.8" y1="2184.5" x2="1657.8" y2="2200.4" stroke="#2f3235" stroke-width="1.6"/><line x1="1657.8" y1="2212" x2="1657.8" y2="2218" stroke="#2f3235" stroke-width="1.6"/>
<rect x="1645" y="2200.4" width="25.6" height="11.6" fill="#b0647f" stroke="#2f3235" stroke-width="2"/>
<line x1="1645" y1="2209.4" x2="1670.6" y2="2209.4" stroke="#2f3235" stroke-width="2"/>
<circle cx="1657.8" cy="2039" r="3.1" fill="#33373a"/>
<line x1="1657.8" y1="2078.4" x2="1657.8" y2="2082.4" stroke="#33373a" stroke-width="6.2" stroke-linecap="round"/>
<line x1="1657.8" y1="2119.6" x2="1657.8" y2="2124.3" stroke="#33373a" stroke-width="6.2" stroke-linecap="round"/>
<line x1="1657.8" y1="2132.4" x2="1657.8" y2="2149.8" stroke="#33373a" stroke-width="6.2" stroke-linecap="round"/>
<line x1="1657.8" y1="2160" x2="1657.8" y2="2184.5" stroke="#33373a" stroke-width="6.2" stroke-linecap="round"/>
<path d="M1568,1987.5 L1568,1981.4 L1612.8,1981.4 L1612.8,1987.5" fill="none" stroke="#2f3235" stroke-width="1.8"/>
<text x="1592.8" y="1976" font-size="20.5" text-anchor="middle">0.43</text>
<path d="M1568,1956.3 L1568,1950.2 L1657.8,1950.2 L1657.8,1956.3" fill="none" stroke="#2f3235" stroke-width="1.8"/>
<text x="1613.4" y="1949.7" font-size="20" text-anchor="middle">*</text>
<path d="M1612.8,1924.7 L1612.8,1918.6 L1657.8,1918.6 L1657.8,1924.7" fill="none" stroke="#2f3235" stroke-width="1.8"/>
<text x="1635.8" y="1918.1" font-size="20" text-anchor="middle">*</text>
<path d="M1568,2246.7 L1568,2240.6 L1612.8,2240.6 L1612.8,2246.7" fill="none" stroke="#2f3235" stroke-width="1.8"/>
<text x="1591.9" y="2267.1" font-size="16.2" text-anchor="middle"><tspan font-style="italic">n</tspan> = 173</text>
<text x="1657.8" y="2267.1" font-size="16.2" text-anchor="middle"><tspan font-style="italic">n</tspan> = 244</text>
<rect x="1721.6" y="2093.1" width="29.4" height="29" fill="#5f6366"/>
<text x="1762.5" y="2116.3" font-size="20.5">Trunk (P)</text>
<rect x="1721.6" y="2126.5" width="29.4" height="29" fill="#9a9d9e"/>
<text x="1762.5" y="2149.7" font-size="20.5">Trunk (M)</text>
<rect x="1721.6" y="2159.6" width="29.4" height="29" fill="#c96597"/>
<text x="1762.5" y="2182.8" font-size="20.5">Branch</text>
<path d="M101.1,2388.7 L101.10,2348.70 A40,40 0 0 1 125.17,2420.65 Z" fill="#532f80"/>
<path d="M101.1,2388.7 L125.17,2420.65 A40,40 0 0 1 66.92,2409.48 Z" fill="#765a9b"/>
<path d="M101.1,2388.7 L66.92,2409.48 A40,40 0 0 1 89.74,2350.35 Z" fill="#8fb48c"/>
<path d="M101.1,2388.7 L89.74,2350.35 A40,40 0 0 1 101.10,2348.70 Z" fill="#c98b74"/>
<rect x="59.5" y="2448" width="80.4" height="8" fill="#48a874"/>
<path d="M216.4,2388.7 L216.40,2348.70 A40,40 0 0 1 227.49,2350.27 Z" fill="#532f80"/>
<path d="M216.4,2388.7 L227.49,2350.27 A40,40 0 0 1 243.11,2358.93 Z" fill="#765a9b"/>
<path d="M216.4,2388.7 L243.11,2358.93 A40,40 0 1 1 183.43,2366.04 Z" fill="#8fb48c"/>
<path d="M216.4,2388.7 L183.43,2366.04 A40,40 0 0 1 216.40,2348.70 Z" fill="#c98b74"/>
<path d="M175.4,2447 L255.8,2448.4 L255.8,2456 L175.4,2454.7 Z" fill="#cc6699"/>
<path d="M416.4,2388.7 L416.40,2348.70 A40,40 0 0 1 434.62,2424.31 Z" fill="#532f80"/>
<path d="M416.4,2388.7 L434.62,2424.31 A40,40 0 0 1 376.42,2389.82 Z" fill="#765a9b"/>
<path d="M416.4,2388.7 L376.42,2389.82 A40,40 0 0 1 407.40,2349.73 Z" fill="#8fb48c"/>
<path d="M416.4,2388.7 L407.40,2349.73 A40,40 0 0 1 416.40,2348.70 Z" fill="#c98b74"/>
<rect x="373.1" y="2448" width="80.4" height="8" fill="#48a874"/>
<path d="M532.4,2388.7 L532.40,2348.70 A40,40 0 0 1 540.03,2349.43 Z" fill="#532f80"/>
<path d="M532.4,2388.7 L540.03,2349.43 A40,40 0 1 1 494.25,2376.67 Z" fill="#8fb48c"/>
<path d="M532.4,2388.7 L494.25,2376.67 A40,40 0 0 1 532.40,2348.70 Z" fill="#c98b74"/>
<path d="M493.4,2447 L573.8,2448.4 L573.8,2456 L493.4,2454.7 Z" fill="#cc6699"/>
<path d="M691.9,2388.7 L691.90,2348.70 A40,40 0 0 1 720.38,2416.79 Z" fill="#532f80"/>
<path d="M691.9,2388.7 L720.38,2416.79 A40,40 0 0 1 661.04,2414.14 Z" fill="#765a9b"/>
<path d="M691.9,2388.7 L661.04,2414.14 A40,40 0 0 1 683.17,2349.66 Z" fill="#8fb48c"/>
<path d="M691.9,2388.7 L683.17,2349.66 A40,40 0 0 1 691.90,2348.70 Z" fill="#c98b74"/>
<rect x="651" y="2448" width="80.4" height="8" fill="#48a874"/>
<path d="M808.2,2388.7 L808.20,2348.70 A40,40 0 0 1 809.88,2348.74 Z" fill="#532f80"/>
<path d="M808.2,2388.7 L809.88,2348.74 A40,40 0 1 1 769.02,2380.66 Z" fill="#8fb48c"/>
<path d="M808.2,2388.7 L769.02,2380.66 A40,40 0 0 1 808.20,2348.70 Z" fill="#c98b74"/>
<path d="M766.8,2447 L847.2,2448.4 L847.2,2456 L766.8,2454.7 Z" fill="#cc6699"/>
<path d="M961.9,2388.7 L961.90,2348.70 A40,40 0 0 1 966.57,2348.97 Z" fill="#532f80"/>
<path d="M961.9,2388.7 L966.57,2348.97 A40,40 0 1 1 932.60,2361.47 Z" fill="#8fb48c"/>
<path d="M961.9,2388.7 L932.60,2361.47 A40,40 0 0 1 961.90,2348.70 Z" fill="#c98b74"/>
<rect x="922" y="2448" width="80.4" height="8" fill="#48a874"/>
<path d="M1078.1,2388.7 L1078.10,2348.70 A40,40 0 0 1 1092.63,2351.43 Z" fill="#532f80"/>
<path d="M1078.1,2388.7 L1092.63,2351.43 A40,40 0 0 1 1098.64,2354.38 Z" fill="#765a9b"/>
<path d="M1078.1,2388.7 L1098.64,2354.38 A40,40 0 1 1 1053.36,2357.27 Z" fill="#8fb48c"/>
<path d="M1078.1,2388.7 L1053.36,2357.27 A40,40 0 0 1 1078.10,2348.70 Z" fill="#c98b74"/>
<path d="M1038.1,2447 L1118.5,2448.4 L1118.5,2456 L1038.1,2454.7 Z" fill="#cc6699"/>
<path d="M1254.3,2388.7 L1254.30,2348.70 A40,40 0 1 1 1214.35,2390.65 Z" fill="#8fb48c"/>
<path d="M1254.3,2388.7 L1214.35,2390.65 A40,40 0 0 1 1254.30,2348.70 Z" fill="#c98b74"/>
<rect x="1214.5" y="2448" width="80.4" height="8" fill="#48a874"/>
<path d="M1370.8,2388.7 L1370.80,2348.70 A40,40 0 0 1 1374.29,2348.85 Z" fill="#765a9b"/>
<path d="M1370.8,2388.7 L1374.29,2348.85 A40,40 0 1 1 1330.87,2391.00 Z" fill="#8fb48c"/>
<path d="M1370.8,2388.7 L1330.87,2391.00 A40,40 0 0 1 1370.80,2348.70 Z" fill="#c98b74"/>
<path d="M1330.7,2447 L1411.1,2448.4 L1411.1,2456 L1330.7,2454.7 Z" fill="#cc6699"/>
<path d="M1514.4,2388.7 L1514.40,2348.70 A40,40 0 0 1 1520.52,2349.17 Z" fill="#532f80"/>
<path d="M1514.4,2388.7 L1520.52,2349.17 A40,40 0 0 1 1542.49,2360.22 Z" fill="#765a9b"/>
<path d="M1514.4,2388.7 L1542.49,2360.22 A40,40 0 1 1 1482.25,2364.91 Z" fill="#8fb48c"/>
<path d="M1514.4,2388.7 L1482.25,2364.91 A40,40 0 0 1 1514.40,2348.70 Z" fill="#c98b74"/>
<rect x="1473.6" y="2448" width="80.4" height="8" fill="#48a874"/>
<path d="M1631,2388.7 L1631.00,2348.70 A40,40 0 0 1 1643.56,2350.72 Z" fill="#532f80"/>
<path d="M1631,2388.7 L1643.56,2350.72 A40,40 0 0 1 1652.20,2354.78 Z" fill="#765a9b"/>
<path d="M1631,2388.7 L1652.20,2354.78 A40,40 0 1 1 1591.05,2386.75 Z" fill="#8fb48c"/>
<path d="M1631,2388.7 L1591.05,2386.75 A40,40 0 0 1 1631.00,2348.70 Z" fill="#c98b74"/>
<path d="M1593,2447 L1673.4,2448.4 L1673.4,2456 L1593,2454.7 Z" fill="#cc6699"/>
<text x="1695.4" y="2325" font-size="25.5" font-weight="bold">Mutational signatures</text>
<rect x="1696.7" y="2339.2" width="29.6" height="29.5" fill="#e08c72"/>
<text x="1736.3" y="2362.2" font-size="20.5">SBS1</text>
<rect x="1814.1" y="2338.1" width="29.6" height="29.5" fill="#80b68c"/>
<text x="1853.7" y="2361.1" font-size="20.5">SBS5</text>
<rect x="1696.7" y="2372.5" width="29.6" height="29.5" fill="#5f2d7e"/>
<text x="1736.3" y="2395.5" font-size="20.5">SBS2</text>
<rect x="1814.1" y="2371.7" width="29.6" height="29.5" fill="#81599a"/>
<text x="1853.7" y="2394.7" font-size="20.5">SBS13</text>
<rect x="1696.7" y="2422" width="29.6" height="29.5" fill="#48a874"/>
<text x="1736.3" y="2445" font-size="20.5">Trunk</text>
<rect x="1814.1" y="2421.4" width="29.6" height="29.5" fill="#cb6699"/>
<text x="1853.7" y="2444.4" font-size="20.5">Branch</text>
</svg>
</div></body></html>
